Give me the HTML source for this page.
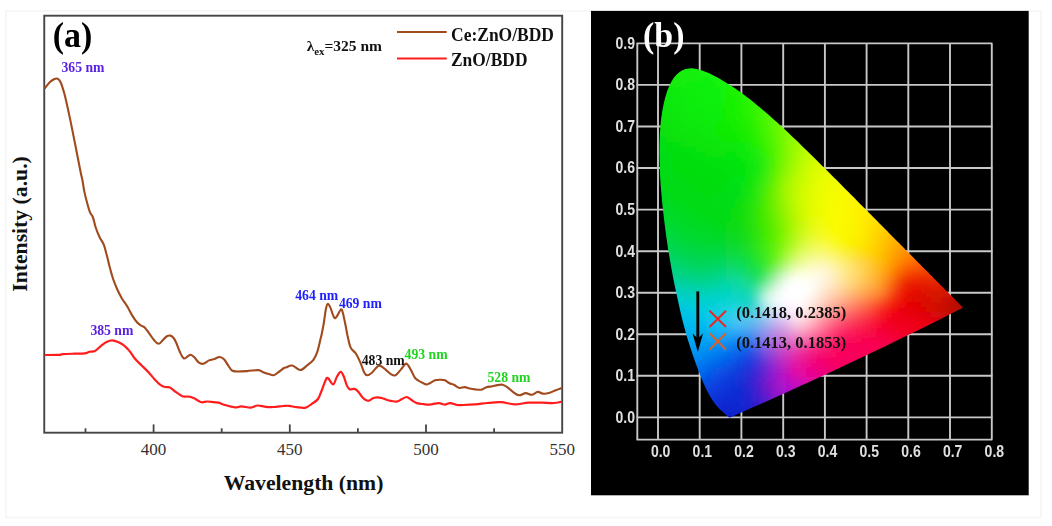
<!DOCTYPE html>
<html><head><meta charset="utf-8"><style>
html,body{margin:0;padding:0;background:#fff;}
body{width:1052px;height:526px;overflow:hidden;}
svg{display:block;filter:blur(0.4px);}
.serif{font-family:"Liberation Serif",serif;}
.sans{font-family:"Liberation Sans",sans-serif;}
#fld rect{width:5px;height:5px;}
</style></head><body>
<svg width="1052" height="526" viewBox="0 0 1052 526">
<defs>
<clipPath id="hs"><path d="M730.2,417.4 L729.2,417.4 L728.3,416.8 L727.4,416.1 L726.7,415.3 L725.7,414.5 L724.8,413.7 L723.8,412.8 L723.0,412.0 L722.1,411.3 L721.1,410.4 L720.1,409.4 L718.9,408.3 L717.7,407.0 L716.4,405.5 L715.7,404.7 L715.0,403.8 L714.2,402.7 L713.4,401.5 L712.5,400.2 L711.5,398.7 L710.5,397.0 L709.5,395.2 L708.4,393.2 L707.2,390.9 L706.0,388.5 L704.8,385.9 L703.4,382.9 L702.1,379.7 L700.6,376.2 L699.1,372.3 L697.5,368.2 L695.8,363.6 L694.1,358.7 L692.3,353.5 L690.4,347.8 L688.4,341.6 L686.4,335.0 L684.5,327.9 L682.5,320.5 L680.6,312.5 L678.7,304.1 L676.8,295.3 L674.8,286.1 L672.9,276.4 L671.1,266.4 L669.3,256.2 L667.6,245.8 L666.1,235.2 L664.7,224.6 L663.4,214.0 L662.3,203.4 L661.3,192.8 L660.5,182.4 L659.9,172.3 L659.6,162.5 L659.4,153.0 L659.5,143.8 L659.8,134.9 L660.4,126.4 L661.2,118.3 L662.3,110.7 L663.7,103.7 L665.3,97.2 L667.1,91.3 L669.2,86.0 L671.5,81.5 L674.0,77.6 L676.7,74.5 L679.6,72.1 L682.5,70.3 L685.6,69.1 L688.8,68.5 L692.0,68.3 L695.3,68.7 L698.6,69.4 L702.0,70.4 L705.3,71.7 L708.7,73.1 L712.1,74.7 L715.5,76.5 L718.9,78.3 L722.2,80.2 L725.4,82.2 L728.6,84.2 L731.8,86.2 L734.9,88.3 L738.0,90.4 L741.1,92.6 L744.2,94.9 L747.2,97.2 L750.3,99.5 L753.3,101.9 L756.3,104.4 L759.3,106.9 L762.3,109.4 L765.3,112.0 L768.3,114.6 L771.3,117.2 L774.3,119.9 L777.3,122.6 L780.2,125.3 L783.2,128.0 L786.2,130.8 L789.2,133.6 L792.1,136.4 L795.1,139.3 L798.1,142.1 L801.0,145.0 L804.0,147.9 L807.0,150.8 L810.0,153.7 L812.9,156.6 L815.9,159.5 L818.9,162.5 L821.8,165.4 L824.8,168.3 L827.7,171.3 L830.7,174.2 L833.6,177.2 L836.6,180.1 L839.5,183.0 L842.4,186.0 L845.3,188.9 L848.2,191.8 L851.1,194.7 L854.0,197.6 L856.8,200.5 L859.7,203.4 L862.5,206.2 L865.3,209.0 L868.1,211.9 L870.8,214.6 L873.6,217.4 L876.3,220.1 L879.0,222.9 L881.6,225.5 L884.3,228.2 L886.9,230.8 L889.4,233.4 L891.9,235.9 L894.4,238.4 L896.9,240.9 L899.3,243.3 L901.7,245.7 L904.0,248.1 L906.2,250.4 L908.4,252.6 L910.5,254.7 L912.6,256.8 L914.6,258.8 L916.5,260.8 L918.4,262.7 L920.3,264.6 L922.1,266.4 L923.9,268.2 L925.6,269.9 L927.2,271.6 L928.8,273.1 L930.3,274.7 L931.8,276.1 L933.2,277.5 L934.5,278.9 L935.8,280.2 L937.1,281.4 L938.2,282.6 L939.4,283.8 L940.5,284.9 L941.5,285.9 L942.5,286.9 L943.5,287.9 L944.4,288.8 L945.2,289.7 L946.0,290.5 L946.8,291.3 L947.6,292.1 L948.3,292.8 L949.7,294.2 L950.9,295.4 L952.0,296.6 L953.1,297.6 L954.1,298.6 L955.0,299.6 L955.9,300.4 L956.7,301.2 L957.4,301.9 L958.3,302.9 L959.1,303.7 L960.0,304.6 L960.8,305.4 L961.6,306.2 L962.3,307.0 L963.1,307.7 L951.5,313.6 L939.9,319.4 L928.2,325.2 L916.6,330.9 L904.9,336.6 L893.3,342.3 L881.6,347.9 L870.0,353.5 L858.3,359.1 L846.7,364.6 L835.1,370.1 L823.4,375.5 L811.8,380.8 L800.1,386.1 L788.5,391.4 L776.8,396.7 L765.2,401.9 L753.5,407.1 L741.9,412.2 Z"/></clipPath>
<filter id="bl" x="-10%" y="-10%" width="120%" height="120%"><feGaussianBlur stdDeviation="3.6"/></filter>
</defs>
<rect x="6" y="11" width="1035" height="506.5" fill="#fff" stroke="#f7f7f7" stroke-width="2"/>
<!-- panel a -->
<rect x="44.25" y="15.7" width="517.95" height="417" fill="#fff" stroke="#454545" stroke-width="1.9"/>
<g stroke="#454545" stroke-width="1.8"><line x1="153.6" y1="432.7" x2="153.6" y2="424.4"/><line x1="289.8" y1="432.7" x2="289.8" y2="424.4"/><line x1="426.0" y1="432.7" x2="426.0" y2="424.4"/><line x1="85.5" y1="432.7" x2="85.5" y2="428.3"/><line x1="221.7" y1="432.7" x2="221.7" y2="428.3"/><line x1="357.9" y1="432.7" x2="357.9" y2="428.3"/><line x1="494.1" y1="432.7" x2="494.1" y2="428.3"/></g>
<g class="serif" font-size="17" fill="#333" text-anchor="middle"><text x="153.6" y="455.3">400</text><text x="289.8" y="455.3">450</text><text x="426.0" y="455.3">500</text><text x="562.2" y="455.3">550</text></g>
<text class="serif" x="303.6" y="490.4" font-size="21.7" font-weight="bold" text-anchor="middle" fill="#111">Wavelength (nm)</text>
<text class="serif" transform="translate(26.8,224) rotate(-90)" font-size="21.7" font-weight="bold" text-anchor="middle" fill="#111">Intensity (a.u.)</text>
<text class="serif" x="52.8" y="47.4" font-size="36" font-weight="bold" fill="#000" textLength="39.6" lengthAdjust="spacingAndGlyphs">(a)</text>
<path d="M44.6,88.5 C45.5,87.4 48.4,83.5 50.0,82.0 C51.6,80.5 52.8,79.8 54.0,79.2 C55.2,78.6 56.3,78.1 57.4,78.6 C58.5,79.1 59.3,79.3 60.5,82.0 C61.7,84.7 63.0,88.5 64.6,94.6 C66.2,100.7 68.2,110.2 70.0,118.6 C71.8,127.0 73.5,136.1 75.3,145.0 C77.1,153.9 79.4,166.2 80.6,172.0 C81.8,177.8 81.8,176.8 82.4,180.0 C83.0,183.2 83.5,187.6 84.3,191.4 C85.1,195.2 86.1,199.3 87.1,202.8 C88.0,206.3 89.0,209.9 90.0,212.3 C91.0,214.7 91.8,214.5 92.8,217.0 C93.8,219.5 94.6,224.2 95.7,227.5 C96.8,230.8 98.2,234.2 99.5,237.0 C100.8,239.8 102.5,241.4 103.8,244.6 C105.0,247.8 105.9,251.9 107.0,256.0 C108.1,260.1 109.2,265.4 110.3,269.3 C111.3,273.2 112.2,276.2 113.3,279.5 C114.4,282.8 115.7,285.8 117.1,289.0 C118.5,292.2 120.2,295.5 121.9,298.5 C123.7,301.5 125.9,304.1 127.6,307.0 C129.3,309.9 130.7,313.1 132.3,315.6 C133.9,318.2 135.6,320.7 137.0,322.3 C138.4,323.9 139.6,324.6 140.9,325.5 C142.2,326.4 143.3,326.0 144.7,327.4 C146.1,328.8 147.8,331.5 149.4,333.7 C151.0,335.9 152.7,338.6 154.2,340.3 C155.7,342.0 157.2,343.8 158.6,343.8 C160.0,343.8 161.4,341.5 162.7,340.3 C164.0,339.1 165.2,337.3 166.5,336.5 C167.8,335.7 169.2,335.4 170.3,335.6 C171.4,335.8 172.2,336.4 173.2,337.5 C174.1,338.6 174.9,339.8 176.0,342.2 C177.1,344.6 178.5,349.0 179.8,351.7 C181.1,354.4 182.4,357.6 183.7,358.4 C185.0,359.2 186.3,357.1 187.5,356.5 C188.7,355.9 189.6,354.5 190.8,354.7 C192.0,354.9 193.3,356.2 194.6,357.5 C195.9,358.8 197.1,361.2 198.6,362.3 C200.1,363.4 201.6,364.1 203.3,363.8 C205.0,363.5 207.1,361.2 209.0,360.4 C210.9,359.6 212.9,359.5 214.7,358.9 C216.4,358.3 217.9,356.9 219.5,357.0 C221.1,357.1 222.8,358.1 224.2,359.5 C225.6,360.9 226.7,363.4 228.0,365.2 C229.3,367.0 230.5,369.3 231.8,370.3 C233.1,371.3 233.1,371.3 235.6,371.4 C238.1,371.5 243.2,371.3 247.0,371.1 C250.8,370.9 255.7,369.9 258.4,370.1 C261.1,370.3 261.4,371.5 263.2,372.2 C264.9,372.9 267.1,373.6 268.9,374.1 C270.6,374.6 272.1,375.5 273.7,375.2 C275.3,374.9 276.7,373.4 278.4,372.2 C280.1,371.0 282.8,368.8 284.1,368.0 C285.4,367.2 284.8,367.8 286.1,367.4 C287.5,367.0 289.8,365.1 292.2,365.5 C294.6,365.9 298.0,370.1 300.5,370.0 C303.0,369.9 305.2,366.8 307.4,365.1 C309.5,363.4 311.8,362.0 313.4,359.8 C315.0,357.6 316.0,355.5 317.2,352.2 C318.4,348.9 319.6,342.9 320.3,340.0 C321.0,337.1 320.9,337.7 321.5,335.0 C322.1,332.3 322.9,328.1 323.7,323.7 C324.4,319.3 325.3,311.8 326.0,308.5 C326.7,305.2 327.2,303.9 327.9,303.8 C328.6,303.7 329.3,305.3 330.4,307.6 C331.4,309.9 333.1,316.2 334.2,317.6 C335.3,319.0 335.9,317.5 337.0,316.1 C338.1,314.8 339.9,310.1 340.8,309.5 C341.8,308.9 341.9,309.6 342.7,312.3 C343.5,315.0 344.8,321.7 345.6,325.6 C346.4,329.6 346.8,332.3 347.6,336.0 C348.5,339.7 349.3,344.7 350.7,347.6 C352.1,350.6 354.4,351.2 356.0,353.7 C357.6,356.2 359.1,359.6 360.5,362.8 C361.9,366.0 363.2,370.6 364.3,372.7 C365.4,374.8 366.1,375.3 367.4,375.3 C368.7,375.3 370.2,374.1 371.9,372.7 C373.5,371.2 375.9,367.8 377.3,366.6 C378.7,365.5 378.9,365.3 380.3,365.8 C381.7,366.3 384.0,368.3 385.6,369.6 C387.2,370.9 388.6,372.8 390.2,373.7 C391.8,374.6 393.7,376.0 395.5,375.3 C397.3,374.6 399.0,371.6 400.8,369.6 C402.6,367.7 404.6,363.6 406.2,363.6 C407.8,363.6 409.2,367.2 410.7,369.6 C412.2,372.1 413.6,376.3 415.3,378.3 C417.0,380.3 418.8,380.8 420.6,381.8 C422.4,382.8 424.4,384.1 425.9,384.4 C427.4,384.6 428.2,384.0 429.7,383.3 C431.2,382.6 433.2,380.9 435.0,380.3 C436.8,379.7 438.7,379.8 440.3,379.8 C441.9,379.8 443.4,379.7 444.9,380.3 C446.4,380.9 448.0,382.6 449.5,383.3 C451.0,384.1 452.4,384.0 454.0,384.8 C455.6,385.6 457.5,387.5 459.3,387.9 C461.1,388.3 462.9,387.0 464.7,387.1 C466.5,387.2 468.3,388.2 470.0,388.6 C471.7,389.0 473.1,389.2 475.0,389.4 C476.9,389.6 479.4,390.0 481.3,389.7 C483.2,389.4 484.5,387.9 486.4,387.3 C488.2,386.7 490.5,386.7 492.4,386.3 C494.2,385.9 495.8,385.4 497.5,385.1 C499.2,384.8 500.9,384.3 502.6,384.7 C504.3,385.1 506.1,386.4 507.8,387.6 C509.5,388.8 511.0,390.6 512.9,391.9 C514.8,393.2 516.8,395.1 518.9,395.3 C521.0,395.5 523.6,393.2 525.7,393.1 C527.8,393.0 529.7,395.0 531.7,394.8 C533.7,394.6 535.9,392.1 537.7,391.9 C539.6,391.7 540.9,393.4 542.8,393.6 C544.6,393.8 546.6,393.7 548.8,393.1 C550.9,392.5 553.6,391.1 555.7,390.2 C557.9,389.3 560.7,388.4 561.7,388.0" fill="none" stroke="#a04a1e" stroke-width="2.1" stroke-linejoin="round"/>
<path d="M44.8,355.0 C47.1,355.0 56.0,355.0 59.0,354.9 C62.0,354.8 60.3,354.3 62.8,354.1 C65.3,353.9 70.5,353.8 74.2,353.7 C77.9,353.6 82.2,353.6 84.7,353.3 C87.2,353.0 87.7,352.2 89.4,351.8 C91.1,351.4 93.2,351.8 95.1,350.9 C97.0,349.9 98.9,347.6 100.8,346.1 C102.7,344.6 104.6,342.9 106.5,342.0 C108.4,341.1 110.3,340.4 112.2,340.4 C114.1,340.4 116.1,341.2 118.0,342.0 C119.9,342.8 121.7,343.7 123.6,345.2 C125.5,346.7 127.5,348.7 129.4,350.9 C131.3,353.1 132.8,356.1 134.8,358.5 C136.8,360.9 139.0,362.8 141.4,365.2 C143.8,367.6 146.8,370.4 149.0,372.8 C151.2,375.2 152.8,377.4 154.7,379.4 C156.6,381.4 158.7,383.5 160.4,384.8 C162.2,386.1 163.6,386.6 165.2,387.0 C166.8,387.4 168.2,386.6 169.9,387.4 C171.6,388.2 173.5,390.3 175.6,391.8 C177.7,393.3 180.4,395.4 182.3,396.2 C184.2,397.0 185.7,396.4 187.0,396.5 C188.3,396.6 188.7,396.4 190.0,396.8 C191.3,397.2 192.7,397.7 194.6,398.6 C196.5,399.5 199.2,401.7 201.3,402.2 C203.4,402.7 204.9,401.5 207.0,401.5 C209.1,401.5 211.8,402.0 213.7,402.2 C215.6,402.4 216.7,402.2 218.4,402.6 C220.1,403.0 221.4,403.9 224.1,404.7 C226.8,405.5 231.8,407.1 234.7,407.4 C237.6,407.7 238.6,406.4 241.3,406.4 C244.0,406.4 248.1,407.8 250.8,407.6 C253.5,407.5 255.0,405.6 257.5,405.5 C260.0,405.4 263.3,406.6 266.0,406.8 C268.7,407.1 270.8,407.1 273.7,407.0 C276.6,406.9 280.6,406.2 283.2,406.0 C285.8,405.8 286.9,405.6 289.1,405.8 C291.4,406.0 293.9,406.9 296.7,407.2 C299.5,407.5 303.3,408.2 305.8,407.6 C308.3,407.0 309.9,405.2 311.9,403.8 C313.9,402.4 316.4,401.3 318.0,399.0 C319.6,396.7 320.5,393.3 321.8,390.2 C323.1,387.1 324.6,382.3 325.6,380.3 C326.6,378.3 326.6,377.3 327.9,378.0 C329.2,378.7 331.7,384.6 333.2,384.4 C334.7,384.1 335.7,378.6 337.0,376.5 C338.3,374.4 339.7,371.9 340.8,371.9 C341.9,371.9 342.8,374.2 343.8,376.5 C344.8,378.8 345.9,383.5 346.9,385.6 C347.9,387.8 348.6,388.8 349.9,389.4 C351.2,389.9 353.1,388.5 354.5,388.9 C355.9,389.3 356.9,390.2 358.3,391.7 C359.7,393.2 361.2,396.3 362.8,397.8 C364.4,399.3 366.2,400.8 368.1,400.8 C370.0,400.8 372.0,398.3 374.2,397.8 C376.4,397.3 378.9,397.4 381.1,397.8 C383.3,398.2 384.7,399.4 387.2,400.0 C389.7,400.6 393.9,401.7 396.3,401.6 C398.7,401.5 399.9,400.1 401.6,399.3 C403.3,398.5 405.0,396.9 406.6,397.0 C408.2,397.1 409.8,399.0 411.5,400.0 C413.2,401.0 414.8,402.4 416.8,403.1 C418.8,403.8 421.5,403.9 423.6,404.1 C425.8,404.4 427.2,404.8 429.7,404.6 C432.2,404.4 436.3,403.1 438.8,403.1 C441.3,403.1 443.0,404.6 444.9,404.6 C446.8,404.6 448.2,403.0 450.2,403.1 C452.2,403.2 455.0,404.7 457.1,405.0 C459.2,405.3 460.1,405.1 463.1,405.0 C466.1,404.9 471.3,404.7 475.3,404.4 C479.3,404.1 482.9,403.4 487.2,403.0 C491.5,402.6 496.3,402.0 500.9,402.2 C505.5,402.4 510.0,404.3 514.6,404.4 C519.2,404.5 523.7,403.0 528.3,402.7 C532.9,402.4 537.7,402.6 542.0,402.7 C546.3,402.8 550.7,403.2 554.0,403.0 C557.3,402.8 560.4,401.9 561.7,401.7" fill="none" stroke="#ff1c1c" stroke-width="2.2" stroke-linejoin="round"/>
<g class="serif" font-weight="bold" font-size="13.7">
<text x="61.5" y="72.1" fill="#5a22e0">365 nm</text>
<text x="90.4" y="335.1" fill="#5a22e0">385 nm</text>
<text x="295.2" y="299.6" fill="#1e1eff">464 nm</text>
<text x="338.9" y="307.6" fill="#1e1eff">469 nm</text>
<text x="361.7" y="365" fill="#111">483 nm</text>
<text x="404.6" y="358.6" fill="#22d422">493 nm</text>
<text x="487.5" y="382" fill="#22d422">528 nm</text>
</g>
<text class="serif" x="306.7" y="51.1" font-size="15.5" font-weight="bold" fill="#111">&#955;<tspan font-size="10.8" dy="4">ex</tspan><tspan dy="-4">=325 nm</tspan></text>
<line x1="397" y1="32" x2="446.7" y2="32" stroke="#a04a1e" stroke-width="2"/>
<line x1="397" y1="58.4" x2="446.7" y2="58.4" stroke="#ff1c1c" stroke-width="2"/>
<g class="serif" font-size="19" font-weight="bold" fill="#111">
<text x="451" y="41" textLength="103" lengthAdjust="spacingAndGlyphs">Ce:ZnO/BDD</text>
<text x="451" y="66.3" textLength="76.5" lengthAdjust="spacingAndGlyphs">ZnO/BDD</text>
</g>
<!-- panel b -->
<rect x="591" y="10.9" width="437.7" height="484.4" fill="#000"/>
<g stroke="#c8c8c8" stroke-width="1.9"><line x1="637.3" y1="43.4" x2="637.3" y2="439.6"/><line x1="658.0" y1="43.4" x2="658.0" y2="439.6"/><line x1="699.7" y1="43.4" x2="699.7" y2="439.6"/><line x1="741.4" y1="43.4" x2="741.4" y2="439.6"/><line x1="783.2" y1="43.4" x2="783.2" y2="439.6"/><line x1="824.9" y1="43.4" x2="824.9" y2="439.6"/><line x1="866.6" y1="43.4" x2="866.6" y2="439.6"/><line x1="908.3" y1="43.4" x2="908.3" y2="439.6"/><line x1="950.0" y1="43.4" x2="950.0" y2="439.6"/><line x1="991.8" y1="43.4" x2="991.8" y2="439.6"/><line x1="636.5" y1="417.4" x2="992.4" y2="417.4"/><line x1="636.5" y1="375.8" x2="992.4" y2="375.8"/><line x1="636.5" y1="334.3" x2="992.4" y2="334.3"/><line x1="636.5" y1="292.7" x2="992.4" y2="292.7"/><line x1="636.5" y1="251.2" x2="992.4" y2="251.2"/><line x1="636.5" y1="209.6" x2="992.4" y2="209.6"/><line x1="636.5" y1="168.0" x2="992.4" y2="168.0"/><line x1="636.5" y1="126.5" x2="992.4" y2="126.5"/><line x1="636.5" y1="84.9" x2="992.4" y2="84.9"/><line x1="636.5" y1="43.4" x2="992.4" y2="43.4"/><line x1="636.5" y1="439.6" x2="992.4" y2="439.6"/></g>
<g clip-path="url(#hs)"><g id="fld" filter="url(#bl)"><rect x="686" y="52" width="5" height="5" fill="#14f00a"/>
<rect x="691" y="52" width="5" height="5" fill="#14f00a"/>
<rect x="696" y="52" width="5" height="5" fill="#14f109"/>
<rect x="676" y="57" width="5" height="5" fill="#14f00a"/>
<rect x="681" y="57" width="5" height="5" fill="#14f00a"/>
<rect x="686" y="57" width="5" height="5" fill="#14f00a"/>
<rect x="691" y="57" width="5" height="5" fill="#14f00a"/>
<rect x="696" y="57" width="5" height="5" fill="#14f109"/>
<rect x="701" y="57" width="5" height="5" fill="#14f109"/>
<rect x="706" y="57" width="5" height="5" fill="#14f109"/>
<rect x="666" y="62" width="5" height="5" fill="#13ee0b"/>
<rect x="671" y="62" width="5" height="5" fill="#13ee0b"/>
<rect x="676" y="62" width="5" height="5" fill="#13ee0b"/>
<rect x="681" y="62" width="5" height="5" fill="#14f00a"/>
<rect x="686" y="62" width="5" height="5" fill="#14f00a"/>
<rect x="691" y="62" width="5" height="5" fill="#14f00a"/>
<rect x="696" y="62" width="5" height="5" fill="#14f109"/>
<rect x="701" y="62" width="5" height="5" fill="#14f109"/>
<rect x="706" y="62" width="5" height="5" fill="#12f109"/>
<rect x="711" y="62" width="5" height="5" fill="#12f109"/>
<rect x="716" y="62" width="5" height="5" fill="#12f109"/>
<rect x="661" y="67" width="5" height="5" fill="#12ec0c"/>
<rect x="666" y="67" width="5" height="5" fill="#12ec0c"/>
<rect x="671" y="67" width="5" height="5" fill="#13ee0b"/>
<rect x="676" y="67" width="5" height="5" fill="#13ee0b"/>
<rect x="681" y="67" width="5" height="5" fill="#13ee0b"/>
<rect x="686" y="67" width="5" height="5" fill="#14f00a"/>
<rect x="691" y="67" width="5" height="5" fill="#14f00a"/>
<rect x="696" y="67" width="5" height="5" fill="#14f109"/>
<rect x="701" y="67" width="5" height="5" fill="#14f109"/>
<rect x="706" y="67" width="5" height="5" fill="#12f109"/>
<rect x="711" y="67" width="5" height="5" fill="#12f109"/>
<rect x="716" y="67" width="5" height="5" fill="#13f209"/>
<rect x="721" y="67" width="5" height="5" fill="#13f209"/>
<rect x="726" y="67" width="5" height="5" fill="#13f209"/>
<rect x="661" y="72" width="5" height="5" fill="#12ec0c"/>
<rect x="666" y="72" width="5" height="5" fill="#12ec0c"/>
<rect x="671" y="72" width="5" height="5" fill="#12ec0c"/>
<rect x="676" y="72" width="5" height="5" fill="#13ee0b"/>
<rect x="681" y="72" width="5" height="5" fill="#13ee0b"/>
<rect x="686" y="72" width="5" height="5" fill="#13ef0a"/>
<rect x="691" y="72" width="5" height="5" fill="#13f00a"/>
<rect x="696" y="72" width="5" height="5" fill="#12f00a"/>
<rect x="701" y="72" width="5" height="5" fill="#12f10a"/>
<rect x="706" y="72" width="5" height="5" fill="#12f109"/>
<rect x="711" y="72" width="5" height="5" fill="#12f109"/>
<rect x="716" y="72" width="5" height="5" fill="#13f209"/>
<rect x="721" y="72" width="5" height="5" fill="#13f209"/>
<rect x="726" y="72" width="5" height="5" fill="#17f207"/>
<rect x="731" y="72" width="5" height="5" fill="#17f207"/>
<rect x="736" y="72" width="5" height="5" fill="#17f207"/>
<rect x="656" y="77" width="5" height="5" fill="#11ea0d"/>
<rect x="661" y="77" width="5" height="5" fill="#12ec0c"/>
<rect x="666" y="77" width="5" height="5" fill="#12ec0c"/>
<rect x="671" y="77" width="5" height="5" fill="#12ec0c"/>
<rect x="676" y="77" width="5" height="5" fill="#12ed0c"/>
<rect x="681" y="77" width="5" height="5" fill="#12ee0b"/>
<rect x="686" y="77" width="5" height="5" fill="#12ef0b"/>
<rect x="691" y="77" width="5" height="5" fill="#12ef0a"/>
<rect x="696" y="77" width="5" height="5" fill="#12f00a"/>
<rect x="701" y="77" width="5" height="5" fill="#11f00a"/>
<rect x="706" y="77" width="5" height="5" fill="#11f109"/>
<rect x="711" y="77" width="5" height="5" fill="#12f109"/>
<rect x="716" y="77" width="5" height="5" fill="#13f209"/>
<rect x="721" y="77" width="5" height="5" fill="#13f209"/>
<rect x="726" y="77" width="5" height="5" fill="#17f207"/>
<rect x="731" y="77" width="5" height="5" fill="#17f207"/>
<rect x="736" y="77" width="5" height="5" fill="#17f207"/>
<rect x="741" y="77" width="5" height="5" fill="#1bf305"/>
<rect x="656" y="82" width="5" height="5" fill="#11ea0d"/>
<rect x="661" y="82" width="5" height="5" fill="#11ea0d"/>
<rect x="666" y="82" width="5" height="5" fill="#11ea0d"/>
<rect x="671" y="82" width="5" height="5" fill="#12eb0c"/>
<rect x="676" y="82" width="5" height="5" fill="#12ec0c"/>
<rect x="681" y="82" width="5" height="5" fill="#12ed0b"/>
<rect x="686" y="82" width="5" height="5" fill="#11ee0b"/>
<rect x="691" y="82" width="5" height="5" fill="#11ef0b"/>
<rect x="696" y="82" width="5" height="5" fill="#11ef0a"/>
<rect x="701" y="82" width="5" height="5" fill="#11f00a"/>
<rect x="706" y="82" width="5" height="5" fill="#11f00a"/>
<rect x="711" y="82" width="5" height="5" fill="#11f109"/>
<rect x="716" y="82" width="5" height="5" fill="#12f108"/>
<rect x="721" y="82" width="5" height="5" fill="#14f208"/>
<rect x="726" y="82" width="5" height="5" fill="#17f207"/>
<rect x="731" y="82" width="5" height="5" fill="#17f207"/>
<rect x="736" y="82" width="5" height="5" fill="#1bf305"/>
<rect x="741" y="82" width="5" height="5" fill="#25f402"/>
<rect x="746" y="82" width="5" height="5" fill="#25f402"/>
<rect x="751" y="82" width="5" height="5" fill="#25f402"/>
<rect x="651" y="87" width="5" height="5" fill="#11ea0d"/>
<rect x="656" y="87" width="5" height="5" fill="#11ea0d"/>
<rect x="661" y="87" width="5" height="5" fill="#11ea0d"/>
<rect x="666" y="87" width="5" height="5" fill="#11ea0d"/>
<rect x="671" y="87" width="5" height="5" fill="#11eb0d"/>
<rect x="676" y="87" width="5" height="5" fill="#11ec0c"/>
<rect x="681" y="87" width="5" height="5" fill="#11ed0c"/>
<rect x="686" y="87" width="5" height="5" fill="#11ee0b"/>
<rect x="691" y="87" width="5" height="5" fill="#11ee0b"/>
<rect x="696" y="87" width="5" height="5" fill="#10ef0a"/>
<rect x="701" y="87" width="5" height="5" fill="#10f00a"/>
<rect x="706" y="87" width="5" height="5" fill="#10f009"/>
<rect x="711" y="87" width="5" height="5" fill="#10f109"/>
<rect x="716" y="87" width="5" height="5" fill="#11f108"/>
<rect x="721" y="87" width="5" height="5" fill="#13f107"/>
<rect x="726" y="87" width="5" height="5" fill="#17f206"/>
<rect x="731" y="87" width="5" height="5" fill="#1bf305"/>
<rect x="736" y="87" width="5" height="5" fill="#1bf305"/>
<rect x="741" y="87" width="5" height="5" fill="#25f402"/>
<rect x="746" y="87" width="5" height="5" fill="#25f402"/>
<rect x="751" y="87" width="5" height="5" fill="#25f402"/>
<rect x="756" y="87" width="5" height="5" fill="#2bf401"/>
<rect x="651" y="92" width="5" height="5" fill="#11e90e"/>
<rect x="656" y="92" width="5" height="5" fill="#11e90e"/>
<rect x="661" y="92" width="5" height="5" fill="#11e90e"/>
<rect x="666" y="92" width="5" height="5" fill="#11e90e"/>
<rect x="671" y="92" width="5" height="5" fill="#11ea0d"/>
<rect x="676" y="92" width="5" height="5" fill="#11eb0c"/>
<rect x="681" y="92" width="5" height="5" fill="#10ec0c"/>
<rect x="686" y="92" width="5" height="5" fill="#10ed0b"/>
<rect x="691" y="92" width="5" height="5" fill="#10ee0b"/>
<rect x="696" y="92" width="5" height="5" fill="#10ef0a"/>
<rect x="701" y="92" width="5" height="5" fill="#10ef0a"/>
<rect x="706" y="92" width="5" height="5" fill="#10f009"/>
<rect x="711" y="92" width="5" height="5" fill="#10f009"/>
<rect x="716" y="92" width="5" height="5" fill="#11f108"/>
<rect x="721" y="92" width="5" height="5" fill="#13f107"/>
<rect x="726" y="92" width="5" height="5" fill="#16f206"/>
<rect x="731" y="92" width="5" height="5" fill="#1af205"/>
<rect x="736" y="92" width="5" height="5" fill="#1ff303"/>
<rect x="741" y="92" width="5" height="5" fill="#25f402"/>
<rect x="746" y="92" width="5" height="5" fill="#25f402"/>
<rect x="751" y="92" width="5" height="5" fill="#2bf401"/>
<rect x="756" y="92" width="5" height="5" fill="#2bf401"/>
<rect x="761" y="92" width="5" height="5" fill="#32f500"/>
<rect x="651" y="97" width="5" height="5" fill="#0ee50f"/>
<rect x="656" y="97" width="5" height="5" fill="#10e80e"/>
<rect x="661" y="97" width="5" height="5" fill="#10e80e"/>
<rect x="666" y="97" width="5" height="5" fill="#10e80e"/>
<rect x="671" y="97" width="5" height="5" fill="#10e90d"/>
<rect x="676" y="97" width="5" height="5" fill="#10ea0c"/>
<rect x="681" y="97" width="5" height="5" fill="#10eb0c"/>
<rect x="686" y="97" width="5" height="5" fill="#10ec0b"/>
<rect x="691" y="97" width="5" height="5" fill="#10ed0b"/>
<rect x="696" y="97" width="5" height="5" fill="#0fee0a"/>
<rect x="701" y="97" width="5" height="5" fill="#0fef0a"/>
<rect x="706" y="97" width="5" height="5" fill="#0fef09"/>
<rect x="711" y="97" width="5" height="5" fill="#10f008"/>
<rect x="716" y="97" width="5" height="5" fill="#11f008"/>
<rect x="721" y="97" width="5" height="5" fill="#13f107"/>
<rect x="726" y="97" width="5" height="5" fill="#15f106"/>
<rect x="731" y="97" width="5" height="5" fill="#19f204"/>
<rect x="736" y="97" width="5" height="5" fill="#1ef203"/>
<rect x="741" y="97" width="5" height="5" fill="#24f302"/>
<rect x="746" y="97" width="5" height="5" fill="#2bf401"/>
<rect x="751" y="97" width="5" height="5" fill="#2bf401"/>
<rect x="756" y="97" width="5" height="5" fill="#32f500"/>
<rect x="761" y="97" width="5" height="5" fill="#32f500"/>
<rect x="766" y="97" width="5" height="5" fill="#3bf500"/>
<rect x="651" y="102" width="5" height="5" fill="#0ee50f"/>
<rect x="656" y="102" width="5" height="5" fill="#0ee50f"/>
<rect x="661" y="102" width="5" height="5" fill="#0ee50f"/>
<rect x="666" y="102" width="5" height="5" fill="#0fe70e"/>
<rect x="671" y="102" width="5" height="5" fill="#0fe80d"/>
<rect x="676" y="102" width="5" height="5" fill="#0fe90d"/>
<rect x="681" y="102" width="5" height="5" fill="#0fea0c"/>
<rect x="686" y="102" width="5" height="5" fill="#0fec0b"/>
<rect x="691" y="102" width="5" height="5" fill="#0fed0b"/>
<rect x="696" y="102" width="5" height="5" fill="#0fee0a"/>
<rect x="701" y="102" width="5" height="5" fill="#0fee09"/>
<rect x="706" y="102" width="5" height="5" fill="#0fef09"/>
<rect x="711" y="102" width="5" height="5" fill="#0fef08"/>
<rect x="716" y="102" width="5" height="5" fill="#10ef07"/>
<rect x="721" y="102" width="5" height="5" fill="#12f006"/>
<rect x="726" y="102" width="5" height="5" fill="#15f005"/>
<rect x="731" y="102" width="5" height="5" fill="#19f104"/>
<rect x="736" y="102" width="5" height="5" fill="#1df203"/>
<rect x="741" y="102" width="5" height="5" fill="#23f302"/>
<rect x="746" y="102" width="5" height="5" fill="#2af401"/>
<rect x="751" y="102" width="5" height="5" fill="#32f500"/>
<rect x="756" y="102" width="5" height="5" fill="#32f500"/>
<rect x="761" y="102" width="5" height="5" fill="#3bf500"/>
<rect x="766" y="102" width="5" height="5" fill="#3bf500"/>
<rect x="771" y="102" width="5" height="5" fill="#45f600"/>
<rect x="646" y="107" width="5" height="5" fill="#0ee50f"/>
<rect x="651" y="107" width="5" height="5" fill="#0ee50f"/>
<rect x="656" y="107" width="5" height="5" fill="#0ee50f"/>
<rect x="661" y="107" width="5" height="5" fill="#0ee50f"/>
<rect x="666" y="107" width="5" height="5" fill="#0ee60e"/>
<rect x="671" y="107" width="5" height="5" fill="#0ee70d"/>
<rect x="676" y="107" width="5" height="5" fill="#0ee80d"/>
<rect x="681" y="107" width="5" height="5" fill="#0ee90c"/>
<rect x="686" y="107" width="5" height="5" fill="#0eeb0b"/>
<rect x="691" y="107" width="5" height="5" fill="#0eec0b"/>
<rect x="696" y="107" width="5" height="5" fill="#0eed0a"/>
<rect x="701" y="107" width="5" height="5" fill="#0eed09"/>
<rect x="706" y="107" width="5" height="5" fill="#0eee08"/>
<rect x="711" y="107" width="5" height="5" fill="#0fee08"/>
<rect x="716" y="107" width="5" height="5" fill="#10ef07"/>
<rect x="721" y="107" width="5" height="5" fill="#11ef06"/>
<rect x="726" y="107" width="5" height="5" fill="#14f005"/>
<rect x="731" y="107" width="5" height="5" fill="#18f004"/>
<rect x="736" y="107" width="5" height="5" fill="#1cf103"/>
<rect x="741" y="107" width="5" height="5" fill="#22f202"/>
<rect x="746" y="107" width="5" height="5" fill="#29f301"/>
<rect x="751" y="107" width="5" height="5" fill="#31f400"/>
<rect x="756" y="107" width="5" height="5" fill="#3bf500"/>
<rect x="761" y="107" width="5" height="5" fill="#3bf500"/>
<rect x="766" y="107" width="5" height="5" fill="#45f600"/>
<rect x="771" y="107" width="5" height="5" fill="#5df800"/>
<rect x="776" y="107" width="5" height="5" fill="#5df800"/>
<rect x="781" y="107" width="5" height="5" fill="#5df800"/>
<rect x="646" y="112" width="5" height="5" fill="#0de410"/>
<rect x="651" y="112" width="5" height="5" fill="#0de410"/>
<rect x="656" y="112" width="5" height="5" fill="#0de410"/>
<rect x="661" y="112" width="5" height="5" fill="#0de410"/>
<rect x="666" y="112" width="5" height="5" fill="#0de50f"/>
<rect x="671" y="112" width="5" height="5" fill="#0de60e"/>
<rect x="676" y="112" width="5" height="5" fill="#0de70d"/>
<rect x="681" y="112" width="5" height="5" fill="#0de80c"/>
<rect x="686" y="112" width="5" height="5" fill="#0de90b"/>
<rect x="691" y="112" width="5" height="5" fill="#0deb0a"/>
<rect x="696" y="112" width="5" height="5" fill="#0deb0a"/>
<rect x="701" y="112" width="5" height="5" fill="#0dec09"/>
<rect x="706" y="112" width="5" height="5" fill="#0ded08"/>
<rect x="711" y="112" width="5" height="5" fill="#0eed07"/>
<rect x="716" y="112" width="5" height="5" fill="#0fee07"/>
<rect x="721" y="112" width="5" height="5" fill="#11ee06"/>
<rect x="726" y="112" width="5" height="5" fill="#13ef05"/>
<rect x="731" y="112" width="5" height="5" fill="#17ef04"/>
<rect x="736" y="112" width="5" height="5" fill="#1bf003"/>
<rect x="741" y="112" width="5" height="5" fill="#21f102"/>
<rect x="746" y="112" width="5" height="5" fill="#28f202"/>
<rect x="751" y="112" width="5" height="5" fill="#30f301"/>
<rect x="756" y="112" width="5" height="5" fill="#3af500"/>
<rect x="761" y="112" width="5" height="5" fill="#45f600"/>
<rect x="766" y="112" width="5" height="5" fill="#45f600"/>
<rect x="771" y="112" width="5" height="5" fill="#5df800"/>
<rect x="776" y="112" width="5" height="5" fill="#5df800"/>
<rect x="781" y="112" width="5" height="5" fill="#5df800"/>
<rect x="786" y="112" width="5" height="5" fill="#6bf900"/>
<rect x="646" y="117" width="5" height="5" fill="#0be310"/>
<rect x="651" y="117" width="5" height="5" fill="#0be310"/>
<rect x="656" y="117" width="5" height="5" fill="#0be310"/>
<rect x="661" y="117" width="5" height="5" fill="#0be310"/>
<rect x="666" y="117" width="5" height="5" fill="#0ce40f"/>
<rect x="671" y="117" width="5" height="5" fill="#0ce50e"/>
<rect x="676" y="117" width="5" height="5" fill="#0ce60d"/>
<rect x="681" y="117" width="5" height="5" fill="#0ce70c"/>
<rect x="686" y="117" width="5" height="5" fill="#0ce80b"/>
<rect x="691" y="117" width="5" height="5" fill="#0ce90a"/>
<rect x="696" y="117" width="5" height="5" fill="#0cea09"/>
<rect x="701" y="117" width="5" height="5" fill="#0ceb09"/>
<rect x="706" y="117" width="5" height="5" fill="#0cec08"/>
<rect x="711" y="117" width="5" height="5" fill="#0dec07"/>
<rect x="716" y="117" width="5" height="5" fill="#0eed07"/>
<rect x="721" y="117" width="5" height="5" fill="#0fed06"/>
<rect x="726" y="117" width="5" height="5" fill="#12ee05"/>
<rect x="731" y="117" width="5" height="5" fill="#15ef04"/>
<rect x="736" y="117" width="5" height="5" fill="#1aef04"/>
<rect x="741" y="117" width="5" height="5" fill="#1ff003"/>
<rect x="746" y="117" width="5" height="5" fill="#26f102"/>
<rect x="751" y="117" width="5" height="5" fill="#2ff301"/>
<rect x="756" y="117" width="5" height="5" fill="#39f401"/>
<rect x="761" y="117" width="5" height="5" fill="#44f500"/>
<rect x="766" y="117" width="5" height="5" fill="#50f700"/>
<rect x="771" y="117" width="5" height="5" fill="#5df800"/>
<rect x="776" y="117" width="5" height="5" fill="#5df800"/>
<rect x="781" y="117" width="5" height="5" fill="#6bf900"/>
<rect x="786" y="117" width="5" height="5" fill="#6bf900"/>
<rect x="791" y="117" width="5" height="5" fill="#79fa00"/>
<rect x="646" y="122" width="5" height="5" fill="#0ae211"/>
<rect x="651" y="122" width="5" height="5" fill="#0ae211"/>
<rect x="656" y="122" width="5" height="5" fill="#0ae211"/>
<rect x="661" y="122" width="5" height="5" fill="#0ae211"/>
<rect x="666" y="122" width="5" height="5" fill="#0ae30f"/>
<rect x="671" y="122" width="5" height="5" fill="#0ae40e"/>
<rect x="676" y="122" width="5" height="5" fill="#0be50d"/>
<rect x="681" y="122" width="5" height="5" fill="#0be60c"/>
<rect x="686" y="122" width="5" height="5" fill="#0be70b"/>
<rect x="691" y="122" width="5" height="5" fill="#0be80a"/>
<rect x="696" y="122" width="5" height="5" fill="#0be909"/>
<rect x="701" y="122" width="5" height="5" fill="#0bea08"/>
<rect x="706" y="122" width="5" height="5" fill="#0bea08"/>
<rect x="711" y="122" width="5" height="5" fill="#0ceb07"/>
<rect x="716" y="122" width="5" height="5" fill="#0deb06"/>
<rect x="721" y="122" width="5" height="5" fill="#0eec06"/>
<rect x="726" y="122" width="5" height="5" fill="#10ed05"/>
<rect x="731" y="122" width="5" height="5" fill="#14ed05"/>
<rect x="736" y="122" width="5" height="5" fill="#18ee04"/>
<rect x="741" y="122" width="5" height="5" fill="#1def03"/>
<rect x="746" y="122" width="5" height="5" fill="#24f003"/>
<rect x="751" y="122" width="5" height="5" fill="#2df202"/>
<rect x="756" y="122" width="5" height="5" fill="#37f302"/>
<rect x="761" y="122" width="5" height="5" fill="#42f501"/>
<rect x="766" y="122" width="5" height="5" fill="#4ff601"/>
<rect x="771" y="122" width="5" height="5" fill="#5df800"/>
<rect x="776" y="122" width="5" height="5" fill="#6bf900"/>
<rect x="781" y="122" width="5" height="5" fill="#6bf900"/>
<rect x="786" y="122" width="5" height="5" fill="#79fa00"/>
<rect x="791" y="122" width="5" height="5" fill="#79fa00"/>
<rect x="796" y="122" width="5" height="5" fill="#86fa00"/>
<rect x="646" y="127" width="5" height="5" fill="#09e111"/>
<rect x="651" y="127" width="5" height="5" fill="#09e111"/>
<rect x="656" y="127" width="5" height="5" fill="#09e111"/>
<rect x="661" y="127" width="5" height="5" fill="#09e111"/>
<rect x="666" y="127" width="5" height="5" fill="#09e210"/>
<rect x="671" y="127" width="5" height="5" fill="#09e30e"/>
<rect x="676" y="127" width="5" height="5" fill="#09e40d"/>
<rect x="681" y="127" width="5" height="5" fill="#0ae50c"/>
<rect x="686" y="127" width="5" height="5" fill="#0ae60b"/>
<rect x="691" y="127" width="5" height="5" fill="#0ae70a"/>
<rect x="696" y="127" width="5" height="5" fill="#0ae709"/>
<rect x="701" y="127" width="5" height="5" fill="#0ae808"/>
<rect x="706" y="127" width="5" height="5" fill="#0ae908"/>
<rect x="711" y="127" width="5" height="5" fill="#0bea07"/>
<rect x="716" y="127" width="5" height="5" fill="#0cea06"/>
<rect x="721" y="127" width="5" height="5" fill="#0deb06"/>
<rect x="726" y="127" width="5" height="5" fill="#0fec05"/>
<rect x="731" y="127" width="5" height="5" fill="#12ec05"/>
<rect x="736" y="127" width="5" height="5" fill="#16ed05"/>
<rect x="741" y="127" width="5" height="5" fill="#1bee04"/>
<rect x="746" y="127" width="5" height="5" fill="#22ef04"/>
<rect x="751" y="127" width="5" height="5" fill="#2af103"/>
<rect x="756" y="127" width="5" height="5" fill="#34f202"/>
<rect x="761" y="127" width="5" height="5" fill="#40f402"/>
<rect x="766" y="127" width="5" height="5" fill="#4df501"/>
<rect x="771" y="127" width="5" height="5" fill="#5cf701"/>
<rect x="776" y="127" width="5" height="5" fill="#6af800"/>
<rect x="781" y="127" width="5" height="5" fill="#79fa00"/>
<rect x="786" y="127" width="5" height="5" fill="#79fa00"/>
<rect x="791" y="127" width="5" height="5" fill="#86fa00"/>
<rect x="796" y="127" width="5" height="5" fill="#86fa00"/>
<rect x="801" y="127" width="5" height="5" fill="#95fb00"/>
<rect x="646" y="132" width="5" height="5" fill="#07e012"/>
<rect x="651" y="132" width="5" height="5" fill="#07e012"/>
<rect x="656" y="132" width="5" height="5" fill="#07e012"/>
<rect x="661" y="132" width="5" height="5" fill="#07e012"/>
<rect x="666" y="132" width="5" height="5" fill="#08e110"/>
<rect x="671" y="132" width="5" height="5" fill="#08e20f"/>
<rect x="676" y="132" width="5" height="5" fill="#08e30d"/>
<rect x="681" y="132" width="5" height="5" fill="#09e40c"/>
<rect x="686" y="132" width="5" height="5" fill="#09e40b"/>
<rect x="691" y="132" width="5" height="5" fill="#09e50a"/>
<rect x="696" y="132" width="5" height="5" fill="#09e609"/>
<rect x="701" y="132" width="5" height="5" fill="#09e708"/>
<rect x="706" y="132" width="5" height="5" fill="#09e807"/>
<rect x="711" y="132" width="5" height="5" fill="#0ae807"/>
<rect x="716" y="132" width="5" height="5" fill="#0ae906"/>
<rect x="721" y="132" width="5" height="5" fill="#0bea06"/>
<rect x="726" y="132" width="5" height="5" fill="#0dea06"/>
<rect x="731" y="132" width="5" height="5" fill="#0feb06"/>
<rect x="736" y="132" width="5" height="5" fill="#13ec05"/>
<rect x="741" y="132" width="5" height="5" fill="#18ed05"/>
<rect x="746" y="132" width="5" height="5" fill="#1fee04"/>
<rect x="751" y="132" width="5" height="5" fill="#27f004"/>
<rect x="756" y="132" width="5" height="5" fill="#31f103"/>
<rect x="761" y="132" width="5" height="5" fill="#3df303"/>
<rect x="766" y="132" width="5" height="5" fill="#4bf402"/>
<rect x="771" y="132" width="5" height="5" fill="#5af602"/>
<rect x="776" y="132" width="5" height="5" fill="#69f801"/>
<rect x="781" y="132" width="5" height="5" fill="#78f901"/>
<rect x="786" y="132" width="5" height="5" fill="#86fa00"/>
<rect x="791" y="132" width="5" height="5" fill="#86fa00"/>
<rect x="796" y="132" width="5" height="5" fill="#95fb00"/>
<rect x="801" y="132" width="5" height="5" fill="#95fb00"/>
<rect x="806" y="132" width="5" height="5" fill="#a4fc00"/>
<rect x="646" y="137" width="5" height="5" fill="#06df12"/>
<rect x="651" y="137" width="5" height="5" fill="#06df12"/>
<rect x="656" y="137" width="5" height="5" fill="#06df12"/>
<rect x="661" y="137" width="5" height="5" fill="#06df12"/>
<rect x="666" y="137" width="5" height="5" fill="#07e010"/>
<rect x="671" y="137" width="5" height="5" fill="#07e10f"/>
<rect x="676" y="137" width="5" height="5" fill="#07e20d"/>
<rect x="681" y="137" width="5" height="5" fill="#08e20c"/>
<rect x="686" y="137" width="5" height="5" fill="#08e30b"/>
<rect x="691" y="137" width="5" height="5" fill="#08e40a"/>
<rect x="696" y="137" width="5" height="5" fill="#08e509"/>
<rect x="701" y="137" width="5" height="5" fill="#08e608"/>
<rect x="706" y="137" width="5" height="5" fill="#09e607"/>
<rect x="711" y="137" width="5" height="5" fill="#09e707"/>
<rect x="716" y="137" width="5" height="5" fill="#09e807"/>
<rect x="721" y="137" width="5" height="5" fill="#0ae806"/>
<rect x="726" y="137" width="5" height="5" fill="#0be906"/>
<rect x="731" y="137" width="5" height="5" fill="#0dea06"/>
<rect x="736" y="137" width="5" height="5" fill="#10eb06"/>
<rect x="741" y="137" width="5" height="5" fill="#15ec06"/>
<rect x="746" y="137" width="5" height="5" fill="#1bed05"/>
<rect x="751" y="137" width="5" height="5" fill="#23ee05"/>
<rect x="756" y="137" width="5" height="5" fill="#2df004"/>
<rect x="761" y="137" width="5" height="5" fill="#3af204"/>
<rect x="766" y="137" width="5" height="5" fill="#48f303"/>
<rect x="771" y="137" width="5" height="5" fill="#57f502"/>
<rect x="776" y="137" width="5" height="5" fill="#67f702"/>
<rect x="781" y="137" width="5" height="5" fill="#77f801"/>
<rect x="786" y="137" width="5" height="5" fill="#86fa01"/>
<rect x="791" y="137" width="5" height="5" fill="#95fb00"/>
<rect x="796" y="137" width="5" height="5" fill="#95fb00"/>
<rect x="801" y="137" width="5" height="5" fill="#a4fc00"/>
<rect x="806" y="137" width="5" height="5" fill="#a4fc00"/>
<rect x="811" y="137" width="5" height="5" fill="#b4fc00"/>
<rect x="646" y="142" width="5" height="5" fill="#05de13"/>
<rect x="651" y="142" width="5" height="5" fill="#05de13"/>
<rect x="656" y="142" width="5" height="5" fill="#05de13"/>
<rect x="661" y="142" width="5" height="5" fill="#05de13"/>
<rect x="666" y="142" width="5" height="5" fill="#06df11"/>
<rect x="671" y="142" width="5" height="5" fill="#06e00f"/>
<rect x="676" y="142" width="5" height="5" fill="#06e10e"/>
<rect x="681" y="142" width="5" height="5" fill="#07e10c"/>
<rect x="686" y="142" width="5" height="5" fill="#07e20b"/>
<rect x="691" y="142" width="5" height="5" fill="#07e30a"/>
<rect x="696" y="142" width="5" height="5" fill="#08e409"/>
<rect x="701" y="142" width="5" height="5" fill="#08e408"/>
<rect x="706" y="142" width="5" height="5" fill="#08e508"/>
<rect x="711" y="142" width="5" height="5" fill="#08e607"/>
<rect x="716" y="142" width="5" height="5" fill="#08e607"/>
<rect x="721" y="142" width="5" height="5" fill="#09e707"/>
<rect x="726" y="142" width="5" height="5" fill="#09e807"/>
<rect x="731" y="142" width="5" height="5" fill="#0be807"/>
<rect x="736" y="142" width="5" height="5" fill="#0de907"/>
<rect x="741" y="142" width="5" height="5" fill="#11eb07"/>
<rect x="746" y="142" width="5" height="5" fill="#17ec07"/>
<rect x="751" y="142" width="5" height="5" fill="#1fed06"/>
<rect x="756" y="142" width="5" height="5" fill="#29ef06"/>
<rect x="761" y="142" width="5" height="5" fill="#36f005"/>
<rect x="766" y="142" width="5" height="5" fill="#44f204"/>
<rect x="771" y="142" width="5" height="5" fill="#55f403"/>
<rect x="776" y="142" width="5" height="5" fill="#65f602"/>
<rect x="781" y="142" width="5" height="5" fill="#76f802"/>
<rect x="786" y="142" width="5" height="5" fill="#87f901"/>
<rect x="791" y="142" width="5" height="5" fill="#96fb01"/>
<rect x="796" y="142" width="5" height="5" fill="#a4fc00"/>
<rect x="801" y="142" width="5" height="5" fill="#a4fc00"/>
<rect x="806" y="142" width="5" height="5" fill="#b4fc00"/>
<rect x="811" y="142" width="5" height="5" fill="#b4fc00"/>
<rect x="816" y="142" width="5" height="5" fill="#c3fd00"/>
<rect x="646" y="147" width="5" height="5" fill="#04de13"/>
<rect x="651" y="147" width="5" height="5" fill="#04de13"/>
<rect x="656" y="147" width="5" height="5" fill="#04de13"/>
<rect x="661" y="147" width="5" height="5" fill="#04de13"/>
<rect x="666" y="147" width="5" height="5" fill="#05de11"/>
<rect x="671" y="147" width="5" height="5" fill="#05df0f"/>
<rect x="676" y="147" width="5" height="5" fill="#05e00e"/>
<rect x="681" y="147" width="5" height="5" fill="#06e00c"/>
<rect x="686" y="147" width="5" height="5" fill="#06e10b"/>
<rect x="691" y="147" width="5" height="5" fill="#06e20a"/>
<rect x="696" y="147" width="5" height="5" fill="#07e209"/>
<rect x="701" y="147" width="5" height="5" fill="#07e308"/>
<rect x="706" y="147" width="5" height="5" fill="#07e408"/>
<rect x="711" y="147" width="5" height="5" fill="#07e407"/>
<rect x="716" y="147" width="5" height="5" fill="#07e507"/>
<rect x="721" y="147" width="5" height="5" fill="#07e607"/>
<rect x="726" y="147" width="5" height="5" fill="#08e608"/>
<rect x="731" y="147" width="5" height="5" fill="#08e708"/>
<rect x="736" y="147" width="5" height="5" fill="#0ae808"/>
<rect x="741" y="147" width="5" height="5" fill="#0ee908"/>
<rect x="746" y="147" width="5" height="5" fill="#13ea08"/>
<rect x="751" y="147" width="5" height="5" fill="#1aec08"/>
<rect x="756" y="147" width="5" height="5" fill="#24ed07"/>
<rect x="761" y="147" width="5" height="5" fill="#31ef06"/>
<rect x="766" y="147" width="5" height="5" fill="#41f105"/>
<rect x="771" y="147" width="5" height="5" fill="#52f304"/>
<rect x="776" y="147" width="5" height="5" fill="#64f503"/>
<rect x="781" y="147" width="5" height="5" fill="#76f702"/>
<rect x="786" y="147" width="5" height="5" fill="#88f901"/>
<rect x="791" y="147" width="5" height="5" fill="#98fa01"/>
<rect x="796" y="147" width="5" height="5" fill="#a6fb00"/>
<rect x="801" y="147" width="5" height="5" fill="#b4fc00"/>
<rect x="806" y="147" width="5" height="5" fill="#b4fc00"/>
<rect x="811" y="147" width="5" height="5" fill="#c3fd00"/>
<rect x="816" y="147" width="5" height="5" fill="#c3fd00"/>
<rect x="821" y="147" width="5" height="5" fill="#d0fd00"/>
<rect x="646" y="152" width="5" height="5" fill="#04dd13"/>
<rect x="651" y="152" width="5" height="5" fill="#04dd13"/>
<rect x="656" y="152" width="5" height="5" fill="#04dd13"/>
<rect x="661" y="152" width="5" height="5" fill="#04dd13"/>
<rect x="666" y="152" width="5" height="5" fill="#04de12"/>
<rect x="671" y="152" width="5" height="5" fill="#04de10"/>
<rect x="676" y="152" width="5" height="5" fill="#05df0e"/>
<rect x="681" y="152" width="5" height="5" fill="#05df0d"/>
<rect x="686" y="152" width="5" height="5" fill="#05e00b"/>
<rect x="691" y="152" width="5" height="5" fill="#06e10a"/>
<rect x="696" y="152" width="5" height="5" fill="#06e109"/>
<rect x="701" y="152" width="5" height="5" fill="#06e209"/>
<rect x="706" y="152" width="5" height="5" fill="#07e208"/>
<rect x="711" y="152" width="5" height="5" fill="#07e308"/>
<rect x="716" y="152" width="5" height="5" fill="#07e408"/>
<rect x="721" y="152" width="5" height="5" fill="#07e408"/>
<rect x="726" y="152" width="5" height="5" fill="#06e509"/>
<rect x="731" y="152" width="5" height="5" fill="#06e609"/>
<rect x="736" y="152" width="5" height="5" fill="#08e709"/>
<rect x="741" y="152" width="5" height="5" fill="#0ae80a"/>
<rect x="746" y="152" width="5" height="5" fill="#0fe909"/>
<rect x="751" y="152" width="5" height="5" fill="#16eb09"/>
<rect x="756" y="152" width="5" height="5" fill="#20ec08"/>
<rect x="761" y="152" width="5" height="5" fill="#2dee07"/>
<rect x="766" y="152" width="5" height="5" fill="#3ef006"/>
<rect x="771" y="152" width="5" height="5" fill="#50f205"/>
<rect x="776" y="152" width="5" height="5" fill="#64f403"/>
<rect x="781" y="152" width="5" height="5" fill="#77f602"/>
<rect x="786" y="152" width="5" height="5" fill="#89f801"/>
<rect x="791" y="152" width="5" height="5" fill="#9afa01"/>
<rect x="796" y="152" width="5" height="5" fill="#a9fb00"/>
<rect x="801" y="152" width="5" height="5" fill="#b7fc00"/>
<rect x="806" y="152" width="5" height="5" fill="#c3fd00"/>
<rect x="811" y="152" width="5" height="5" fill="#c3fd00"/>
<rect x="816" y="152" width="5" height="5" fill="#d0fd00"/>
<rect x="821" y="152" width="5" height="5" fill="#d0fd00"/>
<rect x="826" y="152" width="5" height="5" fill="#dbfd00"/>
<rect x="646" y="157" width="5" height="5" fill="#03dc14"/>
<rect x="651" y="157" width="5" height="5" fill="#03dc14"/>
<rect x="656" y="157" width="5" height="5" fill="#03dc14"/>
<rect x="661" y="157" width="5" height="5" fill="#03dc14"/>
<rect x="666" y="157" width="5" height="5" fill="#03dd12"/>
<rect x="671" y="157" width="5" height="5" fill="#04dd10"/>
<rect x="676" y="157" width="5" height="5" fill="#04de0e"/>
<rect x="681" y="157" width="5" height="5" fill="#04df0d"/>
<rect x="686" y="157" width="5" height="5" fill="#05df0c"/>
<rect x="691" y="157" width="5" height="5" fill="#05e00b"/>
<rect x="696" y="157" width="5" height="5" fill="#05e00a"/>
<rect x="701" y="157" width="5" height="5" fill="#06e109"/>
<rect x="706" y="157" width="5" height="5" fill="#06e109"/>
<rect x="711" y="157" width="5" height="5" fill="#06e208"/>
<rect x="716" y="157" width="5" height="5" fill="#06e208"/>
<rect x="721" y="157" width="5" height="5" fill="#06e309"/>
<rect x="726" y="157" width="5" height="5" fill="#05e40a"/>
<rect x="731" y="157" width="5" height="5" fill="#04e50a"/>
<rect x="736" y="157" width="5" height="5" fill="#05e60b"/>
<rect x="741" y="157" width="5" height="5" fill="#07e70b"/>
<rect x="746" y="157" width="5" height="5" fill="#0ce80b"/>
<rect x="751" y="157" width="5" height="5" fill="#12e90a"/>
<rect x="756" y="157" width="5" height="5" fill="#1ceb09"/>
<rect x="761" y="157" width="5" height="5" fill="#2aed08"/>
<rect x="766" y="157" width="5" height="5" fill="#3cef07"/>
<rect x="771" y="157" width="5" height="5" fill="#50f205"/>
<rect x="776" y="157" width="5" height="5" fill="#65f404"/>
<rect x="781" y="157" width="5" height="5" fill="#79f603"/>
<rect x="786" y="157" width="5" height="5" fill="#8cf801"/>
<rect x="791" y="157" width="5" height="5" fill="#9df901"/>
<rect x="796" y="157" width="5" height="5" fill="#adfb00"/>
<rect x="801" y="157" width="5" height="5" fill="#bafc00"/>
<rect x="806" y="157" width="5" height="5" fill="#c6fc00"/>
<rect x="811" y="157" width="5" height="5" fill="#d0fd00"/>
<rect x="816" y="157" width="5" height="5" fill="#d0fd00"/>
<rect x="821" y="157" width="5" height="5" fill="#dbfd00"/>
<rect x="826" y="157" width="5" height="5" fill="#dbfd00"/>
<rect x="831" y="157" width="5" height="5" fill="#e4fd00"/>
<rect x="646" y="162" width="5" height="5" fill="#02dc15"/>
<rect x="651" y="162" width="5" height="5" fill="#02dc15"/>
<rect x="656" y="162" width="5" height="5" fill="#02dc15"/>
<rect x="661" y="162" width="5" height="5" fill="#02dc15"/>
<rect x="666" y="162" width="5" height="5" fill="#03dc13"/>
<rect x="671" y="162" width="5" height="5" fill="#03dd11"/>
<rect x="676" y="162" width="5" height="5" fill="#03dd0f"/>
<rect x="681" y="162" width="5" height="5" fill="#03de0e"/>
<rect x="686" y="162" width="5" height="5" fill="#04de0c"/>
<rect x="691" y="162" width="5" height="5" fill="#04df0b"/>
<rect x="696" y="162" width="5" height="5" fill="#04df0a"/>
<rect x="701" y="162" width="5" height="5" fill="#05e00a"/>
<rect x="706" y="162" width="5" height="5" fill="#05e009"/>
<rect x="711" y="162" width="5" height="5" fill="#06e109"/>
<rect x="716" y="162" width="5" height="5" fill="#06e109"/>
<rect x="721" y="162" width="5" height="5" fill="#05e20a"/>
<rect x="726" y="162" width="5" height="5" fill="#04e30b"/>
<rect x="731" y="162" width="5" height="5" fill="#03e30c"/>
<rect x="736" y="162" width="5" height="5" fill="#03e40d"/>
<rect x="741" y="162" width="5" height="5" fill="#05e60d"/>
<rect x="746" y="162" width="5" height="5" fill="#0ae70c"/>
<rect x="751" y="162" width="5" height="5" fill="#10e80c"/>
<rect x="756" y="162" width="5" height="5" fill="#1aea0b"/>
<rect x="761" y="162" width="5" height="5" fill="#29ec09"/>
<rect x="766" y="162" width="5" height="5" fill="#3cef07"/>
<rect x="771" y="162" width="5" height="5" fill="#52f106"/>
<rect x="776" y="162" width="5" height="5" fill="#67f304"/>
<rect x="781" y="162" width="5" height="5" fill="#7cf603"/>
<rect x="786" y="162" width="5" height="5" fill="#90f701"/>
<rect x="791" y="162" width="5" height="5" fill="#a1f900"/>
<rect x="796" y="162" width="5" height="5" fill="#b1fb00"/>
<rect x="801" y="162" width="5" height="5" fill="#befc00"/>
<rect x="806" y="162" width="5" height="5" fill="#cafc00"/>
<rect x="811" y="162" width="5" height="5" fill="#d3fd00"/>
<rect x="816" y="162" width="5" height="5" fill="#dbfd00"/>
<rect x="821" y="162" width="5" height="5" fill="#dbfd00"/>
<rect x="826" y="162" width="5" height="5" fill="#e4fd00"/>
<rect x="831" y="162" width="5" height="5" fill="#e4fd00"/>
<rect x="836" y="162" width="5" height="5" fill="#eafd00"/>
<rect x="646" y="167" width="5" height="5" fill="#02dc15"/>
<rect x="651" y="167" width="5" height="5" fill="#02dc15"/>
<rect x="656" y="167" width="5" height="5" fill="#02dc15"/>
<rect x="661" y="167" width="5" height="5" fill="#02dc15"/>
<rect x="666" y="167" width="5" height="5" fill="#02dc13"/>
<rect x="671" y="167" width="5" height="5" fill="#02dc11"/>
<rect x="676" y="167" width="5" height="5" fill="#02dd10"/>
<rect x="681" y="167" width="5" height="5" fill="#03dd0e"/>
<rect x="686" y="167" width="5" height="5" fill="#03de0d"/>
<rect x="691" y="167" width="5" height="5" fill="#03de0c"/>
<rect x="696" y="167" width="5" height="5" fill="#03de0b"/>
<rect x="701" y="167" width="5" height="5" fill="#04df0b"/>
<rect x="706" y="167" width="5" height="5" fill="#04df0a"/>
<rect x="711" y="167" width="5" height="5" fill="#04e00a"/>
<rect x="716" y="167" width="5" height="5" fill="#04e00b"/>
<rect x="721" y="167" width="5" height="5" fill="#03e10b"/>
<rect x="726" y="167" width="5" height="5" fill="#02e20d"/>
<rect x="731" y="167" width="5" height="5" fill="#01e20e"/>
<rect x="736" y="167" width="5" height="5" fill="#02e30e"/>
<rect x="741" y="167" width="5" height="5" fill="#05e50f"/>
<rect x="746" y="167" width="5" height="5" fill="#09e60e"/>
<rect x="751" y="167" width="5" height="5" fill="#11e80d"/>
<rect x="756" y="167" width="5" height="5" fill="#1be90b"/>
<rect x="761" y="167" width="5" height="5" fill="#2bec0a"/>
<rect x="766" y="167" width="5" height="5" fill="#3fee08"/>
<rect x="771" y="167" width="5" height="5" fill="#56f106"/>
<rect x="776" y="167" width="5" height="5" fill="#6cf304"/>
<rect x="781" y="167" width="5" height="5" fill="#82f502"/>
<rect x="786" y="167" width="5" height="5" fill="#95f701"/>
<rect x="791" y="167" width="5" height="5" fill="#a6f900"/>
<rect x="796" y="167" width="5" height="5" fill="#b5fa00"/>
<rect x="801" y="167" width="5" height="5" fill="#c2fc00"/>
<rect x="806" y="167" width="5" height="5" fill="#cdfc00"/>
<rect x="811" y="167" width="5" height="5" fill="#d6fd00"/>
<rect x="816" y="167" width="5" height="5" fill="#defd00"/>
<rect x="821" y="167" width="5" height="5" fill="#e4fd00"/>
<rect x="826" y="167" width="5" height="5" fill="#e4fd00"/>
<rect x="831" y="167" width="5" height="5" fill="#eafd00"/>
<rect x="836" y="167" width="5" height="5" fill="#eafd00"/>
<rect x="841" y="167" width="5" height="5" fill="#effc00"/>
<rect x="646" y="172" width="5" height="5" fill="#01db16"/>
<rect x="651" y="172" width="5" height="5" fill="#01db16"/>
<rect x="656" y="172" width="5" height="5" fill="#01db16"/>
<rect x="661" y="172" width="5" height="5" fill="#01db16"/>
<rect x="666" y="172" width="5" height="5" fill="#01dc14"/>
<rect x="671" y="172" width="5" height="5" fill="#02dc12"/>
<rect x="676" y="172" width="5" height="5" fill="#02dc11"/>
<rect x="681" y="172" width="5" height="5" fill="#02dd0f"/>
<rect x="686" y="172" width="5" height="5" fill="#02dd0e"/>
<rect x="691" y="172" width="5" height="5" fill="#02dd0d"/>
<rect x="696" y="172" width="5" height="5" fill="#02de0c"/>
<rect x="701" y="172" width="5" height="5" fill="#02de0c"/>
<rect x="706" y="172" width="5" height="5" fill="#02de0c"/>
<rect x="711" y="172" width="5" height="5" fill="#02df0c"/>
<rect x="716" y="172" width="5" height="5" fill="#02df0c"/>
<rect x="721" y="172" width="5" height="5" fill="#01e00d"/>
<rect x="726" y="172" width="5" height="5" fill="#00e10f"/>
<rect x="731" y="172" width="5" height="5" fill="#00e110"/>
<rect x="736" y="172" width="5" height="5" fill="#01e210"/>
<rect x="741" y="172" width="5" height="5" fill="#05e410"/>
<rect x="746" y="172" width="5" height="5" fill="#0ae50f"/>
<rect x="751" y="172" width="5" height="5" fill="#13e70e"/>
<rect x="756" y="172" width="5" height="5" fill="#20e90c"/>
<rect x="761" y="172" width="5" height="5" fill="#30eb0a"/>
<rect x="766" y="172" width="5" height="5" fill="#45ee08"/>
<rect x="771" y="172" width="5" height="5" fill="#5cf005"/>
<rect x="776" y="172" width="5" height="5" fill="#73f303"/>
<rect x="781" y="172" width="5" height="5" fill="#88f502"/>
<rect x="786" y="172" width="5" height="5" fill="#9bf700"/>
<rect x="791" y="172" width="5" height="5" fill="#acf900"/>
<rect x="796" y="172" width="5" height="5" fill="#bafa00"/>
<rect x="801" y="172" width="5" height="5" fill="#c7fc00"/>
<rect x="806" y="172" width="5" height="5" fill="#d1fc00"/>
<rect x="811" y="172" width="5" height="5" fill="#dafd00"/>
<rect x="816" y="172" width="5" height="5" fill="#e0fd00"/>
<rect x="821" y="172" width="5" height="5" fill="#e6fd00"/>
<rect x="826" y="172" width="5" height="5" fill="#eafd00"/>
<rect x="831" y="172" width="5" height="5" fill="#eafd00"/>
<rect x="836" y="172" width="5" height="5" fill="#effc00"/>
<rect x="841" y="172" width="5" height="5" fill="#effc00"/>
<rect x="846" y="172" width="5" height="5" fill="#f3fb00"/>
<rect x="646" y="177" width="5" height="5" fill="#01db18"/>
<rect x="651" y="177" width="5" height="5" fill="#01db18"/>
<rect x="656" y="177" width="5" height="5" fill="#01db18"/>
<rect x="661" y="177" width="5" height="5" fill="#01db18"/>
<rect x="666" y="177" width="5" height="5" fill="#01db15"/>
<rect x="671" y="177" width="5" height="5" fill="#01db13"/>
<rect x="676" y="177" width="5" height="5" fill="#01dc12"/>
<rect x="681" y="177" width="5" height="5" fill="#01dc10"/>
<rect x="686" y="177" width="5" height="5" fill="#01dc0f"/>
<rect x="691" y="177" width="5" height="5" fill="#01dd0e"/>
<rect x="696" y="177" width="5" height="5" fill="#01dd0d"/>
<rect x="701" y="177" width="5" height="5" fill="#01dd0d"/>
<rect x="706" y="177" width="5" height="5" fill="#01de0d"/>
<rect x="711" y="177" width="5" height="5" fill="#00de0d"/>
<rect x="716" y="177" width="5" height="5" fill="#00de0e"/>
<rect x="721" y="177" width="5" height="5" fill="#00df0f"/>
<rect x="726" y="177" width="5" height="5" fill="#00e010"/>
<rect x="731" y="177" width="5" height="5" fill="#00e112"/>
<rect x="736" y="177" width="5" height="5" fill="#01e212"/>
<rect x="741" y="177" width="5" height="5" fill="#06e312"/>
<rect x="746" y="177" width="5" height="5" fill="#0de511"/>
<rect x="751" y="177" width="5" height="5" fill="#17e60f"/>
<rect x="756" y="177" width="5" height="5" fill="#25e90c"/>
<rect x="761" y="177" width="5" height="5" fill="#37eb0a"/>
<rect x="766" y="177" width="5" height="5" fill="#4cee07"/>
<rect x="771" y="177" width="5" height="5" fill="#63f005"/>
<rect x="776" y="177" width="5" height="5" fill="#7af303"/>
<rect x="781" y="177" width="5" height="5" fill="#8ff501"/>
<rect x="786" y="177" width="5" height="5" fill="#a2f700"/>
<rect x="791" y="177" width="5" height="5" fill="#b2f900"/>
<rect x="796" y="177" width="5" height="5" fill="#bffa00"/>
<rect x="801" y="177" width="5" height="5" fill="#cbfb00"/>
<rect x="806" y="177" width="5" height="5" fill="#d4fc00"/>
<rect x="811" y="177" width="5" height="5" fill="#ddfd00"/>
<rect x="816" y="177" width="5" height="5" fill="#e3fd00"/>
<rect x="821" y="177" width="5" height="5" fill="#e8fd00"/>
<rect x="826" y="177" width="5" height="5" fill="#ecfd00"/>
<rect x="831" y="177" width="5" height="5" fill="#effc00"/>
<rect x="836" y="177" width="5" height="5" fill="#effc00"/>
<rect x="841" y="177" width="5" height="5" fill="#f3fb00"/>
<rect x="846" y="177" width="5" height="5" fill="#f3fb00"/>
<rect x="851" y="177" width="5" height="5" fill="#f6fa00"/>
<rect x="646" y="182" width="5" height="5" fill="#01db19"/>
<rect x="651" y="182" width="5" height="5" fill="#01db19"/>
<rect x="656" y="182" width="5" height="5" fill="#01db19"/>
<rect x="661" y="182" width="5" height="5" fill="#01db19"/>
<rect x="666" y="182" width="5" height="5" fill="#00db17"/>
<rect x="671" y="182" width="5" height="5" fill="#00db15"/>
<rect x="676" y="182" width="5" height="5" fill="#00db13"/>
<rect x="681" y="182" width="5" height="5" fill="#00dc12"/>
<rect x="686" y="182" width="5" height="5" fill="#00dc10"/>
<rect x="691" y="182" width="5" height="5" fill="#00dc0f"/>
<rect x="696" y="182" width="5" height="5" fill="#00dc0f"/>
<rect x="701" y="182" width="5" height="5" fill="#00dd0e"/>
<rect x="706" y="182" width="5" height="5" fill="#00dd0e"/>
<rect x="711" y="182" width="5" height="5" fill="#00dd0f"/>
<rect x="716" y="182" width="5" height="5" fill="#00de10"/>
<rect x="721" y="182" width="5" height="5" fill="#00de11"/>
<rect x="726" y="182" width="5" height="5" fill="#00df12"/>
<rect x="731" y="182" width="5" height="5" fill="#00e013"/>
<rect x="736" y="182" width="5" height="5" fill="#02e114"/>
<rect x="741" y="182" width="5" height="5" fill="#07e213"/>
<rect x="746" y="182" width="5" height="5" fill="#10e411"/>
<rect x="751" y="182" width="5" height="5" fill="#1ce60f"/>
<rect x="756" y="182" width="5" height="5" fill="#2be80c"/>
<rect x="761" y="182" width="5" height="5" fill="#3deb09"/>
<rect x="766" y="182" width="5" height="5" fill="#53ed07"/>
<rect x="771" y="182" width="5" height="5" fill="#6af004"/>
<rect x="776" y="182" width="5" height="5" fill="#81f302"/>
<rect x="781" y="182" width="5" height="5" fill="#96f500"/>
<rect x="786" y="182" width="5" height="5" fill="#a8f700"/>
<rect x="791" y="182" width="5" height="5" fill="#b6f900"/>
<rect x="796" y="182" width="5" height="5" fill="#c3fa00"/>
<rect x="801" y="182" width="5" height="5" fill="#cefb00"/>
<rect x="806" y="182" width="5" height="5" fill="#d8fc00"/>
<rect x="811" y="182" width="5" height="5" fill="#dffd00"/>
<rect x="816" y="182" width="5" height="5" fill="#e6fd00"/>
<rect x="821" y="182" width="5" height="5" fill="#eafd00"/>
<rect x="826" y="182" width="5" height="5" fill="#eefd00"/>
<rect x="831" y="182" width="5" height="5" fill="#f1fc00"/>
<rect x="836" y="182" width="5" height="5" fill="#f3fb00"/>
<rect x="841" y="182" width="5" height="5" fill="#f3fb00"/>
<rect x="846" y="182" width="5" height="5" fill="#f6fa00"/>
<rect x="851" y="182" width="5" height="5" fill="#f6fa00"/>
<rect x="856" y="182" width="5" height="5" fill="#f9f800"/>
<rect x="646" y="187" width="5" height="5" fill="#00da1b"/>
<rect x="651" y="187" width="5" height="5" fill="#00da1b"/>
<rect x="656" y="187" width="5" height="5" fill="#00da1b"/>
<rect x="661" y="187" width="5" height="5" fill="#00da1b"/>
<rect x="666" y="187" width="5" height="5" fill="#00db19"/>
<rect x="671" y="187" width="5" height="5" fill="#00db17"/>
<rect x="676" y="187" width="5" height="5" fill="#00db15"/>
<rect x="681" y="187" width="5" height="5" fill="#00db13"/>
<rect x="686" y="187" width="5" height="5" fill="#00dc12"/>
<rect x="691" y="187" width="5" height="5" fill="#00dc11"/>
<rect x="696" y="187" width="5" height="5" fill="#00dc10"/>
<rect x="701" y="187" width="5" height="5" fill="#00dc10"/>
<rect x="706" y="187" width="5" height="5" fill="#00dc10"/>
<rect x="711" y="187" width="5" height="5" fill="#00dd10"/>
<rect x="716" y="187" width="5" height="5" fill="#00dd11"/>
<rect x="721" y="187" width="5" height="5" fill="#00de12"/>
<rect x="726" y="187" width="5" height="5" fill="#00de13"/>
<rect x="731" y="187" width="5" height="5" fill="#00df14"/>
<rect x="736" y="187" width="5" height="5" fill="#03e014"/>
<rect x="741" y="187" width="5" height="5" fill="#09e213"/>
<rect x="746" y="187" width="5" height="5" fill="#13e311"/>
<rect x="751" y="187" width="5" height="5" fill="#20e50e"/>
<rect x="756" y="187" width="5" height="5" fill="#30e80b"/>
<rect x="761" y="187" width="5" height="5" fill="#42ea08"/>
<rect x="766" y="187" width="5" height="5" fill="#58ed06"/>
<rect x="771" y="187" width="5" height="5" fill="#6ef003"/>
<rect x="776" y="187" width="5" height="5" fill="#85f301"/>
<rect x="781" y="187" width="5" height="5" fill="#9af500"/>
<rect x="786" y="187" width="5" height="5" fill="#abf700"/>
<rect x="791" y="187" width="5" height="5" fill="#baf900"/>
<rect x="796" y="187" width="5" height="5" fill="#c6fa00"/>
<rect x="801" y="187" width="5" height="5" fill="#d1fb00"/>
<rect x="806" y="187" width="5" height="5" fill="#dafc00"/>
<rect x="811" y="187" width="5" height="5" fill="#e2fd00"/>
<rect x="816" y="187" width="5" height="5" fill="#e8fd00"/>
<rect x="821" y="187" width="5" height="5" fill="#ecfd00"/>
<rect x="826" y="187" width="5" height="5" fill="#f0fc00"/>
<rect x="831" y="187" width="5" height="5" fill="#f3fc00"/>
<rect x="836" y="187" width="5" height="5" fill="#f5fb00"/>
<rect x="841" y="187" width="5" height="5" fill="#f6fa00"/>
<rect x="846" y="187" width="5" height="5" fill="#f6fa00"/>
<rect x="851" y="187" width="5" height="5" fill="#f9f800"/>
<rect x="856" y="187" width="5" height="5" fill="#f9f800"/>
<rect x="861" y="187" width="5" height="5" fill="#fcf500"/>
<rect x="646" y="192" width="5" height="5" fill="#00da1e"/>
<rect x="651" y="192" width="5" height="5" fill="#00da1e"/>
<rect x="656" y="192" width="5" height="5" fill="#00da1e"/>
<rect x="661" y="192" width="5" height="5" fill="#00da1e"/>
<rect x="666" y="192" width="5" height="5" fill="#00da1b"/>
<rect x="671" y="192" width="5" height="5" fill="#00db19"/>
<rect x="676" y="192" width="5" height="5" fill="#00db17"/>
<rect x="681" y="192" width="5" height="5" fill="#00db15"/>
<rect x="686" y="192" width="5" height="5" fill="#00db14"/>
<rect x="691" y="192" width="5" height="5" fill="#00db13"/>
<rect x="696" y="192" width="5" height="5" fill="#00dc12"/>
<rect x="701" y="192" width="5" height="5" fill="#00dc11"/>
<rect x="706" y="192" width="5" height="5" fill="#00dc11"/>
<rect x="711" y="192" width="5" height="5" fill="#00dc11"/>
<rect x="716" y="192" width="5" height="5" fill="#00dc12"/>
<rect x="721" y="192" width="5" height="5" fill="#00dd12"/>
<rect x="726" y="192" width="5" height="5" fill="#00de13"/>
<rect x="731" y="192" width="5" height="5" fill="#01de13"/>
<rect x="736" y="192" width="5" height="5" fill="#05e013"/>
<rect x="741" y="192" width="5" height="5" fill="#0ce112"/>
<rect x="746" y="192" width="5" height="5" fill="#17e310"/>
<rect x="751" y="192" width="5" height="5" fill="#24e50d"/>
<rect x="756" y="192" width="5" height="5" fill="#33e70a"/>
<rect x="761" y="192" width="5" height="5" fill="#46ea07"/>
<rect x="766" y="192" width="5" height="5" fill="#5bed04"/>
<rect x="771" y="192" width="5" height="5" fill="#70f002"/>
<rect x="776" y="192" width="5" height="5" fill="#86f200"/>
<rect x="781" y="192" width="5" height="5" fill="#9bf500"/>
<rect x="786" y="192" width="5" height="5" fill="#acf700"/>
<rect x="791" y="192" width="5" height="5" fill="#bbf900"/>
<rect x="796" y="192" width="5" height="5" fill="#c8fa00"/>
<rect x="801" y="192" width="5" height="5" fill="#d3fb00"/>
<rect x="806" y="192" width="5" height="5" fill="#dcfc00"/>
<rect x="811" y="192" width="5" height="5" fill="#e3fc00"/>
<rect x="816" y="192" width="5" height="5" fill="#e9fd00"/>
<rect x="821" y="192" width="5" height="5" fill="#eefd00"/>
<rect x="826" y="192" width="5" height="5" fill="#f2fc00"/>
<rect x="831" y="192" width="5" height="5" fill="#f4fc00"/>
<rect x="836" y="192" width="5" height="5" fill="#f6fb00"/>
<rect x="841" y="192" width="5" height="5" fill="#f8fa00"/>
<rect x="846" y="192" width="5" height="5" fill="#f9f800"/>
<rect x="851" y="192" width="5" height="5" fill="#f9f800"/>
<rect x="856" y="192" width="5" height="5" fill="#fcf500"/>
<rect x="861" y="192" width="5" height="5" fill="#fcf500"/>
<rect x="866" y="192" width="5" height="5" fill="#fdf200"/>
<rect x="646" y="197" width="5" height="5" fill="#00da21"/>
<rect x="651" y="197" width="5" height="5" fill="#00da21"/>
<rect x="656" y="197" width="5" height="5" fill="#00da21"/>
<rect x="661" y="197" width="5" height="5" fill="#00da21"/>
<rect x="666" y="197" width="5" height="5" fill="#00da1e"/>
<rect x="671" y="197" width="5" height="5" fill="#00da1b"/>
<rect x="676" y="197" width="5" height="5" fill="#00db19"/>
<rect x="681" y="197" width="5" height="5" fill="#00db17"/>
<rect x="686" y="197" width="5" height="5" fill="#00db16"/>
<rect x="691" y="197" width="5" height="5" fill="#00db14"/>
<rect x="696" y="197" width="5" height="5" fill="#00db14"/>
<rect x="701" y="197" width="5" height="5" fill="#00db13"/>
<rect x="706" y="197" width="5" height="5" fill="#00dc13"/>
<rect x="711" y="197" width="5" height="5" fill="#00dc12"/>
<rect x="716" y="197" width="5" height="5" fill="#00dc12"/>
<rect x="721" y="197" width="5" height="5" fill="#00dc13"/>
<rect x="726" y="197" width="5" height="5" fill="#00dd13"/>
<rect x="731" y="197" width="5" height="5" fill="#03de13"/>
<rect x="736" y="197" width="5" height="5" fill="#08df12"/>
<rect x="741" y="197" width="5" height="5" fill="#0fe010"/>
<rect x="746" y="197" width="5" height="5" fill="#1ae20e"/>
<rect x="751" y="197" width="5" height="5" fill="#27e40b"/>
<rect x="756" y="197" width="5" height="5" fill="#36e708"/>
<rect x="761" y="197" width="5" height="5" fill="#48ea06"/>
<rect x="766" y="197" width="5" height="5" fill="#5cec03"/>
<rect x="771" y="197" width="5" height="5" fill="#70ef01"/>
<rect x="776" y="197" width="5" height="5" fill="#85f200"/>
<rect x="781" y="197" width="5" height="5" fill="#99f400"/>
<rect x="786" y="197" width="5" height="5" fill="#abf600"/>
<rect x="791" y="197" width="5" height="5" fill="#baf800"/>
<rect x="796" y="197" width="5" height="5" fill="#c8fa00"/>
<rect x="801" y="197" width="5" height="5" fill="#d3fb00"/>
<rect x="806" y="197" width="5" height="5" fill="#ddfc00"/>
<rect x="811" y="197" width="5" height="5" fill="#e5fc00"/>
<rect x="816" y="197" width="5" height="5" fill="#ebfc00"/>
<rect x="821" y="197" width="5" height="5" fill="#f0fc00"/>
<rect x="826" y="197" width="5" height="5" fill="#f3fc00"/>
<rect x="831" y="197" width="5" height="5" fill="#f6fc00"/>
<rect x="836" y="197" width="5" height="5" fill="#f8fb00"/>
<rect x="841" y="197" width="5" height="5" fill="#f9f900"/>
<rect x="846" y="197" width="5" height="5" fill="#faf800"/>
<rect x="851" y="197" width="5" height="5" fill="#fcf500"/>
<rect x="856" y="197" width="5" height="5" fill="#fcf500"/>
<rect x="861" y="197" width="5" height="5" fill="#fdf200"/>
<rect x="866" y="197" width="5" height="5" fill="#fdf200"/>
<rect x="871" y="197" width="5" height="5" fill="#feee00"/>
<rect x="646" y="202" width="5" height="5" fill="#00da24"/>
<rect x="651" y="202" width="5" height="5" fill="#00da24"/>
<rect x="656" y="202" width="5" height="5" fill="#00da24"/>
<rect x="661" y="202" width="5" height="5" fill="#00da24"/>
<rect x="666" y="202" width="5" height="5" fill="#00da21"/>
<rect x="671" y="202" width="5" height="5" fill="#00da1e"/>
<rect x="676" y="202" width="5" height="5" fill="#00da1c"/>
<rect x="681" y="202" width="5" height="5" fill="#00db1a"/>
<rect x="686" y="202" width="5" height="5" fill="#00db18"/>
<rect x="691" y="202" width="5" height="5" fill="#00db17"/>
<rect x="696" y="202" width="5" height="5" fill="#00db15"/>
<rect x="701" y="202" width="5" height="5" fill="#00db15"/>
<rect x="706" y="202" width="5" height="5" fill="#00db14"/>
<rect x="711" y="202" width="5" height="5" fill="#00db14"/>
<rect x="716" y="202" width="5" height="5" fill="#00dc13"/>
<rect x="721" y="202" width="5" height="5" fill="#00dc13"/>
<rect x="726" y="202" width="5" height="5" fill="#01dc13"/>
<rect x="731" y="202" width="5" height="5" fill="#05dd12"/>
<rect x="736" y="202" width="5" height="5" fill="#0ade11"/>
<rect x="741" y="202" width="5" height="5" fill="#12e00f"/>
<rect x="746" y="202" width="5" height="5" fill="#1ce20c"/>
<rect x="751" y="202" width="5" height="5" fill="#29e40a"/>
<rect x="756" y="202" width="5" height="5" fill="#38e607"/>
<rect x="761" y="202" width="5" height="5" fill="#49e904"/>
<rect x="766" y="202" width="5" height="5" fill="#5bec01"/>
<rect x="771" y="202" width="5" height="5" fill="#6fef00"/>
<rect x="776" y="202" width="5" height="5" fill="#83f100"/>
<rect x="781" y="202" width="5" height="5" fill="#96f400"/>
<rect x="786" y="202" width="5" height="5" fill="#a8f600"/>
<rect x="791" y="202" width="5" height="5" fill="#b8f800"/>
<rect x="796" y="202" width="5" height="5" fill="#c7f900"/>
<rect x="801" y="202" width="5" height="5" fill="#d3fa00"/>
<rect x="806" y="202" width="5" height="5" fill="#ddfb00"/>
<rect x="811" y="202" width="5" height="5" fill="#e5fc00"/>
<rect x="816" y="202" width="5" height="5" fill="#ecfc00"/>
<rect x="821" y="202" width="5" height="5" fill="#f1fc00"/>
<rect x="826" y="202" width="5" height="5" fill="#f4fc00"/>
<rect x="831" y="202" width="5" height="5" fill="#f7fb00"/>
<rect x="836" y="202" width="5" height="5" fill="#f9fb00"/>
<rect x="841" y="202" width="5" height="5" fill="#faf900"/>
<rect x="846" y="202" width="5" height="5" fill="#fbf800"/>
<rect x="851" y="202" width="5" height="5" fill="#fcf500"/>
<rect x="856" y="202" width="5" height="5" fill="#fdf200"/>
<rect x="861" y="202" width="5" height="5" fill="#fdf200"/>
<rect x="866" y="202" width="5" height="5" fill="#feee00"/>
<rect x="871" y="202" width="5" height="5" fill="#feee00"/>
<rect x="876" y="202" width="5" height="5" fill="#ffe900"/>
<rect x="646" y="207" width="5" height="5" fill="#00d928"/>
<rect x="651" y="207" width="5" height="5" fill="#00d928"/>
<rect x="656" y="207" width="5" height="5" fill="#00d928"/>
<rect x="661" y="207" width="5" height="5" fill="#00d928"/>
<rect x="666" y="207" width="5" height="5" fill="#00da25"/>
<rect x="671" y="207" width="5" height="5" fill="#00da22"/>
<rect x="676" y="207" width="5" height="5" fill="#00da1f"/>
<rect x="681" y="207" width="5" height="5" fill="#00da1d"/>
<rect x="686" y="207" width="5" height="5" fill="#00db1b"/>
<rect x="691" y="207" width="5" height="5" fill="#00db19"/>
<rect x="696" y="207" width="5" height="5" fill="#00db18"/>
<rect x="701" y="207" width="5" height="5" fill="#00db17"/>
<rect x="706" y="207" width="5" height="5" fill="#00db16"/>
<rect x="711" y="207" width="5" height="5" fill="#00db15"/>
<rect x="716" y="207" width="5" height="5" fill="#00db14"/>
<rect x="721" y="207" width="5" height="5" fill="#00db14"/>
<rect x="726" y="207" width="5" height="5" fill="#03dc13"/>
<rect x="731" y="207" width="5" height="5" fill="#07dd11"/>
<rect x="736" y="207" width="5" height="5" fill="#0dde10"/>
<rect x="741" y="207" width="5" height="5" fill="#14df0e"/>
<rect x="746" y="207" width="5" height="5" fill="#1ee10b"/>
<rect x="751" y="207" width="5" height="5" fill="#2ae308"/>
<rect x="756" y="207" width="5" height="5" fill="#38e605"/>
<rect x="761" y="207" width="5" height="5" fill="#48e903"/>
<rect x="766" y="207" width="5" height="5" fill="#5aeb00"/>
<rect x="771" y="207" width="5" height="5" fill="#6cee00"/>
<rect x="776" y="207" width="5" height="5" fill="#80f100"/>
<rect x="781" y="207" width="5" height="5" fill="#93f300"/>
<rect x="786" y="207" width="5" height="5" fill="#a5f500"/>
<rect x="791" y="207" width="5" height="5" fill="#b6f700"/>
<rect x="796" y="207" width="5" height="5" fill="#c5f900"/>
<rect x="801" y="207" width="5" height="5" fill="#d2fa00"/>
<rect x="806" y="207" width="5" height="5" fill="#ddfb01"/>
<rect x="811" y="207" width="5" height="5" fill="#e6fb00"/>
<rect x="816" y="207" width="5" height="5" fill="#ecfc00"/>
<rect x="821" y="207" width="5" height="5" fill="#f2fc00"/>
<rect x="826" y="207" width="5" height="5" fill="#f5fc00"/>
<rect x="831" y="207" width="5" height="5" fill="#f8fb00"/>
<rect x="836" y="207" width="5" height="5" fill="#fafa00"/>
<rect x="841" y="207" width="5" height="5" fill="#fbf900"/>
<rect x="846" y="207" width="5" height="5" fill="#fcf700"/>
<rect x="851" y="207" width="5" height="5" fill="#fdf500"/>
<rect x="856" y="207" width="5" height="5" fill="#fef200"/>
<rect x="861" y="207" width="5" height="5" fill="#feee00"/>
<rect x="866" y="207" width="5" height="5" fill="#feee00"/>
<rect x="871" y="207" width="5" height="5" fill="#ffe900"/>
<rect x="876" y="207" width="5" height="5" fill="#ffe900"/>
<rect x="881" y="207" width="5" height="5" fill="#ffe100"/>
<rect x="646" y="212" width="5" height="5" fill="#00d92c"/>
<rect x="651" y="212" width="5" height="5" fill="#00d92c"/>
<rect x="656" y="212" width="5" height="5" fill="#00d92c"/>
<rect x="661" y="212" width="5" height="5" fill="#00d92c"/>
<rect x="666" y="212" width="5" height="5" fill="#00d929"/>
<rect x="671" y="212" width="5" height="5" fill="#00da25"/>
<rect x="676" y="212" width="5" height="5" fill="#00da23"/>
<rect x="681" y="212" width="5" height="5" fill="#00da20"/>
<rect x="686" y="212" width="5" height="5" fill="#00da1e"/>
<rect x="691" y="212" width="5" height="5" fill="#00da1c"/>
<rect x="696" y="212" width="5" height="5" fill="#00db1a"/>
<rect x="701" y="212" width="5" height="5" fill="#00db19"/>
<rect x="706" y="212" width="5" height="5" fill="#00db18"/>
<rect x="711" y="212" width="5" height="5" fill="#00db17"/>
<rect x="716" y="212" width="5" height="5" fill="#00db16"/>
<rect x="721" y="212" width="5" height="5" fill="#01db15"/>
<rect x="726" y="212" width="5" height="5" fill="#04db13"/>
<rect x="731" y="212" width="5" height="5" fill="#08dc11"/>
<rect x="736" y="212" width="5" height="5" fill="#0edd0f"/>
<rect x="741" y="212" width="5" height="5" fill="#16df0d"/>
<rect x="746" y="212" width="5" height="5" fill="#1fe10a"/>
<rect x="751" y="212" width="5" height="5" fill="#2ae307"/>
<rect x="756" y="212" width="5" height="5" fill="#38e504"/>
<rect x="761" y="212" width="5" height="5" fill="#47e802"/>
<rect x="766" y="212" width="5" height="5" fill="#57eb00"/>
<rect x="771" y="212" width="5" height="5" fill="#69ee00"/>
<rect x="776" y="212" width="5" height="5" fill="#7cf000"/>
<rect x="781" y="212" width="5" height="5" fill="#8ff300"/>
<rect x="786" y="212" width="5" height="5" fill="#a1f500"/>
<rect x="791" y="212" width="5" height="5" fill="#b3f700"/>
<rect x="796" y="212" width="5" height="5" fill="#c3f801"/>
<rect x="801" y="212" width="5" height="5" fill="#d1fa03"/>
<rect x="806" y="212" width="5" height="5" fill="#dcfa04"/>
<rect x="811" y="212" width="5" height="5" fill="#e6fb03"/>
<rect x="816" y="212" width="5" height="5" fill="#edfb02"/>
<rect x="821" y="212" width="5" height="5" fill="#f2fb00"/>
<rect x="826" y="212" width="5" height="5" fill="#f6fb00"/>
<rect x="831" y="212" width="5" height="5" fill="#f9fb00"/>
<rect x="836" y="212" width="5" height="5" fill="#fafa00"/>
<rect x="841" y="212" width="5" height="5" fill="#fcf900"/>
<rect x="846" y="212" width="5" height="5" fill="#fcf700"/>
<rect x="851" y="212" width="5" height="5" fill="#fdf400"/>
<rect x="856" y="212" width="5" height="5" fill="#fef100"/>
<rect x="861" y="212" width="5" height="5" fill="#feed00"/>
<rect x="866" y="212" width="5" height="5" fill="#ffe900"/>
<rect x="871" y="212" width="5" height="5" fill="#ffe900"/>
<rect x="876" y="212" width="5" height="5" fill="#ffe100"/>
<rect x="881" y="212" width="5" height="5" fill="#ffe100"/>
<rect x="886" y="212" width="5" height="5" fill="#ffd800"/>
<rect x="651" y="217" width="5" height="5" fill="#00d92c"/>
<rect x="656" y="217" width="5" height="5" fill="#00d92c"/>
<rect x="661" y="217" width="5" height="5" fill="#00d92c"/>
<rect x="666" y="217" width="5" height="5" fill="#00d92d"/>
<rect x="671" y="217" width="5" height="5" fill="#00da2a"/>
<rect x="676" y="217" width="5" height="5" fill="#00da27"/>
<rect x="681" y="217" width="5" height="5" fill="#00da24"/>
<rect x="686" y="217" width="5" height="5" fill="#00da21"/>
<rect x="691" y="217" width="5" height="5" fill="#00da1f"/>
<rect x="696" y="217" width="5" height="5" fill="#00da1e"/>
<rect x="701" y="217" width="5" height="5" fill="#00da1c"/>
<rect x="706" y="217" width="5" height="5" fill="#00da1b"/>
<rect x="711" y="217" width="5" height="5" fill="#00da19"/>
<rect x="716" y="217" width="5" height="5" fill="#01da18"/>
<rect x="721" y="217" width="5" height="5" fill="#03db16"/>
<rect x="726" y="217" width="5" height="5" fill="#06db15"/>
<rect x="731" y="217" width="5" height="5" fill="#0adb12"/>
<rect x="736" y="217" width="5" height="5" fill="#0fdc10"/>
<rect x="741" y="217" width="5" height="5" fill="#17de0d"/>
<rect x="746" y="217" width="5" height="5" fill="#20e00b"/>
<rect x="751" y="217" width="5" height="5" fill="#2ae207"/>
<rect x="756" y="217" width="5" height="5" fill="#37e504"/>
<rect x="761" y="217" width="5" height="5" fill="#45e801"/>
<rect x="766" y="217" width="5" height="5" fill="#54ea00"/>
<rect x="771" y="217" width="5" height="5" fill="#65ed00"/>
<rect x="776" y="217" width="5" height="5" fill="#78f000"/>
<rect x="781" y="217" width="5" height="5" fill="#8bf200"/>
<rect x="786" y="217" width="5" height="5" fill="#9ef500"/>
<rect x="791" y="217" width="5" height="5" fill="#b0f601"/>
<rect x="796" y="217" width="5" height="5" fill="#c1f804"/>
<rect x="801" y="217" width="5" height="5" fill="#cff906"/>
<rect x="806" y="217" width="5" height="5" fill="#dcfa08"/>
<rect x="811" y="217" width="5" height="5" fill="#e6fb08"/>
<rect x="816" y="217" width="5" height="5" fill="#edfb07"/>
<rect x="821" y="217" width="5" height="5" fill="#f3fb04"/>
<rect x="826" y="217" width="5" height="5" fill="#f7fb00"/>
<rect x="831" y="217" width="5" height="5" fill="#f9fb00"/>
<rect x="836" y="217" width="5" height="5" fill="#fbfa00"/>
<rect x="841" y="217" width="5" height="5" fill="#fcf900"/>
<rect x="846" y="217" width="5" height="5" fill="#fcf700"/>
<rect x="851" y="217" width="5" height="5" fill="#fdf400"/>
<rect x="856" y="217" width="5" height="5" fill="#fef100"/>
<rect x="861" y="217" width="5" height="5" fill="#feec00"/>
<rect x="866" y="217" width="5" height="5" fill="#ffe700"/>
<rect x="871" y="217" width="5" height="5" fill="#ffe100"/>
<rect x="876" y="217" width="5" height="5" fill="#ffe100"/>
<rect x="881" y="217" width="5" height="5" fill="#ffd800"/>
<rect x="886" y="217" width="5" height="5" fill="#ffd800"/>
<rect x="891" y="217" width="5" height="5" fill="#ffcd00"/>
<rect x="651" y="222" width="5" height="5" fill="#00d92c"/>
<rect x="656" y="222" width="5" height="5" fill="#00d932"/>
<rect x="661" y="222" width="5" height="5" fill="#00d932"/>
<rect x="666" y="222" width="5" height="5" fill="#00d932"/>
<rect x="671" y="222" width="5" height="5" fill="#00d92f"/>
<rect x="676" y="222" width="5" height="5" fill="#00d92b"/>
<rect x="681" y="222" width="5" height="5" fill="#00da28"/>
<rect x="686" y="222" width="5" height="5" fill="#00da26"/>
<rect x="691" y="222" width="5" height="5" fill="#00da23"/>
<rect x="696" y="222" width="5" height="5" fill="#00da21"/>
<rect x="701" y="222" width="5" height="5" fill="#00da20"/>
<rect x="706" y="222" width="5" height="5" fill="#00da1e"/>
<rect x="711" y="222" width="5" height="5" fill="#00da1d"/>
<rect x="716" y="222" width="5" height="5" fill="#01da1b"/>
<rect x="721" y="222" width="5" height="5" fill="#04da19"/>
<rect x="726" y="222" width="5" height="5" fill="#07da17"/>
<rect x="731" y="222" width="5" height="5" fill="#0bdb15"/>
<rect x="736" y="222" width="5" height="5" fill="#10dc12"/>
<rect x="741" y="222" width="5" height="5" fill="#17dd0f"/>
<rect x="746" y="222" width="5" height="5" fill="#20df0c"/>
<rect x="751" y="222" width="5" height="5" fill="#2ae209"/>
<rect x="756" y="222" width="5" height="5" fill="#36e505"/>
<rect x="761" y="222" width="5" height="5" fill="#43e702"/>
<rect x="766" y="222" width="5" height="5" fill="#51ea00"/>
<rect x="771" y="222" width="5" height="5" fill="#62ed00"/>
<rect x="776" y="222" width="5" height="5" fill="#74f000"/>
<rect x="781" y="222" width="5" height="5" fill="#87f200"/>
<rect x="786" y="222" width="5" height="5" fill="#9bf401"/>
<rect x="791" y="222" width="5" height="5" fill="#aef604"/>
<rect x="796" y="222" width="5" height="5" fill="#bff808"/>
<rect x="801" y="222" width="5" height="5" fill="#cff90c"/>
<rect x="806" y="222" width="5" height="5" fill="#dbfa0e"/>
<rect x="811" y="222" width="5" height="5" fill="#e6fa0f"/>
<rect x="816" y="222" width="5" height="5" fill="#eefa0e"/>
<rect x="821" y="222" width="5" height="5" fill="#f4fa0a"/>
<rect x="826" y="222" width="5" height="5" fill="#f7fa04"/>
<rect x="831" y="222" width="5" height="5" fill="#fafa00"/>
<rect x="836" y="222" width="5" height="5" fill="#fbfa00"/>
<rect x="841" y="222" width="5" height="5" fill="#fcf800"/>
<rect x="846" y="222" width="5" height="5" fill="#fcf600"/>
<rect x="851" y="222" width="5" height="5" fill="#fdf300"/>
<rect x="856" y="222" width="5" height="5" fill="#fdf000"/>
<rect x="861" y="222" width="5" height="5" fill="#feeb00"/>
<rect x="866" y="222" width="5" height="5" fill="#fee500"/>
<rect x="871" y="222" width="5" height="5" fill="#ffdf00"/>
<rect x="876" y="222" width="5" height="5" fill="#ffd800"/>
<rect x="881" y="222" width="5" height="5" fill="#ffd800"/>
<rect x="886" y="222" width="5" height="5" fill="#ffcd00"/>
<rect x="891" y="222" width="5" height="5" fill="#ffcd00"/>
<rect x="896" y="222" width="5" height="5" fill="#ffc000"/>
<rect x="651" y="227" width="5" height="5" fill="#00d938"/>
<rect x="656" y="227" width="5" height="5" fill="#00d938"/>
<rect x="661" y="227" width="5" height="5" fill="#00d938"/>
<rect x="666" y="227" width="5" height="5" fill="#00d938"/>
<rect x="671" y="227" width="5" height="5" fill="#00d934"/>
<rect x="676" y="227" width="5" height="5" fill="#00d930"/>
<rect x="681" y="227" width="5" height="5" fill="#00d92d"/>
<rect x="686" y="227" width="5" height="5" fill="#00da2a"/>
<rect x="691" y="227" width="5" height="5" fill="#00da28"/>
<rect x="696" y="227" width="5" height="5" fill="#00da26"/>
<rect x="701" y="227" width="5" height="5" fill="#00da24"/>
<rect x="706" y="227" width="5" height="5" fill="#00da22"/>
<rect x="711" y="227" width="5" height="5" fill="#01da21"/>
<rect x="716" y="227" width="5" height="5" fill="#02da1f"/>
<rect x="721" y="227" width="5" height="5" fill="#04da1d"/>
<rect x="726" y="227" width="5" height="5" fill="#07da1b"/>
<rect x="731" y="227" width="5" height="5" fill="#0bda18"/>
<rect x="736" y="227" width="5" height="5" fill="#11db15"/>
<rect x="741" y="227" width="5" height="5" fill="#18dd12"/>
<rect x="746" y="227" width="5" height="5" fill="#20df0f"/>
<rect x="751" y="227" width="5" height="5" fill="#29e20b"/>
<rect x="756" y="227" width="5" height="5" fill="#34e507"/>
<rect x="761" y="227" width="5" height="5" fill="#41e703"/>
<rect x="766" y="227" width="5" height="5" fill="#4fea00"/>
<rect x="771" y="227" width="5" height="5" fill="#5eed00"/>
<rect x="776" y="227" width="5" height="5" fill="#70f000"/>
<rect x="781" y="227" width="5" height="5" fill="#84f200"/>
<rect x="786" y="227" width="5" height="5" fill="#99f504"/>
<rect x="791" y="227" width="5" height="5" fill="#adf609"/>
<rect x="796" y="227" width="5" height="5" fill="#bff80e"/>
<rect x="801" y="227" width="5" height="5" fill="#cff913"/>
<rect x="806" y="227" width="5" height="5" fill="#dcfa17"/>
<rect x="811" y="227" width="5" height="5" fill="#e6fa19"/>
<rect x="816" y="227" width="5" height="5" fill="#effa18"/>
<rect x="821" y="227" width="5" height="5" fill="#f4fa14"/>
<rect x="826" y="227" width="5" height="5" fill="#f8fa0c"/>
<rect x="831" y="227" width="5" height="5" fill="#fafa01"/>
<rect x="836" y="227" width="5" height="5" fill="#fbf900"/>
<rect x="841" y="227" width="5" height="5" fill="#fbf800"/>
<rect x="846" y="227" width="5" height="5" fill="#fcf600"/>
<rect x="851" y="227" width="5" height="5" fill="#fcf300"/>
<rect x="856" y="227" width="5" height="5" fill="#fdef00"/>
<rect x="861" y="227" width="5" height="5" fill="#feea00"/>
<rect x="866" y="227" width="5" height="5" fill="#fee400"/>
<rect x="871" y="227" width="5" height="5" fill="#ffdd00"/>
<rect x="876" y="227" width="5" height="5" fill="#ffd500"/>
<rect x="881" y="227" width="5" height="5" fill="#ffcd00"/>
<rect x="886" y="227" width="5" height="5" fill="#ffcd00"/>
<rect x="891" y="227" width="5" height="5" fill="#ffc000"/>
<rect x="896" y="227" width="5" height="5" fill="#ffc000"/>
<rect x="901" y="227" width="5" height="5" fill="#ffb200"/>
<rect x="651" y="232" width="5" height="5" fill="#00d83e"/>
<rect x="656" y="232" width="5" height="5" fill="#00d83e"/>
<rect x="661" y="232" width="5" height="5" fill="#00d83e"/>
<rect x="666" y="232" width="5" height="5" fill="#00d83e"/>
<rect x="671" y="232" width="5" height="5" fill="#00d93a"/>
<rect x="676" y="232" width="5" height="5" fill="#00d936"/>
<rect x="681" y="232" width="5" height="5" fill="#00d933"/>
<rect x="686" y="232" width="5" height="5" fill="#00d930"/>
<rect x="691" y="232" width="5" height="5" fill="#00d92d"/>
<rect x="696" y="232" width="5" height="5" fill="#00d92b"/>
<rect x="701" y="232" width="5" height="5" fill="#00da29"/>
<rect x="706" y="232" width="5" height="5" fill="#01da27"/>
<rect x="711" y="232" width="5" height="5" fill="#01d926"/>
<rect x="716" y="232" width="5" height="5" fill="#03d924"/>
<rect x="721" y="232" width="5" height="5" fill="#05d923"/>
<rect x="726" y="232" width="5" height="5" fill="#08da20"/>
<rect x="731" y="232" width="5" height="5" fill="#0cda1e"/>
<rect x="736" y="232" width="5" height="5" fill="#11db1a"/>
<rect x="741" y="232" width="5" height="5" fill="#17dd17"/>
<rect x="746" y="232" width="5" height="5" fill="#1fdf14"/>
<rect x="751" y="232" width="5" height="5" fill="#28e20f"/>
<rect x="756" y="232" width="5" height="5" fill="#33e50b"/>
<rect x="761" y="232" width="5" height="5" fill="#3fe806"/>
<rect x="766" y="232" width="5" height="5" fill="#4deb02"/>
<rect x="771" y="232" width="5" height="5" fill="#5ded00"/>
<rect x="776" y="232" width="5" height="5" fill="#6ef000"/>
<rect x="781" y="232" width="5" height="5" fill="#83f303"/>
<rect x="786" y="232" width="5" height="5" fill="#99f509"/>
<rect x="791" y="232" width="5" height="5" fill="#aef70f"/>
<rect x="796" y="232" width="5" height="5" fill="#c0f817"/>
<rect x="801" y="232" width="5" height="5" fill="#d0f91d"/>
<rect x="806" y="232" width="5" height="5" fill="#ddfa23"/>
<rect x="811" y="232" width="5" height="5" fill="#e8fa25"/>
<rect x="816" y="232" width="5" height="5" fill="#f0fa24"/>
<rect x="821" y="232" width="5" height="5" fill="#f5fa1f"/>
<rect x="826" y="232" width="5" height="5" fill="#f8fa16"/>
<rect x="831" y="232" width="5" height="5" fill="#fafa0a"/>
<rect x="836" y="232" width="5" height="5" fill="#faf900"/>
<rect x="841" y="232" width="5" height="5" fill="#fbf700"/>
<rect x="846" y="232" width="5" height="5" fill="#fbf500"/>
<rect x="851" y="232" width="5" height="5" fill="#fcf200"/>
<rect x="856" y="232" width="5" height="5" fill="#fded00"/>
<rect x="861" y="232" width="5" height="5" fill="#fee800"/>
<rect x="866" y="232" width="5" height="5" fill="#fee200"/>
<rect x="871" y="232" width="5" height="5" fill="#ffda00"/>
<rect x="876" y="232" width="5" height="5" fill="#ffd200"/>
<rect x="881" y="232" width="5" height="5" fill="#ffc900"/>
<rect x="886" y="232" width="5" height="5" fill="#ffc000"/>
<rect x="891" y="232" width="5" height="5" fill="#ffc000"/>
<rect x="896" y="232" width="5" height="5" fill="#ffb200"/>
<rect x="901" y="232" width="5" height="5" fill="#ffb200"/>
<rect x="906" y="232" width="5" height="5" fill="#ffa400"/>
<rect x="651" y="237" width="5" height="5" fill="#00d845"/>
<rect x="656" y="237" width="5" height="5" fill="#00d845"/>
<rect x="661" y="237" width="5" height="5" fill="#00d845"/>
<rect x="666" y="237" width="5" height="5" fill="#00d845"/>
<rect x="671" y="237" width="5" height="5" fill="#00d841"/>
<rect x="676" y="237" width="5" height="5" fill="#00d83d"/>
<rect x="681" y="237" width="5" height="5" fill="#00d839"/>
<rect x="686" y="237" width="5" height="5" fill="#00d936"/>
<rect x="691" y="237" width="5" height="5" fill="#00d933"/>
<rect x="696" y="237" width="5" height="5" fill="#00d931"/>
<rect x="701" y="237" width="5" height="5" fill="#00d92f"/>
<rect x="706" y="237" width="5" height="5" fill="#01d92d"/>
<rect x="711" y="237" width="5" height="5" fill="#02d92c"/>
<rect x="716" y="237" width="5" height="5" fill="#03d92b"/>
<rect x="721" y="237" width="5" height="5" fill="#05d929"/>
<rect x="726" y="237" width="5" height="5" fill="#08da27"/>
<rect x="731" y="237" width="5" height="5" fill="#0cda25"/>
<rect x="736" y="237" width="5" height="5" fill="#11db21"/>
<rect x="741" y="237" width="5" height="5" fill="#17dd1e"/>
<rect x="746" y="237" width="5" height="5" fill="#1edf1a"/>
<rect x="751" y="237" width="5" height="5" fill="#28e215"/>
<rect x="756" y="237" width="5" height="5" fill="#32e510"/>
<rect x="761" y="237" width="5" height="5" fill="#3ee80a"/>
<rect x="766" y="237" width="5" height="5" fill="#4ceb05"/>
<rect x="771" y="237" width="5" height="5" fill="#5cee03"/>
<rect x="776" y="237" width="5" height="5" fill="#6ff104"/>
<rect x="781" y="237" width="5" height="5" fill="#85f308"/>
<rect x="786" y="237" width="5" height="5" fill="#9cf60f"/>
<rect x="791" y="237" width="5" height="5" fill="#b1f718"/>
<rect x="796" y="237" width="5" height="5" fill="#c4f922"/>
<rect x="801" y="237" width="5" height="5" fill="#d3f92b"/>
<rect x="806" y="237" width="5" height="5" fill="#e0fa31"/>
<rect x="811" y="237" width="5" height="5" fill="#eafa35"/>
<rect x="816" y="237" width="5" height="5" fill="#f1fa34"/>
<rect x="821" y="237" width="5" height="5" fill="#f6fa2f"/>
<rect x="826" y="237" width="5" height="5" fill="#f8fa26"/>
<rect x="831" y="237" width="5" height="5" fill="#faf918"/>
<rect x="836" y="237" width="5" height="5" fill="#faf808"/>
<rect x="841" y="237" width="5" height="5" fill="#faf700"/>
<rect x="846" y="237" width="5" height="5" fill="#fbf400"/>
<rect x="851" y="237" width="5" height="5" fill="#fcf000"/>
<rect x="856" y="237" width="5" height="5" fill="#fdeb00"/>
<rect x="861" y="237" width="5" height="5" fill="#fee600"/>
<rect x="866" y="237" width="5" height="5" fill="#fee000"/>
<rect x="871" y="237" width="5" height="5" fill="#ffd800"/>
<rect x="876" y="237" width="5" height="5" fill="#ffcf00"/>
<rect x="881" y="237" width="5" height="5" fill="#ffc600"/>
<rect x="886" y="237" width="5" height="5" fill="#ffbc00"/>
<rect x="891" y="237" width="5" height="5" fill="#ffb200"/>
<rect x="896" y="237" width="5" height="5" fill="#ffb200"/>
<rect x="901" y="237" width="5" height="5" fill="#ffa400"/>
<rect x="906" y="237" width="5" height="5" fill="#ffa400"/>
<rect x="911" y="237" width="5" height="5" fill="#ff9500"/>
<rect x="651" y="242" width="5" height="5" fill="#00d74d"/>
<rect x="656" y="242" width="5" height="5" fill="#00d74d"/>
<rect x="661" y="242" width="5" height="5" fill="#00d74d"/>
<rect x="666" y="242" width="5" height="5" fill="#00d74d"/>
<rect x="671" y="242" width="5" height="5" fill="#00d749"/>
<rect x="676" y="242" width="5" height="5" fill="#00d844"/>
<rect x="681" y="242" width="5" height="5" fill="#00d840"/>
<rect x="686" y="242" width="5" height="5" fill="#00d83c"/>
<rect x="691" y="242" width="5" height="5" fill="#00d839"/>
<rect x="696" y="242" width="5" height="5" fill="#00d837"/>
<rect x="701" y="242" width="5" height="5" fill="#01d836"/>
<rect x="706" y="242" width="5" height="5" fill="#01d834"/>
<rect x="711" y="242" width="5" height="5" fill="#02d834"/>
<rect x="716" y="242" width="5" height="5" fill="#04d933"/>
<rect x="721" y="242" width="5" height="5" fill="#05d932"/>
<rect x="726" y="242" width="5" height="5" fill="#08d930"/>
<rect x="731" y="242" width="5" height="5" fill="#0bda2d"/>
<rect x="736" y="242" width="5" height="5" fill="#10db2a"/>
<rect x="741" y="242" width="5" height="5" fill="#16dd26"/>
<rect x="746" y="242" width="5" height="5" fill="#1ddf21"/>
<rect x="751" y="242" width="5" height="5" fill="#26e21c"/>
<rect x="756" y="242" width="5" height="5" fill="#31e517"/>
<rect x="761" y="242" width="5" height="5" fill="#3ee80f"/>
<rect x="766" y="242" width="5" height="5" fill="#4cec09"/>
<rect x="771" y="242" width="5" height="5" fill="#5def06"/>
<rect x="776" y="242" width="5" height="5" fill="#72f208"/>
<rect x="781" y="242" width="5" height="5" fill="#89f40f"/>
<rect x="786" y="242" width="5" height="5" fill="#a0f619"/>
<rect x="791" y="242" width="5" height="5" fill="#b6f825"/>
<rect x="796" y="242" width="5" height="5" fill="#c9f931"/>
<rect x="801" y="242" width="5" height="5" fill="#d8fa3c"/>
<rect x="806" y="242" width="5" height="5" fill="#e4fa44"/>
<rect x="811" y="242" width="5" height="5" fill="#ecfa49"/>
<rect x="816" y="242" width="5" height="5" fill="#f3fa49"/>
<rect x="821" y="242" width="5" height="5" fill="#f7fa44"/>
<rect x="826" y="242" width="5" height="5" fill="#f9f93b"/>
<rect x="831" y="242" width="5" height="5" fill="#faf92c"/>
<rect x="836" y="242" width="5" height="5" fill="#faf71c"/>
<rect x="841" y="242" width="5" height="5" fill="#faf50c"/>
<rect x="846" y="242" width="5" height="5" fill="#fbf201"/>
<rect x="851" y="242" width="5" height="5" fill="#fced00"/>
<rect x="856" y="242" width="5" height="5" fill="#fde900"/>
<rect x="861" y="242" width="5" height="5" fill="#fee300"/>
<rect x="866" y="242" width="5" height="5" fill="#ffdd00"/>
<rect x="871" y="242" width="5" height="5" fill="#ffd500"/>
<rect x="876" y="242" width="5" height="5" fill="#ffcc00"/>
<rect x="881" y="242" width="5" height="5" fill="#ffc200"/>
<rect x="886" y="242" width="5" height="5" fill="#ffb800"/>
<rect x="891" y="242" width="5" height="5" fill="#ffad00"/>
<rect x="896" y="242" width="5" height="5" fill="#ffa400"/>
<rect x="901" y="242" width="5" height="5" fill="#ffa400"/>
<rect x="906" y="242" width="5" height="5" fill="#ff9500"/>
<rect x="911" y="242" width="5" height="5" fill="#ff9500"/>
<rect x="916" y="242" width="5" height="5" fill="#ff8500"/>
<rect x="651" y="247" width="5" height="5" fill="#00d756"/>
<rect x="656" y="247" width="5" height="5" fill="#00d756"/>
<rect x="661" y="247" width="5" height="5" fill="#00d756"/>
<rect x="666" y="247" width="5" height="5" fill="#00d756"/>
<rect x="671" y="247" width="5" height="5" fill="#00d751"/>
<rect x="676" y="247" width="5" height="5" fill="#00d74c"/>
<rect x="681" y="247" width="5" height="5" fill="#00d748"/>
<rect x="686" y="247" width="5" height="5" fill="#00d744"/>
<rect x="691" y="247" width="5" height="5" fill="#00d741"/>
<rect x="696" y="247" width="5" height="5" fill="#00d73f"/>
<rect x="701" y="247" width="5" height="5" fill="#01d83d"/>
<rect x="706" y="247" width="5" height="5" fill="#01d83d"/>
<rect x="711" y="247" width="5" height="5" fill="#02d83c"/>
<rect x="716" y="247" width="5" height="5" fill="#04d83c"/>
<rect x="721" y="247" width="5" height="5" fill="#06d93c"/>
<rect x="726" y="247" width="5" height="5" fill="#08d93a"/>
<rect x="731" y="247" width="5" height="5" fill="#0bda37"/>
<rect x="736" y="247" width="5" height="5" fill="#0fdb34"/>
<rect x="741" y="247" width="5" height="5" fill="#14dd2f"/>
<rect x="746" y="247" width="5" height="5" fill="#1bdf2a"/>
<rect x="751" y="247" width="5" height="5" fill="#25e224"/>
<rect x="756" y="247" width="5" height="5" fill="#30e51e"/>
<rect x="761" y="247" width="5" height="5" fill="#3ce915"/>
<rect x="766" y="247" width="5" height="5" fill="#4bec0d"/>
<rect x="771" y="247" width="5" height="5" fill="#5ef00b"/>
<rect x="776" y="247" width="5" height="5" fill="#75f30f"/>
<rect x="781" y="247" width="5" height="5" fill="#8ef519"/>
<rect x="786" y="247" width="5" height="5" fill="#a7f726"/>
<rect x="791" y="247" width="5" height="5" fill="#bdf935"/>
<rect x="796" y="247" width="5" height="5" fill="#d0fa43"/>
<rect x="801" y="247" width="5" height="5" fill="#defa51"/>
<rect x="806" y="247" width="5" height="5" fill="#e8fa5b"/>
<rect x="811" y="247" width="5" height="5" fill="#f0fa61"/>
<rect x="816" y="247" width="5" height="5" fill="#f5fa62"/>
<rect x="821" y="247" width="5" height="5" fill="#f8f95e"/>
<rect x="826" y="247" width="5" height="5" fill="#faf955"/>
<rect x="831" y="247" width="5" height="5" fill="#fbf847"/>
<rect x="836" y="247" width="5" height="5" fill="#fbf637"/>
<rect x="841" y="247" width="5" height="5" fill="#fbf327"/>
<rect x="846" y="247" width="5" height="5" fill="#fbef1b"/>
<rect x="851" y="247" width="5" height="5" fill="#fcea12"/>
<rect x="856" y="247" width="5" height="5" fill="#fde509"/>
<rect x="861" y="247" width="5" height="5" fill="#fee000"/>
<rect x="866" y="247" width="5" height="5" fill="#ffda00"/>
<rect x="871" y="247" width="5" height="5" fill="#ffd200"/>
<rect x="876" y="247" width="5" height="5" fill="#ffc900"/>
<rect x="881" y="247" width="5" height="5" fill="#ffbf00"/>
<rect x="886" y="247" width="5" height="5" fill="#ffb400"/>
<rect x="891" y="247" width="5" height="5" fill="#ffa900"/>
<rect x="896" y="247" width="5" height="5" fill="#ff9f00"/>
<rect x="901" y="247" width="5" height="5" fill="#ff9500"/>
<rect x="906" y="247" width="5" height="5" fill="#ff9500"/>
<rect x="911" y="247" width="5" height="5" fill="#ff8500"/>
<rect x="916" y="247" width="5" height="5" fill="#ff8500"/>
<rect x="921" y="247" width="5" height="5" fill="#ff7300"/>
<rect x="656" y="252" width="5" height="5" fill="#00d756"/>
<rect x="661" y="252" width="5" height="5" fill="#00d756"/>
<rect x="666" y="252" width="5" height="5" fill="#00d756"/>
<rect x="671" y="252" width="5" height="5" fill="#00d65b"/>
<rect x="676" y="252" width="5" height="5" fill="#00d656"/>
<rect x="681" y="252" width="5" height="5" fill="#00d651"/>
<rect x="686" y="252" width="5" height="5" fill="#00d64d"/>
<rect x="691" y="252" width="5" height="5" fill="#00d749"/>
<rect x="696" y="252" width="5" height="5" fill="#01d747"/>
<rect x="701" y="252" width="5" height="5" fill="#01d746"/>
<rect x="706" y="252" width="5" height="5" fill="#02d746"/>
<rect x="711" y="252" width="5" height="5" fill="#03d747"/>
<rect x="716" y="252" width="5" height="5" fill="#04d847"/>
<rect x="721" y="252" width="5" height="5" fill="#06d847"/>
<rect x="726" y="252" width="5" height="5" fill="#08d946"/>
<rect x="731" y="252" width="5" height="5" fill="#0bda43"/>
<rect x="736" y="252" width="5" height="5" fill="#0edb3f"/>
<rect x="741" y="252" width="5" height="5" fill="#13dd39"/>
<rect x="746" y="252" width="5" height="5" fill="#19df33"/>
<rect x="751" y="252" width="5" height="5" fill="#21e22b"/>
<rect x="756" y="252" width="5" height="5" fill="#2ce523"/>
<rect x="761" y="252" width="5" height="5" fill="#3ae91a"/>
<rect x="766" y="252" width="5" height="5" fill="#4aed12"/>
<rect x="771" y="252" width="5" height="5" fill="#5ff011"/>
<rect x="776" y="252" width="5" height="5" fill="#79f31a"/>
<rect x="781" y="252" width="5" height="5" fill="#94f629"/>
<rect x="786" y="252" width="5" height="5" fill="#aff839"/>
<rect x="791" y="252" width="5" height="5" fill="#c6fa4a"/>
<rect x="796" y="252" width="5" height="5" fill="#d8fb5b"/>
<rect x="801" y="252" width="5" height="5" fill="#e4fb6a"/>
<rect x="806" y="252" width="5" height="5" fill="#edfa75"/>
<rect x="811" y="252" width="5" height="5" fill="#f4fa7c"/>
<rect x="816" y="252" width="5" height="5" fill="#f8f97e"/>
<rect x="821" y="252" width="5" height="5" fill="#faf97b"/>
<rect x="826" y="252" width="5" height="5" fill="#fbf873"/>
<rect x="831" y="252" width="5" height="5" fill="#fcf665"/>
<rect x="836" y="252" width="5" height="5" fill="#fcf456"/>
<rect x="841" y="252" width="5" height="5" fill="#fcf046"/>
<rect x="846" y="252" width="5" height="5" fill="#fcec3a"/>
<rect x="851" y="252" width="5" height="5" fill="#fde630"/>
<rect x="856" y="252" width="5" height="5" fill="#fee026"/>
<rect x="861" y="252" width="5" height="5" fill="#ffda18"/>
<rect x="866" y="252" width="5" height="5" fill="#ffd50c"/>
<rect x="871" y="252" width="5" height="5" fill="#ffce04"/>
<rect x="876" y="252" width="5" height="5" fill="#ffc500"/>
<rect x="881" y="252" width="5" height="5" fill="#ffbb00"/>
<rect x="886" y="252" width="5" height="5" fill="#ffb000"/>
<rect x="891" y="252" width="5" height="5" fill="#ffa400"/>
<rect x="896" y="252" width="5" height="5" fill="#ff9800"/>
<rect x="901" y="252" width="5" height="5" fill="#ff8e00"/>
<rect x="906" y="252" width="5" height="5" fill="#ff8500"/>
<rect x="911" y="252" width="5" height="5" fill="#ff8500"/>
<rect x="916" y="252" width="5" height="5" fill="#ff7300"/>
<rect x="921" y="252" width="5" height="5" fill="#ff7300"/>
<rect x="926" y="252" width="5" height="5" fill="#fe5e00"/>
<rect x="656" y="257" width="5" height="5" fill="#00d756"/>
<rect x="661" y="257" width="5" height="5" fill="#00d566"/>
<rect x="666" y="257" width="5" height="5" fill="#00d566"/>
<rect x="671" y="257" width="5" height="5" fill="#00d566"/>
<rect x="676" y="257" width="5" height="5" fill="#00d560"/>
<rect x="681" y="257" width="5" height="5" fill="#00d65b"/>
<rect x="686" y="257" width="5" height="5" fill="#00d657"/>
<rect x="691" y="257" width="5" height="5" fill="#00d653"/>
<rect x="696" y="257" width="5" height="5" fill="#01d650"/>
<rect x="701" y="257" width="5" height="5" fill="#01d650"/>
<rect x="706" y="257" width="5" height="5" fill="#02d651"/>
<rect x="711" y="257" width="5" height="5" fill="#03d752"/>
<rect x="716" y="257" width="5" height="5" fill="#04d754"/>
<rect x="721" y="257" width="5" height="5" fill="#06d854"/>
<rect x="726" y="257" width="5" height="5" fill="#08d954"/>
<rect x="731" y="257" width="5" height="5" fill="#0bda51"/>
<rect x="736" y="257" width="5" height="5" fill="#0ddb4c"/>
<rect x="741" y="257" width="5" height="5" fill="#11dc45"/>
<rect x="746" y="257" width="5" height="5" fill="#16de3c"/>
<rect x="751" y="257" width="5" height="5" fill="#1de133"/>
<rect x="756" y="257" width="5" height="5" fill="#28e42a"/>
<rect x="761" y="257" width="5" height="5" fill="#37e821"/>
<rect x="766" y="257" width="5" height="5" fill="#4aec1b"/>
<rect x="771" y="257" width="5" height="5" fill="#61f01c"/>
<rect x="776" y="257" width="5" height="5" fill="#7ef42c"/>
<rect x="781" y="257" width="5" height="5" fill="#9df640"/>
<rect x="786" y="257" width="5" height="5" fill="#b8f955"/>
<rect x="791" y="257" width="5" height="5" fill="#cffb67"/>
<rect x="796" y="257" width="5" height="5" fill="#e0fb79"/>
<rect x="801" y="257" width="5" height="5" fill="#ebfb87"/>
<rect x="806" y="257" width="5" height="5" fill="#f3fb92"/>
<rect x="811" y="257" width="5" height="5" fill="#f8fa99"/>
<rect x="816" y="257" width="5" height="5" fill="#fbf99c"/>
<rect x="821" y="257" width="5" height="5" fill="#fcf89a"/>
<rect x="826" y="257" width="5" height="5" fill="#fdf792"/>
<rect x="831" y="257" width="5" height="5" fill="#fdf584"/>
<rect x="836" y="257" width="5" height="5" fill="#fdf274"/>
<rect x="841" y="257" width="5" height="5" fill="#fdee64"/>
<rect x="846" y="257" width="5" height="5" fill="#fde956"/>
<rect x="851" y="257" width="5" height="5" fill="#fee24c"/>
<rect x="856" y="257" width="5" height="5" fill="#fedb43"/>
<rect x="861" y="257" width="5" height="5" fill="#ffd535"/>
<rect x="866" y="257" width="5" height="5" fill="#ffd023"/>
<rect x="871" y="257" width="5" height="5" fill="#ffc915"/>
<rect x="876" y="257" width="5" height="5" fill="#ffc10a"/>
<rect x="881" y="257" width="5" height="5" fill="#ffb603"/>
<rect x="886" y="257" width="5" height="5" fill="#ffaa00"/>
<rect x="891" y="257" width="5" height="5" fill="#ff9d00"/>
<rect x="896" y="257" width="5" height="5" fill="#ff9000"/>
<rect x="901" y="257" width="5" height="5" fill="#ff8400"/>
<rect x="906" y="257" width="5" height="5" fill="#ff7a00"/>
<rect x="911" y="257" width="5" height="5" fill="#ff7300"/>
<rect x="916" y="257" width="5" height="5" fill="#ff7300"/>
<rect x="921" y="257" width="5" height="5" fill="#fe5e00"/>
<rect x="926" y="257" width="5" height="5" fill="#fe5e00"/>
<rect x="931" y="257" width="5" height="5" fill="#f74800"/>
<rect x="656" y="262" width="5" height="5" fill="#01d471"/>
<rect x="661" y="262" width="5" height="5" fill="#01d471"/>
<rect x="666" y="262" width="5" height="5" fill="#01d471"/>
<rect x="671" y="262" width="5" height="5" fill="#01d471"/>
<rect x="676" y="262" width="5" height="5" fill="#00d56c"/>
<rect x="681" y="262" width="5" height="5" fill="#00d567"/>
<rect x="686" y="262" width="5" height="5" fill="#00d562"/>
<rect x="691" y="262" width="5" height="5" fill="#00d55d"/>
<rect x="696" y="262" width="5" height="5" fill="#01d55b"/>
<rect x="701" y="262" width="5" height="5" fill="#01d55b"/>
<rect x="706" y="262" width="5" height="5" fill="#01d65c"/>
<rect x="711" y="262" width="5" height="5" fill="#02d65f"/>
<rect x="716" y="262" width="5" height="5" fill="#04d762"/>
<rect x="721" y="262" width="5" height="5" fill="#06d863"/>
<rect x="726" y="262" width="5" height="5" fill="#09d863"/>
<rect x="731" y="262" width="5" height="5" fill="#0bd961"/>
<rect x="736" y="262" width="5" height="5" fill="#0edb5c"/>
<rect x="741" y="262" width="5" height="5" fill="#10dc53"/>
<rect x="746" y="262" width="5" height="5" fill="#13de49"/>
<rect x="751" y="262" width="5" height="5" fill="#19e03e"/>
<rect x="756" y="262" width="5" height="5" fill="#25e334"/>
<rect x="761" y="262" width="5" height="5" fill="#36e72e"/>
<rect x="766" y="262" width="5" height="5" fill="#4deb2d"/>
<rect x="771" y="262" width="5" height="5" fill="#69ef35"/>
<rect x="776" y="262" width="5" height="5" fill="#89f34a"/>
<rect x="781" y="262" width="5" height="5" fill="#a9f662"/>
<rect x="786" y="262" width="5" height="5" fill="#c4f978"/>
<rect x="791" y="262" width="5" height="5" fill="#d9fb8b"/>
<rect x="796" y="262" width="5" height="5" fill="#e8fc9a"/>
<rect x="801" y="262" width="5" height="5" fill="#f2fca7"/>
<rect x="806" y="262" width="5" height="5" fill="#f8fcb0"/>
<rect x="811" y="262" width="5" height="5" fill="#fcfab5"/>
<rect x="816" y="262" width="5" height="5" fill="#fdf9b8"/>
<rect x="821" y="262" width="5" height="5" fill="#fef8b6"/>
<rect x="826" y="262" width="5" height="5" fill="#fef6af"/>
<rect x="831" y="262" width="5" height="5" fill="#fef4a0"/>
<rect x="836" y="262" width="5" height="5" fill="#fef18e"/>
<rect x="841" y="262" width="5" height="5" fill="#feec7c"/>
<rect x="846" y="262" width="5" height="5" fill="#fee76d"/>
<rect x="851" y="262" width="5" height="5" fill="#fee060"/>
<rect x="856" y="262" width="5" height="5" fill="#ffd955"/>
<rect x="861" y="262" width="5" height="5" fill="#ffd246"/>
<rect x="866" y="262" width="5" height="5" fill="#ffcc34"/>
<rect x="871" y="262" width="5" height="5" fill="#ffc523"/>
<rect x="876" y="262" width="5" height="5" fill="#ffbc15"/>
<rect x="881" y="262" width="5" height="5" fill="#ffb10a"/>
<rect x="886" y="262" width="5" height="5" fill="#ffa401"/>
<rect x="891" y="262" width="5" height="5" fill="#ff9400"/>
<rect x="896" y="262" width="5" height="5" fill="#fe8400"/>
<rect x="901" y="262" width="5" height="5" fill="#fe7600"/>
<rect x="906" y="262" width="5" height="5" fill="#fe6b00"/>
<rect x="911" y="262" width="5" height="5" fill="#fe6400"/>
<rect x="916" y="262" width="5" height="5" fill="#fe5e00"/>
<rect x="921" y="262" width="5" height="5" fill="#fe5e00"/>
<rect x="926" y="262" width="5" height="5" fill="#f74800"/>
<rect x="931" y="262" width="5" height="5" fill="#f74800"/>
<rect x="936" y="262" width="5" height="5" fill="#ef3600"/>
<rect x="656" y="267" width="5" height="5" fill="#01d37f"/>
<rect x="661" y="267" width="5" height="5" fill="#01d37f"/>
<rect x="666" y="267" width="5" height="5" fill="#01d37f"/>
<rect x="671" y="267" width="5" height="5" fill="#01d37f"/>
<rect x="676" y="267" width="5" height="5" fill="#00d479"/>
<rect x="681" y="267" width="5" height="5" fill="#00d474"/>
<rect x="686" y="267" width="5" height="5" fill="#00d46f"/>
<rect x="691" y="267" width="5" height="5" fill="#00d46a"/>
<rect x="696" y="267" width="5" height="5" fill="#00d467"/>
<rect x="701" y="267" width="5" height="5" fill="#00d567"/>
<rect x="706" y="267" width="5" height="5" fill="#01d56a"/>
<rect x="711" y="267" width="5" height="5" fill="#02d66e"/>
<rect x="716" y="267" width="5" height="5" fill="#04d671"/>
<rect x="721" y="267" width="5" height="5" fill="#06d774"/>
<rect x="726" y="267" width="5" height="5" fill="#09d874"/>
<rect x="731" y="267" width="5" height="5" fill="#0cd973"/>
<rect x="736" y="267" width="5" height="5" fill="#0fda6e"/>
<rect x="741" y="267" width="5" height="5" fill="#10db64"/>
<rect x="746" y="267" width="5" height="5" fill="#12dd58"/>
<rect x="751" y="267" width="5" height="5" fill="#17df4c"/>
<rect x="756" y="267" width="5" height="5" fill="#23e144"/>
<rect x="761" y="267" width="5" height="5" fill="#39e543"/>
<rect x="766" y="267" width="5" height="5" fill="#57ea4b"/>
<rect x="771" y="267" width="5" height="5" fill="#78ee5c"/>
<rect x="776" y="267" width="5" height="5" fill="#9af273"/>
<rect x="781" y="267" width="5" height="5" fill="#b9f68b"/>
<rect x="786" y="267" width="5" height="5" fill="#d2faa0"/>
<rect x="791" y="267" width="5" height="5" fill="#e5fcb0"/>
<rect x="796" y="267" width="5" height="5" fill="#f2febd"/>
<rect x="801" y="267" width="5" height="5" fill="#f9fec5"/>
<rect x="806" y="267" width="5" height="5" fill="#fdfdcb"/>
<rect x="811" y="267" width="5" height="5" fill="#fffbce"/>
<rect x="816" y="267" width="5" height="5" fill="#fff9cf"/>
<rect x="821" y="267" width="5" height="5" fill="#fff7cd"/>
<rect x="826" y="267" width="5" height="5" fill="#fff5c6"/>
<rect x="831" y="267" width="5" height="5" fill="#fff2b4"/>
<rect x="836" y="267" width="5" height="5" fill="#feefa0"/>
<rect x="841" y="267" width="5" height="5" fill="#feeb8d"/>
<rect x="846" y="267" width="5" height="5" fill="#fee57c"/>
<rect x="851" y="267" width="5" height="5" fill="#ffdf6d"/>
<rect x="856" y="267" width="5" height="5" fill="#ffd75f"/>
<rect x="861" y="267" width="5" height="5" fill="#ffd050"/>
<rect x="866" y="267" width="5" height="5" fill="#ffc93f"/>
<rect x="871" y="267" width="5" height="5" fill="#ffc12e"/>
<rect x="876" y="267" width="5" height="5" fill="#ffb71e"/>
<rect x="881" y="267" width="5" height="5" fill="#ffaa11"/>
<rect x="886" y="267" width="5" height="5" fill="#ff9b07"/>
<rect x="891" y="267" width="5" height="5" fill="#fe8900"/>
<rect x="896" y="267" width="5" height="5" fill="#fc7600"/>
<rect x="901" y="267" width="5" height="5" fill="#fb6500"/>
<rect x="906" y="267" width="5" height="5" fill="#fa5900"/>
<rect x="911" y="267" width="5" height="5" fill="#f95100"/>
<rect x="916" y="267" width="5" height="5" fill="#f84c00"/>
<rect x="921" y="267" width="5" height="5" fill="#f74800"/>
<rect x="926" y="267" width="5" height="5" fill="#f74800"/>
<rect x="931" y="267" width="5" height="5" fill="#ef3600"/>
<rect x="936" y="267" width="5" height="5" fill="#ef3600"/>
<rect x="941" y="267" width="5" height="5" fill="#e82900"/>
<rect x="656" y="272" width="5" height="5" fill="#01d28d"/>
<rect x="661" y="272" width="5" height="5" fill="#01d28d"/>
<rect x="666" y="272" width="5" height="5" fill="#01d28d"/>
<rect x="671" y="272" width="5" height="5" fill="#01d28d"/>
<rect x="676" y="272" width="5" height="5" fill="#00d388"/>
<rect x="681" y="272" width="5" height="5" fill="#00d383"/>
<rect x="686" y="272" width="5" height="5" fill="#00d37d"/>
<rect x="691" y="272" width="5" height="5" fill="#00d479"/>
<rect x="696" y="272" width="5" height="5" fill="#00d476"/>
<rect x="701" y="272" width="5" height="5" fill="#00d477"/>
<rect x="706" y="272" width="5" height="5" fill="#00d57a"/>
<rect x="711" y="272" width="5" height="5" fill="#01d57e"/>
<rect x="716" y="272" width="5" height="5" fill="#03d682"/>
<rect x="721" y="272" width="5" height="5" fill="#06d785"/>
<rect x="726" y="272" width="5" height="5" fill="#09d886"/>
<rect x="731" y="272" width="5" height="5" fill="#0dd986"/>
<rect x="736" y="272" width="5" height="5" fill="#11da82"/>
<rect x="741" y="272" width="5" height="5" fill="#12db78"/>
<rect x="746" y="272" width="5" height="5" fill="#12dc6a"/>
<rect x="751" y="272" width="5" height="5" fill="#17de5d"/>
<rect x="756" y="272" width="5" height="5" fill="#24e056"/>
<rect x="761" y="272" width="5" height="5" fill="#40e45b"/>
<rect x="766" y="272" width="5" height="5" fill="#65e96c"/>
<rect x="771" y="272" width="5" height="5" fill="#8bed84"/>
<rect x="776" y="272" width="5" height="5" fill="#aff19f"/>
<rect x="781" y="272" width="5" height="5" fill="#cbf6b5"/>
<rect x="786" y="272" width="5" height="5" fill="#e2fbc8"/>
<rect x="791" y="272" width="5" height="5" fill="#f2fed5"/>
<rect x="796" y="272" width="5" height="5" fill="#fbffdd"/>
<rect x="801" y="272" width="5" height="5" fill="#ffffe0"/>
<rect x="806" y="272" width="5" height="5" fill="#fffee2"/>
<rect x="811" y="272" width="5" height="5" fill="#fffce1"/>
<rect x="816" y="272" width="5" height="5" fill="#fff9df"/>
<rect x="821" y="272" width="5" height="5" fill="#fff6da"/>
<rect x="826" y="272" width="5" height="5" fill="#fff3d0"/>
<rect x="831" y="272" width="5" height="5" fill="#fff0bf"/>
<rect x="836" y="272" width="5" height="5" fill="#ffecaa"/>
<rect x="841" y="272" width="5" height="5" fill="#ffe896"/>
<rect x="846" y="272" width="5" height="5" fill="#ffe383"/>
<rect x="851" y="272" width="5" height="5" fill="#ffdc73"/>
<rect x="856" y="272" width="5" height="5" fill="#ffd564"/>
<rect x="861" y="272" width="5" height="5" fill="#ffcd55"/>
<rect x="866" y="272" width="5" height="5" fill="#ffc545"/>
<rect x="871" y="272" width="5" height="5" fill="#ffbc35"/>
<rect x="876" y="272" width="5" height="5" fill="#ffb026"/>
<rect x="881" y="272" width="5" height="5" fill="#ffa218"/>
<rect x="886" y="272" width="5" height="5" fill="#fe900d"/>
<rect x="891" y="272" width="5" height="5" fill="#fc7b05"/>
<rect x="896" y="272" width="5" height="5" fill="#f96501"/>
<rect x="901" y="272" width="5" height="5" fill="#f65200"/>
<rect x="906" y="272" width="5" height="5" fill="#f54400"/>
<rect x="911" y="272" width="5" height="5" fill="#f33d00"/>
<rect x="916" y="272" width="5" height="5" fill="#f33900"/>
<rect x="921" y="272" width="5" height="5" fill="#f13700"/>
<rect x="926" y="272" width="5" height="5" fill="#ef3600"/>
<rect x="931" y="272" width="5" height="5" fill="#ef3600"/>
<rect x="936" y="272" width="5" height="5" fill="#e82900"/>
<rect x="941" y="272" width="5" height="5" fill="#e82900"/>
<rect x="946" y="272" width="5" height="5" fill="#e02000"/>
<rect x="661" y="277" width="5" height="5" fill="#01d28d"/>
<rect x="666" y="277" width="5" height="5" fill="#01d28d"/>
<rect x="671" y="277" width="5" height="5" fill="#01d28d"/>
<rect x="676" y="277" width="5" height="5" fill="#00d297"/>
<rect x="681" y="277" width="5" height="5" fill="#00d293"/>
<rect x="686" y="277" width="5" height="5" fill="#00d38e"/>
<rect x="691" y="277" width="5" height="5" fill="#00d38a"/>
<rect x="696" y="277" width="5" height="5" fill="#00d388"/>
<rect x="701" y="277" width="5" height="5" fill="#00d488"/>
<rect x="706" y="277" width="5" height="5" fill="#00d48b"/>
<rect x="711" y="277" width="5" height="5" fill="#00d58f"/>
<rect x="716" y="277" width="5" height="5" fill="#02d693"/>
<rect x="721" y="277" width="5" height="5" fill="#04d696"/>
<rect x="726" y="277" width="5" height="5" fill="#08d798"/>
<rect x="731" y="277" width="5" height="5" fill="#0dd898"/>
<rect x="736" y="277" width="5" height="5" fill="#12da95"/>
<rect x="741" y="277" width="5" height="5" fill="#14db8c"/>
<rect x="746" y="277" width="5" height="5" fill="#15dc7e"/>
<rect x="751" y="277" width="5" height="5" fill="#1bdd72"/>
<rect x="756" y="277" width="5" height="5" fill="#2be06c"/>
<rect x="761" y="277" width="5" height="5" fill="#4ee577"/>
<rect x="766" y="277" width="5" height="5" fill="#78ea8c"/>
<rect x="771" y="277" width="5" height="5" fill="#a1efa7"/>
<rect x="776" y="277" width="5" height="5" fill="#c3f3c1"/>
<rect x="781" y="277" width="5" height="5" fill="#ddf8d7"/>
<rect x="786" y="277" width="5" height="5" fill="#f1fce9"/>
<rect x="791" y="277" width="5" height="5" fill="#fdfff4"/>
<rect x="796" y="277" width="5" height="5" fill="#fffff6"/>
<rect x="801" y="277" width="5" height="5" fill="#fffff5"/>
<rect x="806" y="277" width="5" height="5" fill="#fffff1"/>
<rect x="811" y="277" width="5" height="5" fill="#fffced"/>
<rect x="816" y="277" width="5" height="5" fill="#fff8e7"/>
<rect x="821" y="277" width="5" height="5" fill="#fff4de"/>
<rect x="826" y="277" width="5" height="5" fill="#fff0d2"/>
<rect x="831" y="277" width="5" height="5" fill="#ffecc0"/>
<rect x="836" y="277" width="5" height="5" fill="#ffe8ac"/>
<rect x="841" y="277" width="5" height="5" fill="#ffe498"/>
<rect x="846" y="277" width="5" height="5" fill="#ffde84"/>
<rect x="851" y="277" width="5" height="5" fill="#ffd774"/>
<rect x="856" y="277" width="5" height="5" fill="#ffd065"/>
<rect x="861" y="277" width="5" height="5" fill="#ffc857"/>
<rect x="866" y="277" width="5" height="5" fill="#ffbf48"/>
<rect x="871" y="277" width="5" height="5" fill="#ffb639"/>
<rect x="876" y="277" width="5" height="5" fill="#ffa92b"/>
<rect x="881" y="277" width="5" height="5" fill="#ff991e"/>
<rect x="886" y="277" width="5" height="5" fill="#fd8413"/>
<rect x="891" y="277" width="5" height="5" fill="#fa6c0a"/>
<rect x="896" y="277" width="5" height="5" fill="#f65304"/>
<rect x="901" y="277" width="5" height="5" fill="#f23d00"/>
<rect x="906" y="277" width="5" height="5" fill="#ef2f00"/>
<rect x="911" y="277" width="5" height="5" fill="#ee2900"/>
<rect x="916" y="277" width="5" height="5" fill="#ec2800"/>
<rect x="921" y="277" width="5" height="5" fill="#eb2800"/>
<rect x="926" y="277" width="5" height="5" fill="#ea2900"/>
<rect x="931" y="277" width="5" height="5" fill="#e82900"/>
<rect x="936" y="277" width="5" height="5" fill="#e82900"/>
<rect x="941" y="277" width="5" height="5" fill="#e02000"/>
<rect x="946" y="277" width="5" height="5" fill="#e02000"/>
<rect x="951" y="277" width="5" height="5" fill="#d91900"/>
<rect x="661" y="282" width="5" height="5" fill="#01d28d"/>
<rect x="666" y="282" width="5" height="5" fill="#00d1a7"/>
<rect x="671" y="282" width="5" height="5" fill="#00d1a7"/>
<rect x="676" y="282" width="5" height="5" fill="#00d1a7"/>
<rect x="681" y="282" width="5" height="5" fill="#00d1a3"/>
<rect x="686" y="282" width="5" height="5" fill="#00d29f"/>
<rect x="691" y="282" width="5" height="5" fill="#00d29c"/>
<rect x="696" y="282" width="5" height="5" fill="#00d39a"/>
<rect x="701" y="282" width="5" height="5" fill="#00d39a"/>
<rect x="706" y="282" width="5" height="5" fill="#00d49d"/>
<rect x="711" y="282" width="5" height="5" fill="#00d4a0"/>
<rect x="716" y="282" width="5" height="5" fill="#00d5a3"/>
<rect x="721" y="282" width="5" height="5" fill="#03d6a6"/>
<rect x="726" y="282" width="5" height="5" fill="#06d7a8"/>
<rect x="731" y="282" width="5" height="5" fill="#0bd8a7"/>
<rect x="736" y="282" width="5" height="5" fill="#0fd9a5"/>
<rect x="741" y="282" width="5" height="5" fill="#12da9d"/>
<rect x="746" y="282" width="5" height="5" fill="#17db92"/>
<rect x="751" y="282" width="5" height="5" fill="#24de8a"/>
<rect x="756" y="282" width="5" height="5" fill="#3fe28b"/>
<rect x="761" y="282" width="5" height="5" fill="#68e897"/>
<rect x="766" y="282" width="5" height="5" fill="#93eeac"/>
<rect x="771" y="282" width="5" height="5" fill="#b9f2c3"/>
<rect x="776" y="282" width="5" height="5" fill="#d6f6da"/>
<rect x="781" y="282" width="5" height="5" fill="#edfaee"/>
<rect x="786" y="282" width="5" height="5" fill="#fdfeff"/>
<rect x="791" y="282" width="5" height="5" fill="#ffffff"/>
<rect x="796" y="282" width="5" height="5" fill="#ffffff"/>
<rect x="801" y="282" width="5" height="5" fill="#ffffff"/>
<rect x="806" y="282" width="5" height="5" fill="#fffff9"/>
<rect x="811" y="282" width="5" height="5" fill="#fffbf1"/>
<rect x="816" y="282" width="5" height="5" fill="#fff6e8"/>
<rect x="821" y="282" width="5" height="5" fill="#fff0dc"/>
<rect x="826" y="282" width="5" height="5" fill="#ffebce"/>
<rect x="831" y="282" width="5" height="5" fill="#ffe6bd"/>
<rect x="836" y="282" width="5" height="5" fill="#ffe1aa"/>
<rect x="841" y="282" width="5" height="5" fill="#ffdc95"/>
<rect x="846" y="282" width="5" height="5" fill="#ffd782"/>
<rect x="851" y="282" width="5" height="5" fill="#ffcf73"/>
<rect x="856" y="282" width="5" height="5" fill="#ffc765"/>
<rect x="861" y="282" width="5" height="5" fill="#ffbf57"/>
<rect x="866" y="282" width="5" height="5" fill="#ffb74a"/>
<rect x="871" y="282" width="5" height="5" fill="#ffad3c"/>
<rect x="876" y="282" width="5" height="5" fill="#ffa12f"/>
<rect x="881" y="282" width="5" height="5" fill="#ff8f23"/>
<rect x="886" y="282" width="5" height="5" fill="#fc7818"/>
<rect x="891" y="282" width="5" height="5" fill="#f85e0e"/>
<rect x="896" y="282" width="5" height="5" fill="#f34307"/>
<rect x="901" y="282" width="5" height="5" fill="#ee2c02"/>
<rect x="906" y="282" width="5" height="5" fill="#ea1c00"/>
<rect x="911" y="282" width="5" height="5" fill="#e81900"/>
<rect x="916" y="282" width="5" height="5" fill="#e71a00"/>
<rect x="921" y="282" width="5" height="5" fill="#e61c00"/>
<rect x="926" y="282" width="5" height="5" fill="#e41f00"/>
<rect x="931" y="282" width="5" height="5" fill="#e32000"/>
<rect x="936" y="282" width="5" height="5" fill="#e02000"/>
<rect x="941" y="282" width="5" height="5" fill="#e02000"/>
<rect x="946" y="282" width="5" height="5" fill="#d91900"/>
<rect x="951" y="282" width="5" height="5" fill="#d91900"/>
<rect x="956" y="282" width="5" height="5" fill="#ce1400"/>
<rect x="661" y="287" width="5" height="5" fill="#00cfb7"/>
<rect x="666" y="287" width="5" height="5" fill="#00cfb7"/>
<rect x="671" y="287" width="5" height="5" fill="#00cfb7"/>
<rect x="676" y="287" width="5" height="5" fill="#00cfb7"/>
<rect x="681" y="287" width="5" height="5" fill="#00d0b3"/>
<rect x="686" y="287" width="5" height="5" fill="#00d1b0"/>
<rect x="691" y="287" width="5" height="5" fill="#00d2ad"/>
<rect x="696" y="287" width="5" height="5" fill="#00d2ac"/>
<rect x="701" y="287" width="5" height="5" fill="#00d3ac"/>
<rect x="706" y="287" width="5" height="5" fill="#00d3ad"/>
<rect x="711" y="287" width="5" height="5" fill="#00d4b0"/>
<rect x="716" y="287" width="5" height="5" fill="#00d4b3"/>
<rect x="721" y="287" width="5" height="5" fill="#01d5b5"/>
<rect x="726" y="287" width="5" height="5" fill="#04d6b5"/>
<rect x="731" y="287" width="5" height="5" fill="#07d7b4"/>
<rect x="736" y="287" width="5" height="5" fill="#0ad8b1"/>
<rect x="741" y="287" width="5" height="5" fill="#0dd8aa"/>
<rect x="746" y="287" width="5" height="5" fill="#17daa4"/>
<rect x="751" y="287" width="5" height="5" fill="#2edea2"/>
<rect x="756" y="287" width="5" height="5" fill="#55e4a9"/>
<rect x="761" y="287" width="5" height="5" fill="#86ecb7"/>
<rect x="766" y="287" width="5" height="5" fill="#b2f2c9"/>
<rect x="771" y="287" width="5" height="5" fill="#d1f6db"/>
<rect x="776" y="287" width="5" height="5" fill="#e7f9eb"/>
<rect x="781" y="287" width="5" height="5" fill="#f7fcfa"/>
<rect x="786" y="287" width="5" height="5" fill="#ffffff"/>
<rect x="791" y="287" width="5" height="5" fill="#ffffff"/>
<rect x="796" y="287" width="5" height="5" fill="#ffffff"/>
<rect x="801" y="287" width="5" height="5" fill="#ffffff"/>
<rect x="806" y="287" width="5" height="5" fill="#fffefb"/>
<rect x="811" y="287" width="5" height="5" fill="#fff8f0"/>
<rect x="816" y="287" width="5" height="5" fill="#fff2e4"/>
<rect x="821" y="287" width="5" height="5" fill="#ffead6"/>
<rect x="826" y="287" width="5" height="5" fill="#ffe3c7"/>
<rect x="831" y="287" width="5" height="5" fill="#ffddb6"/>
<rect x="836" y="287" width="5" height="5" fill="#ffd7a4"/>
<rect x="841" y="287" width="5" height="5" fill="#ffd192"/>
<rect x="846" y="287" width="5" height="5" fill="#ffca80"/>
<rect x="851" y="287" width="5" height="5" fill="#ffc371"/>
<rect x="856" y="287" width="5" height="5" fill="#ffbb63"/>
<rect x="861" y="287" width="5" height="5" fill="#ffb256"/>
<rect x="866" y="287" width="5" height="5" fill="#ffaa49"/>
<rect x="871" y="287" width="5" height="5" fill="#ffa03d"/>
<rect x="876" y="287" width="5" height="5" fill="#ff9531"/>
<rect x="881" y="287" width="5" height="5" fill="#ff8426"/>
<rect x="886" y="287" width="5" height="5" fill="#fb6b1a"/>
<rect x="891" y="287" width="5" height="5" fill="#f65011"/>
<rect x="896" y="287" width="5" height="5" fill="#f13609"/>
<rect x="901" y="287" width="5" height="5" fill="#ec2004"/>
<rect x="906" y="287" width="5" height="5" fill="#e81301"/>
<rect x="911" y="287" width="5" height="5" fill="#e50f00"/>
<rect x="916" y="287" width="5" height="5" fill="#e31000"/>
<rect x="921" y="287" width="5" height="5" fill="#e11400"/>
<rect x="926" y="287" width="5" height="5" fill="#df1700"/>
<rect x="931" y="287" width="5" height="5" fill="#dd1900"/>
<rect x="936" y="287" width="5" height="5" fill="#dc1a00"/>
<rect x="941" y="287" width="5" height="5" fill="#d91900"/>
<rect x="946" y="287" width="5" height="5" fill="#d91900"/>
<rect x="951" y="287" width="5" height="5" fill="#ce1400"/>
<rect x="956" y="287" width="5" height="5" fill="#ce1400"/>
<rect x="961" y="287" width="5" height="5" fill="#c11000"/>
<rect x="661" y="292" width="5" height="5" fill="#00cec5"/>
<rect x="666" y="292" width="5" height="5" fill="#00cec5"/>
<rect x="671" y="292" width="5" height="5" fill="#00cec5"/>
<rect x="676" y="292" width="5" height="5" fill="#00cec5"/>
<rect x="681" y="292" width="5" height="5" fill="#00cfc2"/>
<rect x="686" y="292" width="5" height="5" fill="#00d0bf"/>
<rect x="691" y="292" width="5" height="5" fill="#00d0bd"/>
<rect x="696" y="292" width="5" height="5" fill="#00d1bc"/>
<rect x="701" y="292" width="5" height="5" fill="#00d2bc"/>
<rect x="706" y="292" width="5" height="5" fill="#00d3bd"/>
<rect x="711" y="292" width="5" height="5" fill="#00d3bf"/>
<rect x="716" y="292" width="5" height="5" fill="#00d4c1"/>
<rect x="721" y="292" width="5" height="5" fill="#02d4c2"/>
<rect x="726" y="292" width="5" height="5" fill="#05d5c2"/>
<rect x="731" y="292" width="5" height="5" fill="#06d6bf"/>
<rect x="736" y="292" width="5" height="5" fill="#07d6bc"/>
<rect x="741" y="292" width="5" height="5" fill="#09d7b6"/>
<rect x="746" y="292" width="5" height="5" fill="#14d8b3"/>
<rect x="751" y="292" width="5" height="5" fill="#30ddb5"/>
<rect x="756" y="292" width="5" height="5" fill="#64e5c1"/>
<rect x="761" y="292" width="5" height="5" fill="#a1efd3"/>
<rect x="766" y="292" width="5" height="5" fill="#cdf6e2"/>
<rect x="771" y="292" width="5" height="5" fill="#e3faec"/>
<rect x="776" y="292" width="5" height="5" fill="#f2fbf6"/>
<rect x="781" y="292" width="5" height="5" fill="#fdfdff"/>
<rect x="786" y="292" width="5" height="5" fill="#ffffff"/>
<rect x="791" y="292" width="5" height="5" fill="#ffffff"/>
<rect x="796" y="292" width="5" height="5" fill="#ffffff"/>
<rect x="801" y="292" width="5" height="5" fill="#ffffff"/>
<rect x="806" y="292" width="5" height="5" fill="#fffbf6"/>
<rect x="811" y="292" width="5" height="5" fill="#fff4ea"/>
<rect x="816" y="292" width="5" height="5" fill="#ffebdd"/>
<rect x="821" y="292" width="5" height="5" fill="#ffe2ce"/>
<rect x="826" y="292" width="5" height="5" fill="#ffd9be"/>
<rect x="831" y="292" width="5" height="5" fill="#ffd1ae"/>
<rect x="836" y="292" width="5" height="5" fill="#ffc99e"/>
<rect x="841" y="292" width="5" height="5" fill="#ffc28d"/>
<rect x="846" y="292" width="5" height="5" fill="#ffba7e"/>
<rect x="851" y="292" width="5" height="5" fill="#ffb26f"/>
<rect x="856" y="292" width="5" height="5" fill="#ffaa61"/>
<rect x="861" y="292" width="5" height="5" fill="#ffa154"/>
<rect x="866" y="292" width="5" height="5" fill="#ff9848"/>
<rect x="871" y="292" width="5" height="5" fill="#ff8e3c"/>
<rect x="876" y="292" width="5" height="5" fill="#ff8231"/>
<rect x="881" y="292" width="5" height="5" fill="#fe7226"/>
<rect x="886" y="292" width="5" height="5" fill="#fa5a1b"/>
<rect x="891" y="292" width="5" height="5" fill="#f54011"/>
<rect x="896" y="292" width="5" height="5" fill="#f02a0a"/>
<rect x="901" y="292" width="5" height="5" fill="#eb1805"/>
<rect x="906" y="292" width="5" height="5" fill="#e60d02"/>
<rect x="911" y="292" width="5" height="5" fill="#e30900"/>
<rect x="916" y="292" width="5" height="5" fill="#e00b00"/>
<rect x="921" y="292" width="5" height="5" fill="#dd0f00"/>
<rect x="926" y="292" width="5" height="5" fill="#da1300"/>
<rect x="931" y="292" width="5" height="5" fill="#d91500"/>
<rect x="936" y="292" width="5" height="5" fill="#d61500"/>
<rect x="941" y="292" width="5" height="5" fill="#d31500"/>
<rect x="946" y="292" width="5" height="5" fill="#ce1400"/>
<rect x="951" y="292" width="5" height="5" fill="#ce1400"/>
<rect x="956" y="292" width="5" height="5" fill="#c11000"/>
<rect x="961" y="292" width="5" height="5" fill="#c11000"/>
<rect x="966" y="292" width="5" height="5" fill="#b40d00"/>
<rect x="661" y="297" width="5" height="5" fill="#00cbd1"/>
<rect x="666" y="297" width="5" height="5" fill="#00cbd1"/>
<rect x="671" y="297" width="5" height="5" fill="#00cbd1"/>
<rect x="676" y="297" width="5" height="5" fill="#00cbd1"/>
<rect x="681" y="297" width="5" height="5" fill="#00cdce"/>
<rect x="686" y="297" width="5" height="5" fill="#00cecc"/>
<rect x="691" y="297" width="5" height="5" fill="#00cfcb"/>
<rect x="696" y="297" width="5" height="5" fill="#00d0ca"/>
<rect x="701" y="297" width="5" height="5" fill="#00d1ca"/>
<rect x="706" y="297" width="5" height="5" fill="#00d1cb"/>
<rect x="711" y="297" width="5" height="5" fill="#01d2cc"/>
<rect x="716" y="297" width="5" height="5" fill="#03d3cd"/>
<rect x="721" y="297" width="5" height="5" fill="#06d4ce"/>
<rect x="726" y="297" width="5" height="5" fill="#09d5cd"/>
<rect x="731" y="297" width="5" height="5" fill="#0ad5ca"/>
<rect x="736" y="297" width="5" height="5" fill="#0ad5c6"/>
<rect x="741" y="297" width="5" height="5" fill="#0ad5c2"/>
<rect x="746" y="297" width="5" height="5" fill="#10d6bf"/>
<rect x="751" y="297" width="5" height="5" fill="#2adac2"/>
<rect x="756" y="297" width="5" height="5" fill="#66e3d0"/>
<rect x="761" y="297" width="5" height="5" fill="#abeee4"/>
<rect x="766" y="297" width="5" height="5" fill="#d6f7f0"/>
<rect x="771" y="297" width="5" height="5" fill="#e8faf5"/>
<rect x="776" y="297" width="5" height="5" fill="#f4fbfc"/>
<rect x="781" y="297" width="5" height="5" fill="#fdfcff"/>
<rect x="786" y="297" width="5" height="5" fill="#fffdff"/>
<rect x="791" y="297" width="5" height="5" fill="#ffffff"/>
<rect x="796" y="297" width="5" height="5" fill="#fffeff"/>
<rect x="801" y="297" width="5" height="5" fill="#fffcfb"/>
<rect x="806" y="297" width="5" height="5" fill="#fef6f0"/>
<rect x="811" y="297" width="5" height="5" fill="#feede3"/>
<rect x="816" y="297" width="5" height="5" fill="#fee3d4"/>
<rect x="821" y="297" width="5" height="5" fill="#ffd7c4"/>
<rect x="826" y="297" width="5" height="5" fill="#ffccb4"/>
<rect x="831" y="297" width="5" height="5" fill="#ffc2a5"/>
<rect x="836" y="297" width="5" height="5" fill="#ffb997"/>
<rect x="841" y="297" width="5" height="5" fill="#ffb088"/>
<rect x="846" y="297" width="5" height="5" fill="#ffa87a"/>
<rect x="851" y="297" width="5" height="5" fill="#ff9f6c"/>
<rect x="856" y="297" width="5" height="5" fill="#ff965e"/>
<rect x="861" y="297" width="5" height="5" fill="#ff8c52"/>
<rect x="866" y="297" width="5" height="5" fill="#ff8245"/>
<rect x="871" y="297" width="5" height="5" fill="#ff7639"/>
<rect x="876" y="297" width="5" height="5" fill="#fe692e"/>
<rect x="881" y="297" width="5" height="5" fill="#fb5823"/>
<rect x="886" y="297" width="5" height="5" fill="#f84319"/>
<rect x="891" y="297" width="5" height="5" fill="#f32f11"/>
<rect x="896" y="297" width="5" height="5" fill="#ef1d0b"/>
<rect x="901" y="297" width="5" height="5" fill="#ea1006"/>
<rect x="906" y="297" width="5" height="5" fill="#e60803"/>
<rect x="911" y="297" width="5" height="5" fill="#e20601"/>
<rect x="916" y="297" width="5" height="5" fill="#de0800"/>
<rect x="921" y="297" width="5" height="5" fill="#db0c00"/>
<rect x="926" y="297" width="5" height="5" fill="#d71000"/>
<rect x="931" y="297" width="5" height="5" fill="#d51200"/>
<rect x="936" y="297" width="5" height="5" fill="#d21200"/>
<rect x="941" y="297" width="5" height="5" fill="#ce1101"/>
<rect x="946" y="297" width="5" height="5" fill="#c81100"/>
<rect x="951" y="297" width="5" height="5" fill="#c11000"/>
<rect x="956" y="297" width="5" height="5" fill="#c11000"/>
<rect x="961" y="297" width="5" height="5" fill="#b40d00"/>
<rect x="966" y="297" width="5" height="5" fill="#b40d00"/>
<rect x="666" y="302" width="5" height="5" fill="#00cbd1"/>
<rect x="671" y="302" width="5" height="5" fill="#00cbd1"/>
<rect x="676" y="302" width="5" height="5" fill="#00cbd1"/>
<rect x="681" y="302" width="5" height="5" fill="#00cad8"/>
<rect x="686" y="302" width="5" height="5" fill="#00cbd7"/>
<rect x="691" y="302" width="5" height="5" fill="#00cdd6"/>
<rect x="696" y="302" width="5" height="5" fill="#00ced5"/>
<rect x="701" y="302" width="5" height="5" fill="#00cfd6"/>
<rect x="706" y="302" width="5" height="5" fill="#02d0d6"/>
<rect x="711" y="302" width="5" height="5" fill="#05d1d7"/>
<rect x="716" y="302" width="5" height="5" fill="#09d2d8"/>
<rect x="721" y="302" width="5" height="5" fill="#0dd3d8"/>
<rect x="726" y="302" width="5" height="5" fill="#11d4d7"/>
<rect x="731" y="302" width="5" height="5" fill="#14d4d5"/>
<rect x="736" y="302" width="5" height="5" fill="#14d4d1"/>
<rect x="741" y="302" width="5" height="5" fill="#14d3cd"/>
<rect x="746" y="302" width="5" height="5" fill="#18d3cb"/>
<rect x="751" y="302" width="5" height="5" fill="#2dd6cd"/>
<rect x="756" y="302" width="5" height="5" fill="#63deda"/>
<rect x="761" y="302" width="5" height="5" fill="#9ee8e8"/>
<rect x="766" y="302" width="5" height="5" fill="#c7f1f2"/>
<rect x="771" y="302" width="5" height="5" fill="#def5f7"/>
<rect x="776" y="302" width="5" height="5" fill="#eef6fd"/>
<rect x="781" y="302" width="5" height="5" fill="#f9f7ff"/>
<rect x="786" y="302" width="5" height="5" fill="#fff8ff"/>
<rect x="791" y="302" width="5" height="5" fill="#fffaff"/>
<rect x="796" y="302" width="5" height="5" fill="#fff9fd"/>
<rect x="801" y="302" width="5" height="5" fill="#fff6f4"/>
<rect x="806" y="302" width="5" height="5" fill="#ffefe8"/>
<rect x="811" y="302" width="5" height="5" fill="#ffe4da"/>
<rect x="816" y="302" width="5" height="5" fill="#ffd8cb"/>
<rect x="821" y="302" width="5" height="5" fill="#ffcaba"/>
<rect x="826" y="302" width="5" height="5" fill="#ffbdab"/>
<rect x="831" y="302" width="5" height="5" fill="#ffb29d"/>
<rect x="836" y="302" width="5" height="5" fill="#ffa78f"/>
<rect x="841" y="302" width="5" height="5" fill="#ff9d82"/>
<rect x="846" y="302" width="5" height="5" fill="#ff9375"/>
<rect x="851" y="302" width="5" height="5" fill="#ff8968"/>
<rect x="856" y="302" width="5" height="5" fill="#ff805b"/>
<rect x="861" y="302" width="5" height="5" fill="#fe754f"/>
<rect x="866" y="302" width="5" height="5" fill="#fe6a42"/>
<rect x="871" y="302" width="5" height="5" fill="#fd5d36"/>
<rect x="876" y="302" width="5" height="5" fill="#fb4e2b"/>
<rect x="881" y="302" width="5" height="5" fill="#f93c20"/>
<rect x="886" y="302" width="5" height="5" fill="#f62b17"/>
<rect x="891" y="302" width="5" height="5" fill="#f21c10"/>
<rect x="896" y="302" width="5" height="5" fill="#ee100c"/>
<rect x="901" y="302" width="5" height="5" fill="#eb0808"/>
<rect x="906" y="302" width="5" height="5" fill="#e70306"/>
<rect x="911" y="302" width="5" height="5" fill="#e30304"/>
<rect x="916" y="302" width="5" height="5" fill="#df0503"/>
<rect x="921" y="302" width="5" height="5" fill="#db0902"/>
<rect x="926" y="302" width="5" height="5" fill="#d70d02"/>
<rect x="931" y="302" width="5" height="5" fill="#d40f02"/>
<rect x="936" y="302" width="5" height="5" fill="#d00f02"/>
<rect x="941" y="302" width="5" height="5" fill="#cb0e02"/>
<rect x="946" y="302" width="5" height="5" fill="#c40e01"/>
<rect x="951" y="302" width="5" height="5" fill="#bc0d01"/>
<rect x="956" y="302" width="5" height="5" fill="#b40d00"/>
<rect x="961" y="302" width="5" height="5" fill="#b40d00"/>
<rect x="966" y="302" width="5" height="5" fill="#b40d00"/>
<rect x="971" y="302" width="5" height="5" fill="#b40d00"/>
<rect x="666" y="307" width="5" height="5" fill="#00cbd1"/>
<rect x="671" y="307" width="5" height="5" fill="#00c7e0"/>
<rect x="676" y="307" width="5" height="5" fill="#00c7e0"/>
<rect x="681" y="307" width="5" height="5" fill="#00c7e0"/>
<rect x="686" y="307" width="5" height="5" fill="#00c8df"/>
<rect x="691" y="307" width="5" height="5" fill="#00cadf"/>
<rect x="696" y="307" width="5" height="5" fill="#00cbdf"/>
<rect x="701" y="307" width="5" height="5" fill="#01ccdf"/>
<rect x="706" y="307" width="5" height="5" fill="#04cde0"/>
<rect x="711" y="307" width="5" height="5" fill="#09cee0"/>
<rect x="716" y="307" width="5" height="5" fill="#0fcfe1"/>
<rect x="721" y="307" width="5" height="5" fill="#16d0e1"/>
<rect x="726" y="307" width="5" height="5" fill="#1cd2e1"/>
<rect x="731" y="307" width="5" height="5" fill="#22d2df"/>
<rect x="736" y="307" width="5" height="5" fill="#26d3dd"/>
<rect x="741" y="307" width="5" height="5" fill="#28d2d9"/>
<rect x="746" y="307" width="5" height="5" fill="#2ed1d7"/>
<rect x="751" y="307" width="5" height="5" fill="#41d2da"/>
<rect x="756" y="307" width="5" height="5" fill="#67d7e1"/>
<rect x="761" y="307" width="5" height="5" fill="#94deeb"/>
<rect x="766" y="307" width="5" height="5" fill="#b8e4f2"/>
<rect x="771" y="307" width="5" height="5" fill="#d2e8f7"/>
<rect x="776" y="307" width="5" height="5" fill="#e4eafb"/>
<rect x="781" y="307" width="5" height="5" fill="#f1ecfd"/>
<rect x="786" y="307" width="5" height="5" fill="#f9effe"/>
<rect x="791" y="307" width="5" height="5" fill="#fef2fc"/>
<rect x="796" y="307" width="5" height="5" fill="#fff2f6"/>
<rect x="801" y="307" width="5" height="5" fill="#ffeeed"/>
<rect x="806" y="307" width="5" height="5" fill="#ffe5e1"/>
<rect x="811" y="307" width="5" height="5" fill="#ffd9d2"/>
<rect x="816" y="307" width="5" height="5" fill="#ffcac2"/>
<rect x="821" y="307" width="5" height="5" fill="#ffbbb2"/>
<rect x="826" y="307" width="5" height="5" fill="#ffada3"/>
<rect x="831" y="307" width="5" height="5" fill="#ff9f95"/>
<rect x="836" y="307" width="5" height="5" fill="#fe9388"/>
<rect x="841" y="307" width="5" height="5" fill="#fe877c"/>
<rect x="846" y="307" width="5" height="5" fill="#fe7d6f"/>
<rect x="851" y="307" width="5" height="5" fill="#fe7363"/>
<rect x="856" y="307" width="5" height="5" fill="#fd6958"/>
<rect x="861" y="307" width="5" height="5" fill="#fd5e4c"/>
<rect x="866" y="307" width="5" height="5" fill="#fc5240"/>
<rect x="871" y="307" width="5" height="5" fill="#fb4535"/>
<rect x="876" y="307" width="5" height="5" fill="#f93529"/>
<rect x="881" y="307" width="5" height="5" fill="#f7241e"/>
<rect x="886" y="307" width="5" height="5" fill="#f41616"/>
<rect x="891" y="307" width="5" height="5" fill="#f10d11"/>
<rect x="896" y="307" width="5" height="5" fill="#ef050e"/>
<rect x="901" y="307" width="5" height="5" fill="#ec010b"/>
<rect x="906" y="307" width="5" height="5" fill="#e90009"/>
<rect x="911" y="307" width="5" height="5" fill="#e50007"/>
<rect x="916" y="307" width="5" height="5" fill="#e20206"/>
<rect x="921" y="307" width="5" height="5" fill="#de0606"/>
<rect x="926" y="307" width="5" height="5" fill="#da0905"/>
<rect x="931" y="307" width="5" height="5" fill="#d60b05"/>
<rect x="936" y="307" width="5" height="5" fill="#d00c05"/>
<rect x="941" y="307" width="5" height="5" fill="#ca0b04"/>
<rect x="946" y="307" width="5" height="5" fill="#c20b03"/>
<rect x="951" y="307" width="5" height="5" fill="#ba0a03"/>
<rect x="956" y="307" width="5" height="5" fill="#b10901"/>
<rect x="961" y="307" width="5" height="5" fill="#b10901"/>
<rect x="966" y="307" width="5" height="5" fill="#b10901"/>
<rect x="971" y="307" width="5" height="5" fill="#b10901"/>
<rect x="666" y="312" width="5" height="5" fill="#00c3e6"/>
<rect x="671" y="312" width="5" height="5" fill="#00c3e6"/>
<rect x="676" y="312" width="5" height="5" fill="#00c3e6"/>
<rect x="681" y="312" width="5" height="5" fill="#00c3e6"/>
<rect x="686" y="312" width="5" height="5" fill="#00c4e6"/>
<rect x="691" y="312" width="5" height="5" fill="#00c6e6"/>
<rect x="696" y="312" width="5" height="5" fill="#00c8e6"/>
<rect x="701" y="312" width="5" height="5" fill="#03c9e7"/>
<rect x="706" y="312" width="5" height="5" fill="#07cae7"/>
<rect x="711" y="312" width="5" height="5" fill="#0dcae8"/>
<rect x="716" y="312" width="5" height="5" fill="#15cbe9"/>
<rect x="721" y="312" width="5" height="5" fill="#1dcde9"/>
<rect x="726" y="312" width="5" height="5" fill="#27cee9"/>
<rect x="731" y="312" width="5" height="5" fill="#32cfe9"/>
<rect x="736" y="312" width="5" height="5" fill="#3bd0e7"/>
<rect x="741" y="312" width="5" height="5" fill="#40cfe5"/>
<rect x="746" y="312" width="5" height="5" fill="#45cde3"/>
<rect x="751" y="312" width="5" height="5" fill="#54cce4"/>
<rect x="756" y="312" width="5" height="5" fill="#6fcee7"/>
<rect x="761" y="312" width="5" height="5" fill="#90d1ed"/>
<rect x="766" y="312" width="5" height="5" fill="#afd5f1"/>
<rect x="771" y="312" width="5" height="5" fill="#c7d7f4"/>
<rect x="776" y="312" width="5" height="5" fill="#dad9f7"/>
<rect x="781" y="312" width="5" height="5" fill="#e8ddf8"/>
<rect x="786" y="312" width="5" height="5" fill="#f2e2f7"/>
<rect x="791" y="312" width="5" height="5" fill="#fae6f5"/>
<rect x="796" y="312" width="5" height="5" fill="#fee8ef"/>
<rect x="801" y="312" width="5" height="5" fill="#ffe3e5"/>
<rect x="806" y="312" width="5" height="5" fill="#ffd9d8"/>
<rect x="811" y="312" width="5" height="5" fill="#ffcbca"/>
<rect x="816" y="312" width="5" height="5" fill="#ffbbba"/>
<rect x="821" y="312" width="5" height="5" fill="#ffaaab"/>
<rect x="826" y="312" width="5" height="5" fill="#ff9a9c"/>
<rect x="831" y="312" width="5" height="5" fill="#ff8b8e"/>
<rect x="836" y="312" width="5" height="5" fill="#fe7d81"/>
<rect x="841" y="312" width="5" height="5" fill="#fe7176"/>
<rect x="846" y="312" width="5" height="5" fill="#fd666a"/>
<rect x="851" y="312" width="5" height="5" fill="#fd5c5f"/>
<rect x="856" y="312" width="5" height="5" fill="#fc5355"/>
<rect x="861" y="312" width="5" height="5" fill="#fc484a"/>
<rect x="866" y="312" width="5" height="5" fill="#fb3d3f"/>
<rect x="871" y="312" width="5" height="5" fill="#fa3135"/>
<rect x="876" y="312" width="5" height="5" fill="#f8222a"/>
<rect x="881" y="312" width="5" height="5" fill="#f61421"/>
<rect x="886" y="312" width="5" height="5" fill="#f40919"/>
<rect x="891" y="312" width="5" height="5" fill="#f10215"/>
<rect x="896" y="312" width="5" height="5" fill="#ef0012"/>
<rect x="901" y="312" width="5" height="5" fill="#ed000f"/>
<rect x="906" y="312" width="5" height="5" fill="#eb000d"/>
<rect x="911" y="312" width="5" height="5" fill="#e8000c"/>
<rect x="916" y="312" width="5" height="5" fill="#e5000b"/>
<rect x="921" y="312" width="5" height="5" fill="#e2030a"/>
<rect x="926" y="312" width="5" height="5" fill="#de060a"/>
<rect x="931" y="312" width="5" height="5" fill="#d90809"/>
<rect x="936" y="312" width="5" height="5" fill="#d20808"/>
<rect x="941" y="312" width="5" height="5" fill="#cb0807"/>
<rect x="946" y="312" width="5" height="5" fill="#c20806"/>
<rect x="951" y="312" width="5" height="5" fill="#c20806"/>
<rect x="956" y="312" width="5" height="5" fill="#b10901"/>
<rect x="961" y="312" width="5" height="5" fill="#b10901"/>
<rect x="966" y="312" width="5" height="5" fill="#b10901"/>
<rect x="666" y="317" width="5" height="5" fill="#00beea"/>
<rect x="671" y="317" width="5" height="5" fill="#00beea"/>
<rect x="676" y="317" width="5" height="5" fill="#00beea"/>
<rect x="681" y="317" width="5" height="5" fill="#00beea"/>
<rect x="686" y="317" width="5" height="5" fill="#00bfea"/>
<rect x="691" y="317" width="5" height="5" fill="#00c1eb"/>
<rect x="696" y="317" width="5" height="5" fill="#01c3eb"/>
<rect x="701" y="317" width="5" height="5" fill="#04c4ec"/>
<rect x="706" y="317" width="5" height="5" fill="#09c4ed"/>
<rect x="711" y="317" width="5" height="5" fill="#10c5ee"/>
<rect x="716" y="317" width="5" height="5" fill="#18c6ee"/>
<rect x="721" y="317" width="5" height="5" fill="#22c6ef"/>
<rect x="726" y="317" width="5" height="5" fill="#2ec8f0"/>
<rect x="731" y="317" width="5" height="5" fill="#3cc9f0"/>
<rect x="736" y="317" width="5" height="5" fill="#4ac9f0"/>
<rect x="741" y="317" width="5" height="5" fill="#51c8ee"/>
<rect x="746" y="317" width="5" height="5" fill="#55c4eb"/>
<rect x="751" y="317" width="5" height="5" fill="#60c2eb"/>
<rect x="756" y="317" width="5" height="5" fill="#75c1ec"/>
<rect x="761" y="317" width="5" height="5" fill="#8fc2ee"/>
<rect x="766" y="317" width="5" height="5" fill="#a8c3f0"/>
<rect x="771" y="317" width="5" height="5" fill="#bfc3f1"/>
<rect x="776" y="317" width="5" height="5" fill="#d1c4f1"/>
<rect x="781" y="317" width="5" height="5" fill="#dfc8f1"/>
<rect x="786" y="317" width="5" height="5" fill="#ecd0f0"/>
<rect x="791" y="317" width="5" height="5" fill="#f5d7ed"/>
<rect x="796" y="317" width="5" height="5" fill="#fcdbe7"/>
<rect x="801" y="317" width="5" height="5" fill="#ffd6dd"/>
<rect x="806" y="317" width="5" height="5" fill="#ffcad0"/>
<rect x="811" y="317" width="5" height="5" fill="#ffbac1"/>
<rect x="816" y="317" width="5" height="5" fill="#ffa8b1"/>
<rect x="821" y="317" width="5" height="5" fill="#ff97a2"/>
<rect x="826" y="317" width="5" height="5" fill="#ff8694"/>
<rect x="831" y="317" width="5" height="5" fill="#fe7687"/>
<rect x="836" y="317" width="5" height="5" fill="#fd677b"/>
<rect x="841" y="317" width="5" height="5" fill="#fd5b70"/>
<rect x="846" y="317" width="5" height="5" fill="#fc5066"/>
<rect x="851" y="317" width="5" height="5" fill="#fc475c"/>
<rect x="856" y="317" width="5" height="5" fill="#fb3e52"/>
<rect x="861" y="317" width="5" height="5" fill="#fb3549"/>
<rect x="866" y="317" width="5" height="5" fill="#fa2b40"/>
<rect x="871" y="317" width="5" height="5" fill="#f92137"/>
<rect x="876" y="317" width="5" height="5" fill="#f7152e"/>
<rect x="881" y="317" width="5" height="5" fill="#f50a26"/>
<rect x="886" y="317" width="5" height="5" fill="#f4011f"/>
<rect x="891" y="317" width="5" height="5" fill="#f2001b"/>
<rect x="896" y="317" width="5" height="5" fill="#f00017"/>
<rect x="901" y="317" width="5" height="5" fill="#ef0015"/>
<rect x="906" y="317" width="5" height="5" fill="#ed0013"/>
<rect x="911" y="317" width="5" height="5" fill="#eb0012"/>
<rect x="916" y="317" width="5" height="5" fill="#e90011"/>
<rect x="921" y="317" width="5" height="5" fill="#e60010"/>
<rect x="926" y="317" width="5" height="5" fill="#e2030f"/>
<rect x="931" y="317" width="5" height="5" fill="#dc040e"/>
<rect x="936" y="317" width="5" height="5" fill="#dc040e"/>
<rect x="941" y="317" width="5" height="5" fill="#cb0807"/>
<rect x="946" y="317" width="5" height="5" fill="#c20806"/>
<rect x="951" y="317" width="5" height="5" fill="#c20806"/>
<rect x="956" y="317" width="5" height="5" fill="#b10901"/>
<rect x="961" y="317" width="5" height="5" fill="#b10901"/>
<rect x="966" y="317" width="5" height="5" fill="#b10901"/>
<rect x="671" y="322" width="5" height="5" fill="#00beea"/>
<rect x="676" y="322" width="5" height="5" fill="#00beea"/>
<rect x="681" y="322" width="5" height="5" fill="#00beea"/>
<rect x="686" y="322" width="5" height="5" fill="#00baed"/>
<rect x="691" y="322" width="5" height="5" fill="#00bbee"/>
<rect x="696" y="322" width="5" height="5" fill="#02bdee"/>
<rect x="701" y="322" width="5" height="5" fill="#05bdef"/>
<rect x="706" y="322" width="5" height="5" fill="#0abef0"/>
<rect x="711" y="322" width="5" height="5" fill="#11bef1"/>
<rect x="716" y="322" width="5" height="5" fill="#19bef2"/>
<rect x="721" y="322" width="5" height="5" fill="#23bef3"/>
<rect x="726" y="322" width="5" height="5" fill="#2fbef4"/>
<rect x="731" y="322" width="5" height="5" fill="#3cbef4"/>
<rect x="736" y="322" width="5" height="5" fill="#48bef4"/>
<rect x="741" y="322" width="5" height="5" fill="#51bbf2"/>
<rect x="746" y="322" width="5" height="5" fill="#57b7f0"/>
<rect x="751" y="322" width="5" height="5" fill="#63b4ee"/>
<rect x="756" y="322" width="5" height="5" fill="#76b2ee"/>
<rect x="761" y="322" width="5" height="5" fill="#8db1ee"/>
<rect x="766" y="322" width="5" height="5" fill="#a4afed"/>
<rect x="771" y="322" width="5" height="5" fill="#b8aeed"/>
<rect x="776" y="322" width="5" height="5" fill="#c9aeeb"/>
<rect x="781" y="322" width="5" height="5" fill="#d8b1e9"/>
<rect x="786" y="322" width="5" height="5" fill="#e5bae7"/>
<rect x="791" y="322" width="5" height="5" fill="#f1c4e4"/>
<rect x="796" y="322" width="5" height="5" fill="#f9c9de"/>
<rect x="801" y="322" width="5" height="5" fill="#fec3d3"/>
<rect x="806" y="322" width="5" height="5" fill="#ffb6c6"/>
<rect x="811" y="322" width="5" height="5" fill="#ffa5b7"/>
<rect x="816" y="322" width="5" height="5" fill="#ff93a8"/>
<rect x="821" y="322" width="5" height="5" fill="#ff819a"/>
<rect x="826" y="322" width="5" height="5" fill="#fe708c"/>
<rect x="831" y="322" width="5" height="5" fill="#fd6080"/>
<rect x="836" y="322" width="5" height="5" fill="#fd5175"/>
<rect x="841" y="322" width="5" height="5" fill="#fc456a"/>
<rect x="846" y="322" width="5" height="5" fill="#fb3b61"/>
<rect x="851" y="322" width="5" height="5" fill="#fb3359"/>
<rect x="856" y="322" width="5" height="5" fill="#fb2b51"/>
<rect x="861" y="322" width="5" height="5" fill="#fa2449"/>
<rect x="866" y="322" width="5" height="5" fill="#f91d42"/>
<rect x="871" y="322" width="5" height="5" fill="#f8153b"/>
<rect x="876" y="322" width="5" height="5" fill="#f70c33"/>
<rect x="881" y="322" width="5" height="5" fill="#f5042d"/>
<rect x="886" y="322" width="5" height="5" fill="#f40027"/>
<rect x="891" y="322" width="5" height="5" fill="#f30022"/>
<rect x="896" y="322" width="5" height="5" fill="#f1001f"/>
<rect x="901" y="322" width="5" height="5" fill="#f0001c"/>
<rect x="906" y="322" width="5" height="5" fill="#ef001a"/>
<rect x="911" y="322" width="5" height="5" fill="#ed0018"/>
<rect x="916" y="322" width="5" height="5" fill="#ec0017"/>
<rect x="921" y="322" width="5" height="5" fill="#ea0015"/>
<rect x="926" y="322" width="5" height="5" fill="#ea0015"/>
<rect x="931" y="322" width="5" height="5" fill="#dc040e"/>
<rect x="936" y="322" width="5" height="5" fill="#dc040e"/>
<rect x="941" y="322" width="5" height="5" fill="#cb0807"/>
<rect x="946" y="322" width="5" height="5" fill="#c20806"/>
<rect x="951" y="322" width="5" height="5" fill="#c20806"/>
<rect x="956" y="322" width="5" height="5" fill="#c20806"/>
<rect x="671" y="327" width="5" height="5" fill="#00beea"/>
<rect x="676" y="327" width="5" height="5" fill="#00b4ef"/>
<rect x="681" y="327" width="5" height="5" fill="#00b4ef"/>
<rect x="686" y="327" width="5" height="5" fill="#00b4ef"/>
<rect x="691" y="327" width="5" height="5" fill="#01b5ef"/>
<rect x="696" y="327" width="5" height="5" fill="#03b6f0"/>
<rect x="701" y="327" width="5" height="5" fill="#06b6f1"/>
<rect x="706" y="327" width="5" height="5" fill="#0ab6f2"/>
<rect x="711" y="327" width="5" height="5" fill="#10b5f4"/>
<rect x="716" y="327" width="5" height="5" fill="#17b4f4"/>
<rect x="721" y="327" width="5" height="5" fill="#1fb3f5"/>
<rect x="726" y="327" width="5" height="5" fill="#29b2f6"/>
<rect x="731" y="327" width="5" height="5" fill="#33b0f6"/>
<rect x="736" y="327" width="5" height="5" fill="#3caef5"/>
<rect x="741" y="327" width="5" height="5" fill="#45aaf3"/>
<rect x="746" y="327" width="5" height="5" fill="#4ea6f1"/>
<rect x="751" y="327" width="5" height="5" fill="#5ea3ef"/>
<rect x="756" y="327" width="5" height="5" fill="#73a1ee"/>
<rect x="761" y="327" width="5" height="5" fill="#8b9fec"/>
<rect x="766" y="327" width="5" height="5" fill="#a19deb"/>
<rect x="771" y="327" width="5" height="5" fill="#b49ae8"/>
<rect x="776" y="327" width="5" height="5" fill="#c499e5"/>
<rect x="781" y="327" width="5" height="5" fill="#d39be2"/>
<rect x="786" y="327" width="5" height="5" fill="#e1a3de"/>
<rect x="791" y="327" width="5" height="5" fill="#edabd9"/>
<rect x="796" y="327" width="5" height="5" fill="#f6afd2"/>
<rect x="801" y="327" width="5" height="5" fill="#fba9c8"/>
<rect x="806" y="327" width="5" height="5" fill="#fd9dbb"/>
<rect x="811" y="327" width="5" height="5" fill="#fe8dac"/>
<rect x="816" y="327" width="5" height="5" fill="#ff7c9e"/>
<rect x="821" y="327" width="5" height="5" fill="#fe6a91"/>
<rect x="826" y="327" width="5" height="5" fill="#fd5a84"/>
<rect x="831" y="327" width="5" height="5" fill="#fd4a79"/>
<rect x="836" y="327" width="5" height="5" fill="#fc3c6f"/>
<rect x="841" y="327" width="5" height="5" fill="#fb3066"/>
<rect x="846" y="327" width="5" height="5" fill="#fb275e"/>
<rect x="851" y="327" width="5" height="5" fill="#fa2157"/>
<rect x="856" y="327" width="5" height="5" fill="#fa1c51"/>
<rect x="861" y="327" width="5" height="5" fill="#f9174b"/>
<rect x="866" y="327" width="5" height="5" fill="#f91245"/>
<rect x="871" y="327" width="5" height="5" fill="#f80c3f"/>
<rect x="876" y="327" width="5" height="5" fill="#f7063a"/>
<rect x="881" y="327" width="5" height="5" fill="#f50034"/>
<rect x="886" y="327" width="5" height="5" fill="#f4002f"/>
<rect x="891" y="327" width="5" height="5" fill="#f3002b"/>
<rect x="896" y="327" width="5" height="5" fill="#f20027"/>
<rect x="901" y="327" width="5" height="5" fill="#f10024"/>
<rect x="906" y="327" width="5" height="5" fill="#f00021"/>
<rect x="911" y="327" width="5" height="5" fill="#ef001f"/>
<rect x="916" y="327" width="5" height="5" fill="#ef001f"/>
<rect x="921" y="327" width="5" height="5" fill="#ea0015"/>
<rect x="926" y="327" width="5" height="5" fill="#ea0015"/>
<rect x="931" y="327" width="5" height="5" fill="#dc040e"/>
<rect x="936" y="327" width="5" height="5" fill="#dc040e"/>
<rect x="941" y="327" width="5" height="5" fill="#dc040e"/>
<rect x="946" y="327" width="5" height="5" fill="#c20806"/>
<rect x="671" y="332" width="5" height="5" fill="#00adf0"/>
<rect x="676" y="332" width="5" height="5" fill="#00adf0"/>
<rect x="681" y="332" width="5" height="5" fill="#00adf0"/>
<rect x="686" y="332" width="5" height="5" fill="#00adf0"/>
<rect x="691" y="332" width="5" height="5" fill="#01aef0"/>
<rect x="696" y="332" width="5" height="5" fill="#02aff1"/>
<rect x="701" y="332" width="5" height="5" fill="#05aef2"/>
<rect x="706" y="332" width="5" height="5" fill="#09adf3"/>
<rect x="711" y="332" width="5" height="5" fill="#0dacf4"/>
<rect x="716" y="332" width="5" height="5" fill="#13aaf5"/>
<rect x="721" y="332" width="5" height="5" fill="#19a7f6"/>
<rect x="726" y="332" width="5" height="5" fill="#1fa4f6"/>
<rect x="731" y="332" width="5" height="5" fill="#26a0f5"/>
<rect x="736" y="332" width="5" height="5" fill="#2c9cf4"/>
<rect x="741" y="332" width="5" height="5" fill="#3397f2"/>
<rect x="746" y="332" width="5" height="5" fill="#3e93f0"/>
<rect x="751" y="332" width="5" height="5" fill="#5390ee"/>
<rect x="756" y="332" width="5" height="5" fill="#6d8fec"/>
<rect x="761" y="332" width="5" height="5" fill="#888dea"/>
<rect x="766" y="332" width="5" height="5" fill="#9f8ae7"/>
<rect x="771" y="332" width="5" height="5" fill="#b288e4"/>
<rect x="776" y="332" width="5" height="5" fill="#c286df"/>
<rect x="781" y="332" width="5" height="5" fill="#d088db"/>
<rect x="786" y="332" width="5" height="5" fill="#de8cd5"/>
<rect x="791" y="332" width="5" height="5" fill="#e990cf"/>
<rect x="796" y="332" width="5" height="5" fill="#f291c6"/>
<rect x="801" y="332" width="5" height="5" fill="#f88bbb"/>
<rect x="806" y="332" width="5" height="5" fill="#fb80af"/>
<rect x="811" y="332" width="5" height="5" fill="#fc72a1"/>
<rect x="816" y="332" width="5" height="5" fill="#fd6394"/>
<rect x="821" y="332" width="5" height="5" fill="#fd5388"/>
<rect x="826" y="332" width="5" height="5" fill="#fc447c"/>
<rect x="831" y="332" width="5" height="5" fill="#fc3672"/>
<rect x="836" y="332" width="5" height="5" fill="#fb2969"/>
<rect x="841" y="332" width="5" height="5" fill="#fa1e61"/>
<rect x="846" y="332" width="5" height="5" fill="#fa175b"/>
<rect x="851" y="332" width="5" height="5" fill="#fa1356"/>
<rect x="856" y="332" width="5" height="5" fill="#f91051"/>
<rect x="861" y="332" width="5" height="5" fill="#f90d4d"/>
<rect x="866" y="332" width="5" height="5" fill="#f80a49"/>
<rect x="871" y="332" width="5" height="5" fill="#f70745"/>
<rect x="876" y="332" width="5" height="5" fill="#f60341"/>
<rect x="881" y="332" width="5" height="5" fill="#f5003d"/>
<rect x="886" y="332" width="5" height="5" fill="#f50038"/>
<rect x="891" y="332" width="5" height="5" fill="#f40033"/>
<rect x="896" y="332" width="5" height="5" fill="#f3002f"/>
<rect x="901" y="332" width="5" height="5" fill="#f2002b"/>
<rect x="906" y="332" width="5" height="5" fill="#f2002b"/>
<rect x="911" y="332" width="5" height="5" fill="#ef001f"/>
<rect x="916" y="332" width="5" height="5" fill="#ef001f"/>
<rect x="921" y="332" width="5" height="5" fill="#ea0015"/>
<rect x="926" y="332" width="5" height="5" fill="#ea0015"/>
<rect x="931" y="332" width="5" height="5" fill="#ea0015"/>
<rect x="671" y="337" width="5" height="5" fill="#00a7f0"/>
<rect x="676" y="337" width="5" height="5" fill="#00a7f0"/>
<rect x="681" y="337" width="5" height="5" fill="#00a7f0"/>
<rect x="686" y="337" width="5" height="5" fill="#00a7f0"/>
<rect x="691" y="337" width="5" height="5" fill="#00a7f1"/>
<rect x="696" y="337" width="5" height="5" fill="#02a7f1"/>
<rect x="701" y="337" width="5" height="5" fill="#04a5f3"/>
<rect x="706" y="337" width="5" height="5" fill="#07a3f4"/>
<rect x="711" y="337" width="5" height="5" fill="#0aa1f4"/>
<rect x="716" y="337" width="5" height="5" fill="#0e9ef5"/>
<rect x="721" y="337" width="5" height="5" fill="#129af5"/>
<rect x="726" y="337" width="5" height="5" fill="#1595f4"/>
<rect x="731" y="337" width="5" height="5" fill="#1990f3"/>
<rect x="736" y="337" width="5" height="5" fill="#1c8af2"/>
<rect x="741" y="337" width="5" height="5" fill="#2184f0"/>
<rect x="746" y="337" width="5" height="5" fill="#2c7fed"/>
<rect x="751" y="337" width="5" height="5" fill="#457dec"/>
<rect x="756" y="337" width="5" height="5" fill="#677dea"/>
<rect x="761" y="337" width="5" height="5" fill="#857ce8"/>
<rect x="766" y="337" width="5" height="5" fill="#9d79e4"/>
<rect x="771" y="337" width="5" height="5" fill="#af76df"/>
<rect x="776" y="337" width="5" height="5" fill="#c074da"/>
<rect x="781" y="337" width="5" height="5" fill="#ce74d4"/>
<rect x="786" y="337" width="5" height="5" fill="#db75cd"/>
<rect x="791" y="337" width="5" height="5" fill="#e676c4"/>
<rect x="796" y="337" width="5" height="5" fill="#ef73bb"/>
<rect x="801" y="337" width="5" height="5" fill="#f56daf"/>
<rect x="806" y="337" width="5" height="5" fill="#f863a3"/>
<rect x="811" y="337" width="5" height="5" fill="#fa5796"/>
<rect x="816" y="337" width="5" height="5" fill="#fb4a8a"/>
<rect x="821" y="337" width="5" height="5" fill="#fb3d7f"/>
<rect x="826" y="337" width="5" height="5" fill="#fb3175"/>
<rect x="831" y="337" width="5" height="5" fill="#fb256c"/>
<rect x="836" y="337" width="5" height="5" fill="#fa1a65"/>
<rect x="841" y="337" width="5" height="5" fill="#fa115e"/>
<rect x="846" y="337" width="5" height="5" fill="#fa0c5a"/>
<rect x="851" y="337" width="5" height="5" fill="#f90956"/>
<rect x="856" y="337" width="5" height="5" fill="#f90753"/>
<rect x="861" y="337" width="5" height="5" fill="#f80650"/>
<rect x="866" y="337" width="5" height="5" fill="#f8054d"/>
<rect x="871" y="337" width="5" height="5" fill="#f7034b"/>
<rect x="876" y="337" width="5" height="5" fill="#f60148"/>
<rect x="881" y="337" width="5" height="5" fill="#f50045"/>
<rect x="886" y="337" width="5" height="5" fill="#f40040"/>
<rect x="891" y="337" width="5" height="5" fill="#f4003c"/>
<rect x="896" y="337" width="5" height="5" fill="#f4003c"/>
<rect x="901" y="337" width="5" height="5" fill="#f2002b"/>
<rect x="906" y="337" width="5" height="5" fill="#f2002b"/>
<rect x="911" y="337" width="5" height="5" fill="#ef001f"/>
<rect x="916" y="337" width="5" height="5" fill="#ef001f"/>
<rect x="921" y="337" width="5" height="5" fill="#ef001f"/>
<rect x="676" y="342" width="5" height="5" fill="#00a7f0"/>
<rect x="681" y="342" width="5" height="5" fill="#00a7f0"/>
<rect x="686" y="342" width="5" height="5" fill="#00a7f0"/>
<rect x="691" y="342" width="5" height="5" fill="#009ff1"/>
<rect x="696" y="342" width="5" height="5" fill="#019ef2"/>
<rect x="701" y="342" width="5" height="5" fill="#039cf2"/>
<rect x="706" y="342" width="5" height="5" fill="#0599f3"/>
<rect x="711" y="342" width="5" height="5" fill="#0796f3"/>
<rect x="716" y="342" width="5" height="5" fill="#0992f3"/>
<rect x="721" y="342" width="5" height="5" fill="#0b8df3"/>
<rect x="726" y="342" width="5" height="5" fill="#0d87f2"/>
<rect x="731" y="342" width="5" height="5" fill="#0f80f1"/>
<rect x="736" y="342" width="5" height="5" fill="#1179ef"/>
<rect x="741" y="342" width="5" height="5" fill="#1573ed"/>
<rect x="746" y="342" width="5" height="5" fill="#206dea"/>
<rect x="751" y="342" width="5" height="5" fill="#3b6be9"/>
<rect x="756" y="342" width="5" height="5" fill="#606be7"/>
<rect x="761" y="342" width="5" height="5" fill="#816be4"/>
<rect x="766" y="342" width="5" height="5" fill="#9868e0"/>
<rect x="771" y="342" width="5" height="5" fill="#ab65db"/>
<rect x="776" y="342" width="5" height="5" fill="#bc62d4"/>
<rect x="781" y="342" width="5" height="5" fill="#cb60cd"/>
<rect x="786" y="342" width="5" height="5" fill="#d95fc5"/>
<rect x="791" y="342" width="5" height="5" fill="#e45dbb"/>
<rect x="796" y="342" width="5" height="5" fill="#ec58b0"/>
<rect x="801" y="342" width="5" height="5" fill="#f251a5"/>
<rect x="806" y="342" width="5" height="5" fill="#f54798"/>
<rect x="811" y="342" width="5" height="5" fill="#f73d8c"/>
<rect x="816" y="342" width="5" height="5" fill="#f83281"/>
<rect x="821" y="342" width="5" height="5" fill="#f92877"/>
<rect x="826" y="342" width="5" height="5" fill="#fa206f"/>
<rect x="831" y="342" width="5" height="5" fill="#fa1768"/>
<rect x="836" y="342" width="5" height="5" fill="#fa1062"/>
<rect x="841" y="342" width="5" height="5" fill="#fa095d"/>
<rect x="846" y="342" width="5" height="5" fill="#f90559"/>
<rect x="851" y="342" width="5" height="5" fill="#f90356"/>
<rect x="856" y="342" width="5" height="5" fill="#f90254"/>
<rect x="861" y="342" width="5" height="5" fill="#f80253"/>
<rect x="866" y="342" width="5" height="5" fill="#f70152"/>
<rect x="871" y="342" width="5" height="5" fill="#f70151"/>
<rect x="876" y="342" width="5" height="5" fill="#f6014f"/>
<rect x="881" y="342" width="5" height="5" fill="#f5004d"/>
<rect x="886" y="342" width="5" height="5" fill="#f5004d"/>
<rect x="891" y="342" width="5" height="5" fill="#f4003c"/>
<rect x="896" y="342" width="5" height="5" fill="#f4003c"/>
<rect x="901" y="342" width="5" height="5" fill="#f2002b"/>
<rect x="906" y="342" width="5" height="5" fill="#f2002b"/>
<rect x="911" y="342" width="5" height="5" fill="#f2002b"/>
<rect x="676" y="347" width="5" height="5" fill="#00a7f0"/>
<rect x="681" y="347" width="5" height="5" fill="#0097f2"/>
<rect x="686" y="347" width="5" height="5" fill="#0097f2"/>
<rect x="691" y="347" width="5" height="5" fill="#0097f2"/>
<rect x="696" y="347" width="5" height="5" fill="#0195f2"/>
<rect x="701" y="347" width="5" height="5" fill="#0292f2"/>
<rect x="706" y="347" width="5" height="5" fill="#038ff2"/>
<rect x="711" y="347" width="5" height="5" fill="#058bf2"/>
<rect x="716" y="347" width="5" height="5" fill="#0685f2"/>
<rect x="721" y="347" width="5" height="5" fill="#0780f1"/>
<rect x="726" y="347" width="5" height="5" fill="#0879ef"/>
<rect x="731" y="347" width="5" height="5" fill="#0972ed"/>
<rect x="736" y="347" width="5" height="5" fill="#0b6aeb"/>
<rect x="741" y="347" width="5" height="5" fill="#1063e9"/>
<rect x="746" y="347" width="5" height="5" fill="#1d5ee7"/>
<rect x="751" y="347" width="5" height="5" fill="#355be5"/>
<rect x="756" y="347" width="5" height="5" fill="#565ae3"/>
<rect x="761" y="347" width="5" height="5" fill="#7659e1"/>
<rect x="766" y="347" width="5" height="5" fill="#9056dc"/>
<rect x="771" y="347" width="5" height="5" fill="#a553d7"/>
<rect x="776" y="347" width="5" height="5" fill="#b850d0"/>
<rect x="781" y="347" width="5" height="5" fill="#c84dc7"/>
<rect x="786" y="347" width="5" height="5" fill="#d64abe"/>
<rect x="791" y="347" width="5" height="5" fill="#e146b3"/>
<rect x="796" y="347" width="5" height="5" fill="#ea40a8"/>
<rect x="801" y="347" width="5" height="5" fill="#f0389c"/>
<rect x="806" y="347" width="5" height="5" fill="#f32f8f"/>
<rect x="811" y="347" width="5" height="5" fill="#f52584"/>
<rect x="816" y="347" width="5" height="5" fill="#f61d79"/>
<rect x="821" y="347" width="5" height="5" fill="#f71771"/>
<rect x="826" y="347" width="5" height="5" fill="#f9126a"/>
<rect x="831" y="347" width="5" height="5" fill="#f90d64"/>
<rect x="836" y="347" width="5" height="5" fill="#fa0860"/>
<rect x="841" y="347" width="5" height="5" fill="#fa045c"/>
<rect x="846" y="347" width="5" height="5" fill="#f90159"/>
<rect x="851" y="347" width="5" height="5" fill="#f90058"/>
<rect x="856" y="347" width="5" height="5" fill="#f80057"/>
<rect x="861" y="347" width="5" height="5" fill="#f80056"/>
<rect x="866" y="347" width="5" height="5" fill="#f70056"/>
<rect x="871" y="347" width="5" height="5" fill="#f60055"/>
<rect x="876" y="347" width="5" height="5" fill="#f60055"/>
<rect x="881" y="347" width="5" height="5" fill="#f5004d"/>
<rect x="886" y="347" width="5" height="5" fill="#f5004d"/>
<rect x="891" y="347" width="5" height="5" fill="#f4003c"/>
<rect x="896" y="347" width="5" height="5" fill="#f4003c"/>
<rect x="901" y="347" width="5" height="5" fill="#f4003c"/>
<rect x="676" y="352" width="5" height="5" fill="#008ff1"/>
<rect x="681" y="352" width="5" height="5" fill="#008ff1"/>
<rect x="686" y="352" width="5" height="5" fill="#008ff1"/>
<rect x="691" y="352" width="5" height="5" fill="#008ff1"/>
<rect x="696" y="352" width="5" height="5" fill="#008cf1"/>
<rect x="701" y="352" width="5" height="5" fill="#0189f1"/>
<rect x="706" y="352" width="5" height="5" fill="#0284f1"/>
<rect x="711" y="352" width="5" height="5" fill="#037ff0"/>
<rect x="716" y="352" width="5" height="5" fill="#0479ef"/>
<rect x="721" y="352" width="5" height="5" fill="#0573ee"/>
<rect x="726" y="352" width="5" height="5" fill="#056cec"/>
<rect x="731" y="352" width="5" height="5" fill="#0664ea"/>
<rect x="736" y="352" width="5" height="5" fill="#095de8"/>
<rect x="741" y="352" width="5" height="5" fill="#0f56e6"/>
<rect x="746" y="352" width="5" height="5" fill="#1c50e4"/>
<rect x="751" y="352" width="5" height="5" fill="#314ce2"/>
<rect x="756" y="352" width="5" height="5" fill="#4d49e0"/>
<rect x="761" y="352" width="5" height="5" fill="#6b48dd"/>
<rect x="766" y="352" width="5" height="5" fill="#8746d9"/>
<rect x="771" y="352" width="5" height="5" fill="#9e43d3"/>
<rect x="776" y="352" width="5" height="5" fill="#b340cc"/>
<rect x="781" y="352" width="5" height="5" fill="#c53cc3"/>
<rect x="786" y="352" width="5" height="5" fill="#d438b9"/>
<rect x="791" y="352" width="5" height="5" fill="#e033ae"/>
<rect x="796" y="352" width="5" height="5" fill="#e82ca2"/>
<rect x="801" y="352" width="5" height="5" fill="#ee2495"/>
<rect x="806" y="352" width="5" height="5" fill="#f11b89"/>
<rect x="811" y="352" width="5" height="5" fill="#f2127e"/>
<rect x="816" y="352" width="5" height="5" fill="#f40d74"/>
<rect x="821" y="352" width="5" height="5" fill="#f60a6d"/>
<rect x="826" y="352" width="5" height="5" fill="#f70968"/>
<rect x="831" y="352" width="5" height="5" fill="#f90763"/>
<rect x="836" y="352" width="5" height="5" fill="#f9045f"/>
<rect x="841" y="352" width="5" height="5" fill="#f9025c"/>
<rect x="846" y="352" width="5" height="5" fill="#f9005b"/>
<rect x="851" y="352" width="5" height="5" fill="#f8005a"/>
<rect x="856" y="352" width="5" height="5" fill="#f80059"/>
<rect x="861" y="352" width="5" height="5" fill="#f70059"/>
<rect x="866" y="352" width="5" height="5" fill="#f70059"/>
<rect x="871" y="352" width="5" height="5" fill="#f60055"/>
<rect x="876" y="352" width="5" height="5" fill="#f60055"/>
<rect x="881" y="352" width="5" height="5" fill="#f5004d"/>
<rect x="886" y="352" width="5" height="5" fill="#f5004d"/>
<rect x="891" y="352" width="5" height="5" fill="#f5004d"/>
<rect x="681" y="357" width="5" height="5" fill="#008ff1"/>
<rect x="686" y="357" width="5" height="5" fill="#008ff1"/>
<rect x="691" y="357" width="5" height="5" fill="#008ff1"/>
<rect x="696" y="357" width="5" height="5" fill="#0083f0"/>
<rect x="701" y="357" width="5" height="5" fill="#017ef0"/>
<rect x="706" y="357" width="5" height="5" fill="#0279ef"/>
<rect x="711" y="357" width="5" height="5" fill="#0373ee"/>
<rect x="716" y="357" width="5" height="5" fill="#046dec"/>
<rect x="721" y="357" width="5" height="5" fill="#0567eb"/>
<rect x="726" y="357" width="5" height="5" fill="#0560e9"/>
<rect x="731" y="357" width="5" height="5" fill="#0758e6"/>
<rect x="736" y="357" width="5" height="5" fill="#0a51e4"/>
<rect x="741" y="357" width="5" height="5" fill="#114ae2"/>
<rect x="746" y="357" width="5" height="5" fill="#1c43e0"/>
<rect x="751" y="357" width="5" height="5" fill="#2e3ede"/>
<rect x="756" y="357" width="5" height="5" fill="#473bdc"/>
<rect x="761" y="357" width="5" height="5" fill="#643ad9"/>
<rect x="766" y="357" width="5" height="5" fill="#8038d5"/>
<rect x="771" y="357" width="5" height="5" fill="#9835d0"/>
<rect x="776" y="357" width="5" height="5" fill="#ae32c9"/>
<rect x="781" y="357" width="5" height="5" fill="#c12ec0"/>
<rect x="786" y="357" width="5" height="5" fill="#d129b6"/>
<rect x="791" y="357" width="5" height="5" fill="#de23aa"/>
<rect x="796" y="357" width="5" height="5" fill="#e71d9e"/>
<rect x="801" y="357" width="5" height="5" fill="#ed1692"/>
<rect x="806" y="357" width="5" height="5" fill="#f00e87"/>
<rect x="811" y="357" width="5" height="5" fill="#f1077c"/>
<rect x="816" y="357" width="5" height="5" fill="#f20374"/>
<rect x="821" y="357" width="5" height="5" fill="#f4036d"/>
<rect x="826" y="357" width="5" height="5" fill="#f60468"/>
<rect x="831" y="357" width="5" height="5" fill="#f80464"/>
<rect x="836" y="357" width="5" height="5" fill="#f80360"/>
<rect x="841" y="357" width="5" height="5" fill="#f9015e"/>
<rect x="846" y="357" width="5" height="5" fill="#f8005d"/>
<rect x="851" y="357" width="5" height="5" fill="#f8005d"/>
<rect x="856" y="357" width="5" height="5" fill="#f80059"/>
<rect x="861" y="357" width="5" height="5" fill="#f70059"/>
<rect x="866" y="357" width="5" height="5" fill="#f70059"/>
<rect x="871" y="357" width="5" height="5" fill="#f60055"/>
<rect x="876" y="357" width="5" height="5" fill="#f60055"/>
<rect x="881" y="357" width="5" height="5" fill="#f60055"/>
<rect x="681" y="362" width="5" height="5" fill="#008ff1"/>
<rect x="686" y="362" width="5" height="5" fill="#0179ef"/>
<rect x="691" y="362" width="5" height="5" fill="#0179ef"/>
<rect x="696" y="362" width="5" height="5" fill="#0179ef"/>
<rect x="701" y="362" width="5" height="5" fill="#0274ee"/>
<rect x="706" y="362" width="5" height="5" fill="#036eed"/>
<rect x="711" y="362" width="5" height="5" fill="#0468eb"/>
<rect x="716" y="362" width="5" height="5" fill="#0562e9"/>
<rect x="721" y="362" width="5" height="5" fill="#065be7"/>
<rect x="726" y="362" width="5" height="5" fill="#0754e5"/>
<rect x="731" y="362" width="5" height="5" fill="#094ee3"/>
<rect x="736" y="362" width="5" height="5" fill="#0e47e0"/>
<rect x="741" y="362" width="5" height="5" fill="#1440de"/>
<rect x="746" y="362" width="5" height="5" fill="#1e39dd"/>
<rect x="751" y="362" width="5" height="5" fill="#2e34db"/>
<rect x="756" y="362" width="5" height="5" fill="#4530d9"/>
<rect x="761" y="362" width="5" height="5" fill="#602ed6"/>
<rect x="766" y="362" width="5" height="5" fill="#7b2cd3"/>
<rect x="771" y="362" width="5" height="5" fill="#942ace"/>
<rect x="776" y="362" width="5" height="5" fill="#aa26c8"/>
<rect x="781" y="362" width="5" height="5" fill="#bd22c0"/>
<rect x="786" y="362" width="5" height="5" fill="#cf1eb5"/>
<rect x="791" y="362" width="5" height="5" fill="#dd18a9"/>
<rect x="796" y="362" width="5" height="5" fill="#e7129d"/>
<rect x="801" y="362" width="5" height="5" fill="#ec0c92"/>
<rect x="806" y="362" width="5" height="5" fill="#ee0788"/>
<rect x="811" y="362" width="5" height="5" fill="#ef027f"/>
<rect x="816" y="362" width="5" height="5" fill="#f10077"/>
<rect x="821" y="362" width="5" height="5" fill="#f20170"/>
<rect x="826" y="362" width="5" height="5" fill="#f5026b"/>
<rect x="831" y="362" width="5" height="5" fill="#f60466"/>
<rect x="836" y="362" width="5" height="5" fill="#f70463"/>
<rect x="841" y="362" width="5" height="5" fill="#f70463"/>
<rect x="846" y="362" width="5" height="5" fill="#f8005d"/>
<rect x="851" y="362" width="5" height="5" fill="#f8005d"/>
<rect x="856" y="362" width="5" height="5" fill="#f80059"/>
<rect x="861" y="362" width="5" height="5" fill="#f70059"/>
<rect x="866" y="362" width="5" height="5" fill="#f70059"/>
<rect x="871" y="362" width="5" height="5" fill="#f70059"/>
<rect x="681" y="367" width="5" height="5" fill="#016fee"/>
<rect x="686" y="367" width="5" height="5" fill="#016fee"/>
<rect x="691" y="367" width="5" height="5" fill="#016fee"/>
<rect x="696" y="367" width="5" height="5" fill="#016fee"/>
<rect x="701" y="367" width="5" height="5" fill="#036aec"/>
<rect x="706" y="367" width="5" height="5" fill="#0464eb"/>
<rect x="711" y="367" width="5" height="5" fill="#065de9"/>
<rect x="716" y="367" width="5" height="5" fill="#0757e6"/>
<rect x="721" y="367" width="5" height="5" fill="#0851e4"/>
<rect x="726" y="367" width="5" height="5" fill="#094be2"/>
<rect x="731" y="367" width="5" height="5" fill="#0c45df"/>
<rect x="736" y="367" width="5" height="5" fill="#113edd"/>
<rect x="741" y="367" width="5" height="5" fill="#1838db"/>
<rect x="746" y="367" width="5" height="5" fill="#2232d9"/>
<rect x="751" y="367" width="5" height="5" fill="#322dd7"/>
<rect x="756" y="367" width="5" height="5" fill="#4729d6"/>
<rect x="761" y="367" width="5" height="5" fill="#6126d3"/>
<rect x="766" y="367" width="5" height="5" fill="#7a24d1"/>
<rect x="771" y="367" width="5" height="5" fill="#9221cd"/>
<rect x="776" y="367" width="5" height="5" fill="#a61ec9"/>
<rect x="781" y="367" width="5" height="5" fill="#b91ac1"/>
<rect x="786" y="367" width="5" height="5" fill="#cb16b6"/>
<rect x="791" y="367" width="5" height="5" fill="#db10aa"/>
<rect x="796" y="367" width="5" height="5" fill="#e50c9f"/>
<rect x="801" y="367" width="5" height="5" fill="#e90896"/>
<rect x="806" y="367" width="5" height="5" fill="#eb048e"/>
<rect x="811" y="367" width="5" height="5" fill="#ec0185"/>
<rect x="816" y="367" width="5" height="5" fill="#ee007e"/>
<rect x="821" y="367" width="5" height="5" fill="#f00177"/>
<rect x="826" y="367" width="5" height="5" fill="#f20371"/>
<rect x="831" y="367" width="5" height="5" fill="#f20371"/>
<rect x="836" y="367" width="5" height="5" fill="#f70463"/>
<rect x="841" y="367" width="5" height="5" fill="#f70463"/>
<rect x="846" y="367" width="5" height="5" fill="#f8005d"/>
<rect x="851" y="367" width="5" height="5" fill="#f8005d"/>
<rect x="856" y="367" width="5" height="5" fill="#f8005d"/>
<rect x="861" y="367" width="5" height="5" fill="#f70059"/>
<rect x="686" y="372" width="5" height="5" fill="#016fee"/>
<rect x="691" y="372" width="5" height="5" fill="#016fee"/>
<rect x="696" y="372" width="5" height="5" fill="#016fee"/>
<rect x="701" y="372" width="5" height="5" fill="#045fea"/>
<rect x="706" y="372" width="5" height="5" fill="#065ae8"/>
<rect x="711" y="372" width="5" height="5" fill="#0753e6"/>
<rect x="716" y="372" width="5" height="5" fill="#094de3"/>
<rect x="721" y="372" width="5" height="5" fill="#0a47e1"/>
<rect x="726" y="372" width="5" height="5" fill="#0b42df"/>
<rect x="731" y="372" width="5" height="5" fill="#0e3ddc"/>
<rect x="736" y="372" width="5" height="5" fill="#1338da"/>
<rect x="741" y="372" width="5" height="5" fill="#1a32d8"/>
<rect x="746" y="372" width="5" height="5" fill="#262dd6"/>
<rect x="751" y="372" width="5" height="5" fill="#3628d5"/>
<rect x="756" y="372" width="5" height="5" fill="#4b24d3"/>
<rect x="761" y="372" width="5" height="5" fill="#6320d0"/>
<rect x="766" y="372" width="5" height="5" fill="#7b1ece"/>
<rect x="771" y="372" width="5" height="5" fill="#911bcc"/>
<rect x="776" y="372" width="5" height="5" fill="#a418ca"/>
<rect x="781" y="372" width="5" height="5" fill="#b515c5"/>
<rect x="786" y="372" width="5" height="5" fill="#c711ba"/>
<rect x="791" y="372" width="5" height="5" fill="#d70dae"/>
<rect x="796" y="372" width="5" height="5" fill="#e109a4"/>
<rect x="801" y="372" width="5" height="5" fill="#e4079e"/>
<rect x="806" y="372" width="5" height="5" fill="#e60497"/>
<rect x="811" y="372" width="5" height="5" fill="#e7038f"/>
<rect x="816" y="372" width="5" height="5" fill="#e90286"/>
<rect x="821" y="372" width="5" height="5" fill="#e90286"/>
<rect x="826" y="372" width="5" height="5" fill="#f20371"/>
<rect x="831" y="372" width="5" height="5" fill="#f20371"/>
<rect x="836" y="372" width="5" height="5" fill="#f70463"/>
<rect x="841" y="372" width="5" height="5" fill="#f70463"/>
<rect x="846" y="372" width="5" height="5" fill="#f70463"/>
<rect x="686" y="377" width="5" height="5" fill="#016fee"/>
<rect x="691" y="377" width="5" height="5" fill="#0556e8"/>
<rect x="696" y="377" width="5" height="5" fill="#0556e8"/>
<rect x="701" y="377" width="5" height="5" fill="#0556e8"/>
<rect x="706" y="377" width="5" height="5" fill="#0650e5"/>
<rect x="711" y="377" width="5" height="5" fill="#084ae3"/>
<rect x="716" y="377" width="5" height="5" fill="#0a45e1"/>
<rect x="721" y="377" width="5" height="5" fill="#0b40de"/>
<rect x="726" y="377" width="5" height="5" fill="#0b3bdc"/>
<rect x="731" y="377" width="5" height="5" fill="#0e37da"/>
<rect x="736" y="377" width="5" height="5" fill="#1332d8"/>
<rect x="741" y="377" width="5" height="5" fill="#1b2ed6"/>
<rect x="746" y="377" width="5" height="5" fill="#2729d4"/>
<rect x="751" y="377" width="5" height="5" fill="#3824d2"/>
<rect x="756" y="377" width="5" height="5" fill="#4d20d0"/>
<rect x="761" y="377" width="5" height="5" fill="#651dce"/>
<rect x="766" y="377" width="5" height="5" fill="#7d1acc"/>
<rect x="771" y="377" width="5" height="5" fill="#9317cb"/>
<rect x="776" y="377" width="5" height="5" fill="#a315ca"/>
<rect x="781" y="377" width="5" height="5" fill="#b113c8"/>
<rect x="786" y="377" width="5" height="5" fill="#c010c0"/>
<rect x="791" y="377" width="5" height="5" fill="#ce0db7"/>
<rect x="796" y="377" width="5" height="5" fill="#d60bb1"/>
<rect x="801" y="377" width="5" height="5" fill="#d909ab"/>
<rect x="806" y="377" width="5" height="5" fill="#dd07a2"/>
<rect x="811" y="377" width="5" height="5" fill="#dd07a2"/>
<rect x="816" y="377" width="5" height="5" fill="#e90286"/>
<rect x="821" y="377" width="5" height="5" fill="#e90286"/>
<rect x="826" y="377" width="5" height="5" fill="#f20371"/>
<rect x="831" y="377" width="5" height="5" fill="#f20371"/>
<rect x="836" y="377" width="5" height="5" fill="#f20371"/>
<rect x="691" y="382" width="5" height="5" fill="#0556e8"/>
<rect x="696" y="382" width="5" height="5" fill="#0556e8"/>
<rect x="701" y="382" width="5" height="5" fill="#0556e8"/>
<rect x="706" y="382" width="5" height="5" fill="#0748e3"/>
<rect x="711" y="382" width="5" height="5" fill="#0843e0"/>
<rect x="716" y="382" width="5" height="5" fill="#093ede"/>
<rect x="721" y="382" width="5" height="5" fill="#0a39dc"/>
<rect x="726" y="382" width="5" height="5" fill="#0b36da"/>
<rect x="731" y="382" width="5" height="5" fill="#0d32d8"/>
<rect x="736" y="382" width="5" height="5" fill="#122fd6"/>
<rect x="741" y="382" width="5" height="5" fill="#1a2bd4"/>
<rect x="746" y="382" width="5" height="5" fill="#2726d3"/>
<rect x="751" y="382" width="5" height="5" fill="#3822d1"/>
<rect x="756" y="382" width="5" height="5" fill="#4d1ece"/>
<rect x="761" y="382" width="5" height="5" fill="#651acc"/>
<rect x="766" y="382" width="5" height="5" fill="#7d17ca"/>
<rect x="771" y="382" width="5" height="5" fill="#9415c8"/>
<rect x="776" y="382" width="5" height="5" fill="#a313c9"/>
<rect x="781" y="382" width="5" height="5" fill="#ae12c9"/>
<rect x="786" y="382" width="5" height="5" fill="#b810c6"/>
<rect x="791" y="382" width="5" height="5" fill="#c10fc2"/>
<rect x="796" y="382" width="5" height="5" fill="#c70fbf"/>
<rect x="801" y="382" width="5" height="5" fill="#c70fbf"/>
<rect x="806" y="382" width="5" height="5" fill="#dd07a2"/>
<rect x="811" y="382" width="5" height="5" fill="#dd07a2"/>
<rect x="816" y="382" width="5" height="5" fill="#e90286"/>
<rect x="821" y="382" width="5" height="5" fill="#e90286"/>
<rect x="826" y="382" width="5" height="5" fill="#e90286"/>
<rect x="691" y="387" width="5" height="5" fill="#0556e8"/>
<rect x="696" y="387" width="5" height="5" fill="#0741e0"/>
<rect x="701" y="387" width="5" height="5" fill="#0741e0"/>
<rect x="706" y="387" width="5" height="5" fill="#0741e0"/>
<rect x="711" y="387" width="5" height="5" fill="#083cdd"/>
<rect x="716" y="387" width="5" height="5" fill="#0938db"/>
<rect x="721" y="387" width="5" height="5" fill="#0934d9"/>
<rect x="726" y="387" width="5" height="5" fill="#0931d7"/>
<rect x="731" y="387" width="5" height="5" fill="#0b2fd6"/>
<rect x="736" y="387" width="5" height="5" fill="#102cd5"/>
<rect x="741" y="387" width="5" height="5" fill="#1829d3"/>
<rect x="746" y="387" width="5" height="5" fill="#2525d1"/>
<rect x="751" y="387" width="5" height="5" fill="#3621cf"/>
<rect x="756" y="387" width="5" height="5" fill="#4a1dcd"/>
<rect x="761" y="387" width="5" height="5" fill="#611acb"/>
<rect x="766" y="387" width="5" height="5" fill="#7916ca"/>
<rect x="771" y="387" width="5" height="5" fill="#8e14c9"/>
<rect x="776" y="387" width="5" height="5" fill="#9d13ca"/>
<rect x="781" y="387" width="5" height="5" fill="#a712cb"/>
<rect x="786" y="387" width="5" height="5" fill="#af11cb"/>
<rect x="791" y="387" width="5" height="5" fill="#af11cb"/>
<rect x="796" y="387" width="5" height="5" fill="#c70fbf"/>
<rect x="801" y="387" width="5" height="5" fill="#c70fbf"/>
<rect x="806" y="387" width="5" height="5" fill="#dd07a2"/>
<rect x="811" y="387" width="5" height="5" fill="#dd07a2"/>
<rect x="816" y="387" width="5" height="5" fill="#dd07a2"/>
<rect x="696" y="392" width="5" height="5" fill="#0741e0"/>
<rect x="701" y="392" width="5" height="5" fill="#0741e0"/>
<rect x="706" y="392" width="5" height="5" fill="#0741e0"/>
<rect x="711" y="392" width="5" height="5" fill="#0836da"/>
<rect x="716" y="392" width="5" height="5" fill="#0832d8"/>
<rect x="721" y="392" width="5" height="5" fill="#0830d6"/>
<rect x="726" y="392" width="5" height="5" fill="#082ed5"/>
<rect x="731" y="392" width="5" height="5" fill="#0a2cd4"/>
<rect x="736" y="392" width="5" height="5" fill="#0d2ad3"/>
<rect x="741" y="392" width="5" height="5" fill="#1528d2"/>
<rect x="746" y="392" width="5" height="5" fill="#2224d1"/>
<rect x="751" y="392" width="5" height="5" fill="#3220cf"/>
<rect x="756" y="392" width="5" height="5" fill="#451dcd"/>
<rect x="761" y="392" width="5" height="5" fill="#5a1acc"/>
<rect x="766" y="392" width="5" height="5" fill="#6f17cb"/>
<rect x="771" y="392" width="5" height="5" fill="#8314ca"/>
<rect x="776" y="392" width="5" height="5" fill="#9213cb"/>
<rect x="781" y="392" width="5" height="5" fill="#9213cb"/>
<rect x="786" y="392" width="5" height="5" fill="#af11cb"/>
<rect x="791" y="392" width="5" height="5" fill="#af11cb"/>
<rect x="796" y="392" width="5" height="5" fill="#c70fbf"/>
<rect x="801" y="392" width="5" height="5" fill="#c70fbf"/>
<rect x="806" y="392" width="5" height="5" fill="#c70fbf"/>
<rect x="696" y="397" width="5" height="5" fill="#0741e0"/>
<rect x="701" y="397" width="5" height="5" fill="#0830d7"/>
<rect x="706" y="397" width="5" height="5" fill="#0830d7"/>
<rect x="711" y="397" width="5" height="5" fill="#0830d7"/>
<rect x="716" y="397" width="5" height="5" fill="#092ed5"/>
<rect x="721" y="397" width="5" height="5" fill="#092cd4"/>
<rect x="726" y="397" width="5" height="5" fill="#082bd3"/>
<rect x="731" y="397" width="5" height="5" fill="#092ad2"/>
<rect x="736" y="397" width="5" height="5" fill="#0c29d2"/>
<rect x="741" y="397" width="5" height="5" fill="#1326d1"/>
<rect x="746" y="397" width="5" height="5" fill="#1f23d0"/>
<rect x="751" y="397" width="5" height="5" fill="#2e20cf"/>
<rect x="756" y="397" width="5" height="5" fill="#3f1dce"/>
<rect x="761" y="397" width="5" height="5" fill="#511acd"/>
<rect x="766" y="397" width="5" height="5" fill="#511acd"/>
<rect x="771" y="397" width="5" height="5" fill="#8314ca"/>
<rect x="776" y="397" width="5" height="5" fill="#9213cb"/>
<rect x="781" y="397" width="5" height="5" fill="#9213cb"/>
<rect x="786" y="397" width="5" height="5" fill="#af11cb"/>
<rect x="791" y="397" width="5" height="5" fill="#af11cb"/>
<rect x="796" y="397" width="5" height="5" fill="#af11cb"/>
<rect x="701" y="402" width="5" height="5" fill="#0830d7"/>
<rect x="706" y="402" width="5" height="5" fill="#0830d7"/>
<rect x="711" y="402" width="5" height="5" fill="#0830d7"/>
<rect x="716" y="402" width="5" height="5" fill="#0a29d3"/>
<rect x="721" y="402" width="5" height="5" fill="#0928d2"/>
<rect x="726" y="402" width="5" height="5" fill="#0a28d1"/>
<rect x="731" y="402" width="5" height="5" fill="#0a27d0"/>
<rect x="736" y="402" width="5" height="5" fill="#0e27d0"/>
<rect x="741" y="402" width="5" height="5" fill="#1425d0"/>
<rect x="746" y="402" width="5" height="5" fill="#1f22cf"/>
<rect x="751" y="402" width="5" height="5" fill="#2c1fcf"/>
<rect x="756" y="402" width="5" height="5" fill="#2c1fcf"/>
<rect x="761" y="402" width="5" height="5" fill="#511acd"/>
<rect x="766" y="402" width="5" height="5" fill="#511acd"/>
<rect x="771" y="402" width="5" height="5" fill="#8314ca"/>
<rect x="776" y="402" width="5" height="5" fill="#9213cb"/>
<rect x="781" y="402" width="5" height="5" fill="#9213cb"/>
<rect x="786" y="402" width="5" height="5" fill="#9213cb"/>
<rect x="701" y="407" width="5" height="5" fill="#0830d7"/>
<rect x="706" y="407" width="5" height="5" fill="#0830d7"/>
<rect x="711" y="407" width="5" height="5" fill="#0a29d3"/>
<rect x="716" y="407" width="5" height="5" fill="#0a29d3"/>
<rect x="721" y="407" width="5" height="5" fill="#0b26d0"/>
<rect x="726" y="407" width="5" height="5" fill="#0b26cf"/>
<rect x="731" y="407" width="5" height="5" fill="#0d25cf"/>
<rect x="736" y="407" width="5" height="5" fill="#1025cf"/>
<rect x="741" y="407" width="5" height="5" fill="#1623cf"/>
<rect x="746" y="407" width="5" height="5" fill="#1623cf"/>
<rect x="751" y="407" width="5" height="5" fill="#2c1fcf"/>
<rect x="756" y="407" width="5" height="5" fill="#2c1fcf"/>
<rect x="761" y="407" width="5" height="5" fill="#511acd"/>
<rect x="766" y="407" width="5" height="5" fill="#511acd"/>
<rect x="771" y="407" width="5" height="5" fill="#511acd"/>
<rect x="776" y="407" width="5" height="5" fill="#9213cb"/>
<rect x="706" y="412" width="5" height="5" fill="#0a29d3"/>
<rect x="711" y="412" width="5" height="5" fill="#0a29d3"/>
<rect x="716" y="412" width="5" height="5" fill="#0b26d0"/>
<rect x="721" y="412" width="5" height="5" fill="#0b26d0"/>
<rect x="726" y="412" width="5" height="5" fill="#0d24ce"/>
<rect x="731" y="412" width="5" height="5" fill="#0f24cd"/>
<rect x="736" y="412" width="5" height="5" fill="#0f24cd"/>
<rect x="741" y="412" width="5" height="5" fill="#1623cf"/>
<rect x="746" y="412" width="5" height="5" fill="#1623cf"/>
<rect x="751" y="412" width="5" height="5" fill="#2c1fcf"/>
<rect x="756" y="412" width="5" height="5" fill="#2c1fcf"/>
<rect x="761" y="412" width="5" height="5" fill="#2c1fcf"/>
<rect x="711" y="417" width="5" height="5" fill="#0b26d0"/>
<rect x="716" y="417" width="5" height="5" fill="#0b26d0"/>
<rect x="721" y="417" width="5" height="5" fill="#0d24ce"/>
<rect x="726" y="417" width="5" height="5" fill="#0d24ce"/>
<rect x="731" y="417" width="5" height="5" fill="#0f24cd"/>
<rect x="736" y="417" width="5" height="5" fill="#0f24cd"/>
<rect x="741" y="417" width="5" height="5" fill="#1623cf"/>
<rect x="746" y="417" width="5" height="5" fill="#1623cf"/>
<rect x="751" y="417" width="5" height="5" fill="#1623cf"/>
<rect x="716" y="422" width="5" height="5" fill="#0d24ce"/>
<rect x="721" y="422" width="5" height="5" fill="#0d24ce"/>
<rect x="726" y="422" width="5" height="5" fill="#0d24ce"/>
<rect x="731" y="422" width="5" height="5" fill="#0f24cd"/>
<rect x="736" y="422" width="5" height="5" fill="#0f24cd"/>
<rect x="741" y="422" width="5" height="5" fill="#0f24cd"/>
<rect x="726" y="427" width="5" height="5" fill="#0d24ce"/>
<rect x="731" y="427" width="5" height="5" fill="#0f24cd"/></g></g>
<g class="sans" font-weight="bold" font-size="15.8" fill="#e0e0e0"><text x="615.5" y="422.7" textLength="19.5" lengthAdjust="spacingAndGlyphs">0.0</text><text x="615.5" y="381.1" textLength="19.5" lengthAdjust="spacingAndGlyphs">0.1</text><text x="615.5" y="339.6" textLength="19.5" lengthAdjust="spacingAndGlyphs">0.2</text><text x="615.5" y="298.0" textLength="19.5" lengthAdjust="spacingAndGlyphs">0.3</text><text x="615.5" y="256.5" textLength="19.5" lengthAdjust="spacingAndGlyphs">0.4</text><text x="615.5" y="214.9" textLength="19.5" lengthAdjust="spacingAndGlyphs">0.5</text><text x="615.5" y="173.3" textLength="19.5" lengthAdjust="spacingAndGlyphs">0.6</text><text x="615.5" y="131.8" textLength="19.5" lengthAdjust="spacingAndGlyphs">0.7</text><text x="615.5" y="90.2" textLength="19.5" lengthAdjust="spacingAndGlyphs">0.8</text><text x="615.5" y="48.7" textLength="19.5" lengthAdjust="spacingAndGlyphs">0.9</text></g>
<g class="sans" font-weight="bold" font-size="15.8" fill="#e0e0e0"><text x="650.9" y="456.9" textLength="19.5" lengthAdjust="spacingAndGlyphs">0.0</text><text x="692.6" y="456.9" textLength="19.5" lengthAdjust="spacingAndGlyphs">0.1</text><text x="734.3" y="456.9" textLength="19.5" lengthAdjust="spacingAndGlyphs">0.2</text><text x="776.0" y="456.9" textLength="19.5" lengthAdjust="spacingAndGlyphs">0.3</text><text x="817.7" y="456.9" textLength="19.5" lengthAdjust="spacingAndGlyphs">0.4</text><text x="859.5" y="456.9" textLength="19.5" lengthAdjust="spacingAndGlyphs">0.5</text><text x="901.2" y="456.9" textLength="19.5" lengthAdjust="spacingAndGlyphs">0.6</text><text x="942.9" y="456.9" textLength="19.5" lengthAdjust="spacingAndGlyphs">0.7</text><text x="984.6" y="456.9" textLength="19.5" lengthAdjust="spacingAndGlyphs">0.8</text></g>
<text class="serif" x="643.1" y="47" font-size="35.6" font-weight="bold" fill="#fff" textLength="41.4" lengthAdjust="spacingAndGlyphs">(b)</text>
<line x1="697.8" y1="291.4" x2="697.8" y2="340" stroke="#000" stroke-width="2.9"/>
<path d="M692.6,333.5 L697.8,352 L703,333.5 L697.8,338.5 Z" fill="#000"/>
<g stroke-width="1.9" fill="none">
<path d="M709.5,310.7 L726,327 M726,310.7 L709.5,327" stroke="#ee2424"/>
<path d="M709.5,333.2 L726,349.6 M726,333.2 L709.5,349.6" stroke="#e06020"/>
</g>
<g class="serif" font-size="16.4" font-weight="bold" fill="#111">
<text x="736.2" y="317.6" textLength="110" lengthAdjust="spacingAndGlyphs">(0.1418, 0.2385)</text>
<text x="736.2" y="348.4" textLength="110" lengthAdjust="spacingAndGlyphs">(0.1413, 0.1853)</text>
</g>
</svg>
</body></html>
